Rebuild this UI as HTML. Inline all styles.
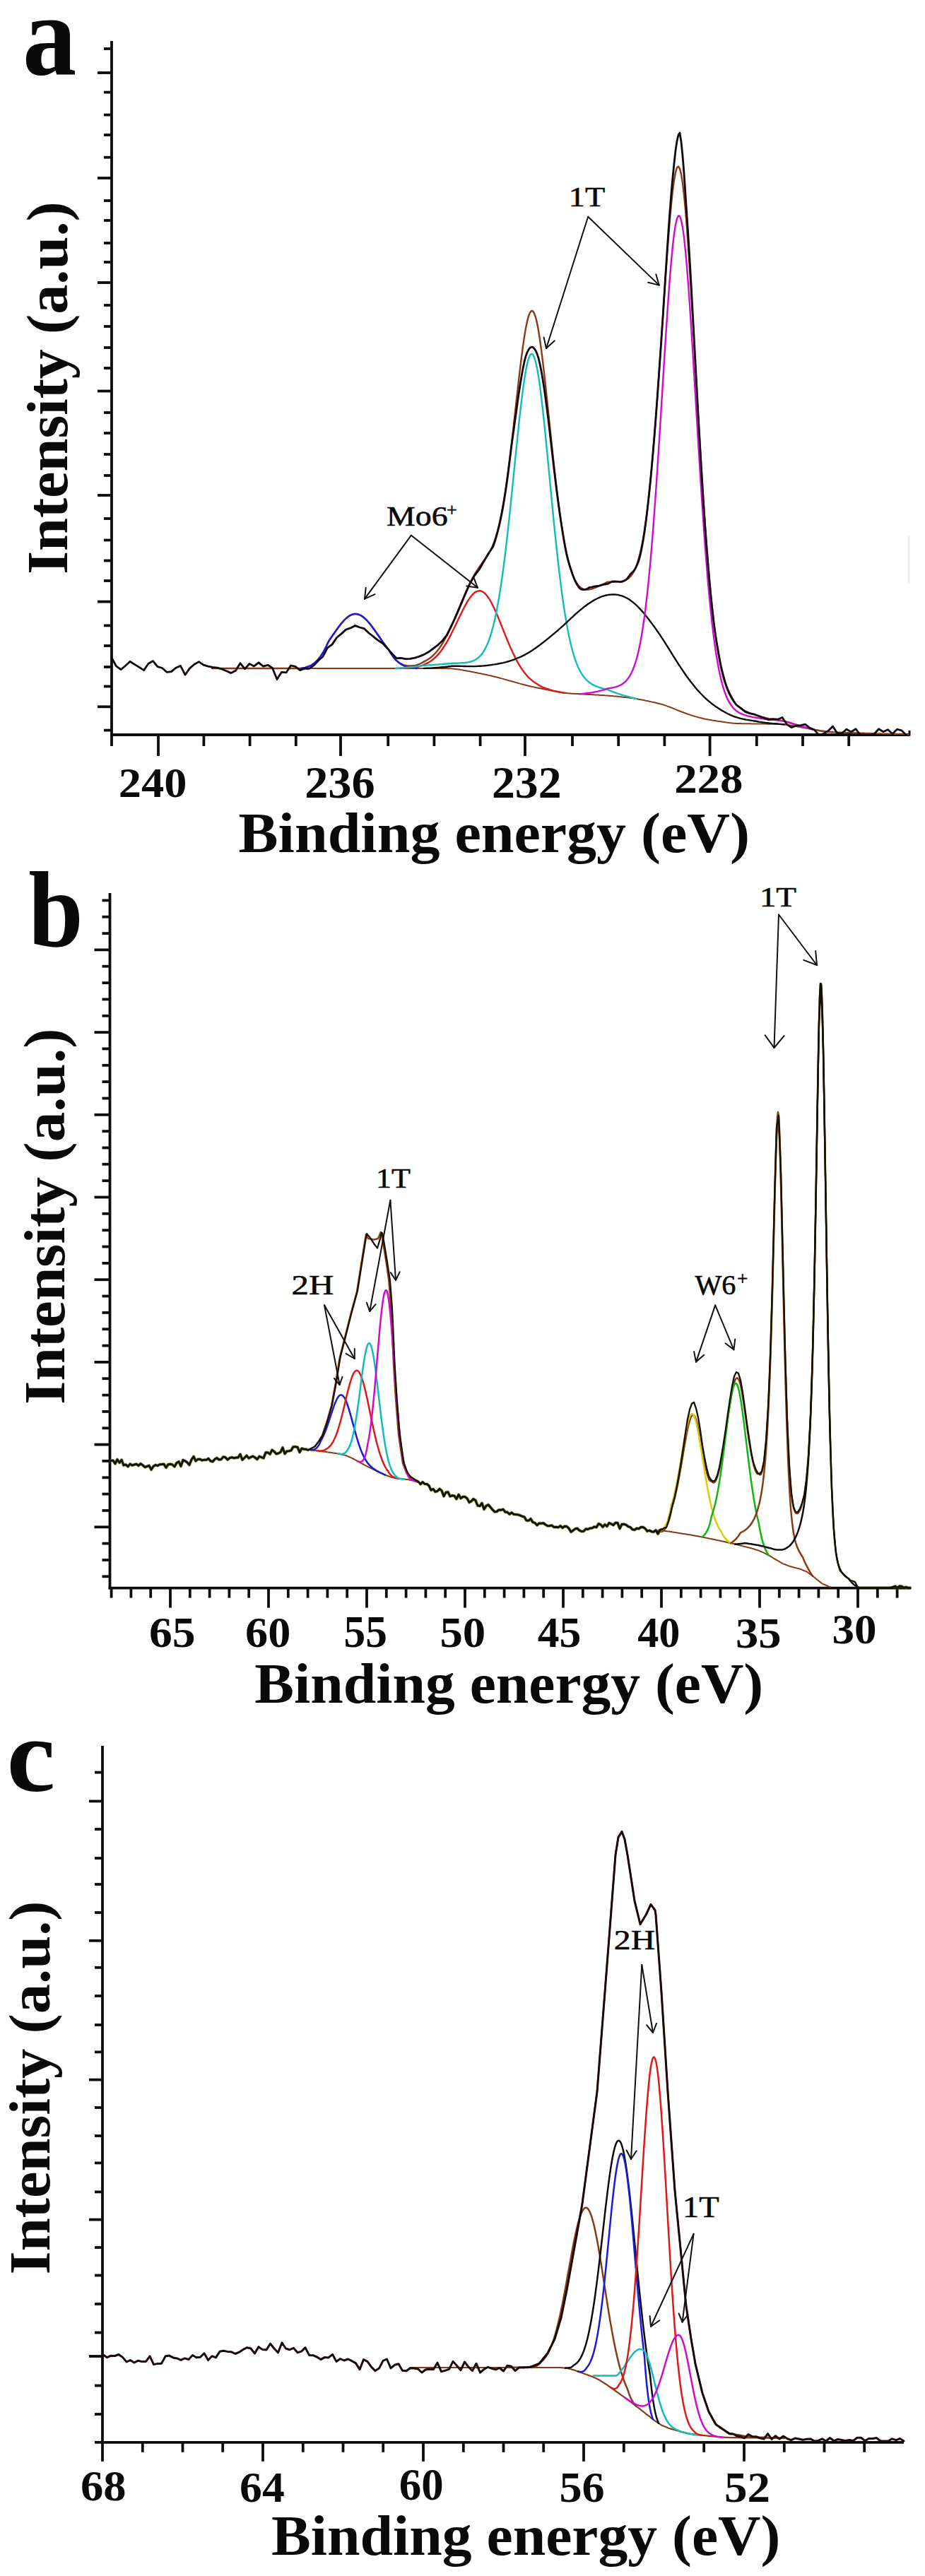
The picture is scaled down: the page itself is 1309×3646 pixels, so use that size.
<!DOCTYPE html>
<html><head><meta charset="utf-8"><title>XPS spectra</title>
<style>
html,body{margin:0;padding:0;background:#fff;}
body{width:1309px;height:3646px;overflow:hidden;font-family:"Liberation Serif",serif;}
svg{display:block;}
</style></head><body>
<svg width="1309" height="3646" viewBox="0 0 1309 3646" font-family="'Liberation Serif', serif" fill="#0a0a0a">
<rect width="1309" height="3646" fill="#ffffff"/>
<line x1="158.0" y1="58.0" x2="158.0" y2="1041.9" stroke="#0c0c0c" stroke-width="3.80" stroke-linecap="butt"/>
<line x1="156.1" y1="1040.0" x2="1287.0" y2="1040.0" stroke="#0c0c0c" stroke-width="3.80" stroke-linecap="butt"/>
<line x1="138.0" y1="103.0" x2="158.0" y2="103.0" stroke="#0c0c0c" stroke-width="3.80" stroke-linecap="butt"/>
<line x1="138.0" y1="252.0" x2="158.0" y2="252.0" stroke="#0c0c0c" stroke-width="3.80" stroke-linecap="butt"/>
<line x1="138.0" y1="400.0" x2="158.0" y2="400.0" stroke="#0c0c0c" stroke-width="3.80" stroke-linecap="butt"/>
<line x1="138.0" y1="553.5" x2="158.0" y2="553.5" stroke="#0c0c0c" stroke-width="3.80" stroke-linecap="butt"/>
<line x1="138.0" y1="701.0" x2="158.0" y2="701.0" stroke="#0c0c0c" stroke-width="3.80" stroke-linecap="butt"/>
<line x1="138.0" y1="851.6" x2="158.0" y2="851.6" stroke="#0c0c0c" stroke-width="3.80" stroke-linecap="butt"/>
<line x1="138.0" y1="1000.3" x2="158.0" y2="1000.3" stroke="#0c0c0c" stroke-width="3.80" stroke-linecap="butt"/>
<line x1="147.0" y1="69.0" x2="158.0" y2="69.0" stroke="#0c0c0c" stroke-width="3.80" stroke-linecap="butt"/>
<line x1="147.0" y1="130.6" x2="158.0" y2="130.6" stroke="#0c0c0c" stroke-width="3.80" stroke-linecap="butt"/>
<line x1="147.0" y1="162.6" x2="158.0" y2="162.6" stroke="#0c0c0c" stroke-width="3.80" stroke-linecap="butt"/>
<line x1="147.0" y1="191.0" x2="158.0" y2="191.0" stroke="#0c0c0c" stroke-width="3.80" stroke-linecap="butt"/>
<line x1="147.0" y1="222.7" x2="158.0" y2="222.7" stroke="#0c0c0c" stroke-width="3.80" stroke-linecap="butt"/>
<line x1="147.0" y1="284.0" x2="158.0" y2="284.0" stroke="#0c0c0c" stroke-width="3.80" stroke-linecap="butt"/>
<line x1="147.0" y1="312.0" x2="158.0" y2="312.0" stroke="#0c0c0c" stroke-width="3.80" stroke-linecap="butt"/>
<line x1="147.0" y1="344.0" x2="158.0" y2="344.0" stroke="#0c0c0c" stroke-width="3.80" stroke-linecap="butt"/>
<line x1="147.0" y1="371.0" x2="158.0" y2="371.0" stroke="#0c0c0c" stroke-width="3.80" stroke-linecap="butt"/>
<line x1="147.0" y1="432.0" x2="158.0" y2="432.0" stroke="#0c0c0c" stroke-width="3.80" stroke-linecap="butt"/>
<line x1="147.0" y1="462.0" x2="158.0" y2="462.0" stroke="#0c0c0c" stroke-width="3.80" stroke-linecap="butt"/>
<line x1="147.0" y1="492.0" x2="158.0" y2="492.0" stroke="#0c0c0c" stroke-width="3.80" stroke-linecap="butt"/>
<line x1="147.0" y1="521.0" x2="158.0" y2="521.0" stroke="#0c0c0c" stroke-width="3.80" stroke-linecap="butt"/>
<line x1="147.0" y1="584.0" x2="158.0" y2="584.0" stroke="#0c0c0c" stroke-width="3.80" stroke-linecap="butt"/>
<line x1="147.0" y1="613.0" x2="158.0" y2="613.0" stroke="#0c0c0c" stroke-width="3.80" stroke-linecap="butt"/>
<line x1="147.0" y1="643.0" x2="158.0" y2="643.0" stroke="#0c0c0c" stroke-width="3.80" stroke-linecap="butt"/>
<line x1="147.0" y1="673.0" x2="158.0" y2="673.0" stroke="#0c0c0c" stroke-width="3.80" stroke-linecap="butt"/>
<line x1="147.0" y1="734.0" x2="158.0" y2="734.0" stroke="#0c0c0c" stroke-width="3.80" stroke-linecap="butt"/>
<line x1="147.0" y1="764.5" x2="158.0" y2="764.5" stroke="#0c0c0c" stroke-width="3.80" stroke-linecap="butt"/>
<line x1="147.0" y1="793.5" x2="158.0" y2="793.5" stroke="#0c0c0c" stroke-width="3.80" stroke-linecap="butt"/>
<line x1="147.0" y1="822.0" x2="158.0" y2="822.0" stroke="#0c0c0c" stroke-width="3.80" stroke-linecap="butt"/>
<line x1="147.0" y1="885.4" x2="158.0" y2="885.4" stroke="#0c0c0c" stroke-width="3.80" stroke-linecap="butt"/>
<line x1="147.0" y1="914.0" x2="158.0" y2="914.0" stroke="#0c0c0c" stroke-width="3.80" stroke-linecap="butt"/>
<line x1="147.0" y1="944.0" x2="158.0" y2="944.0" stroke="#0c0c0c" stroke-width="3.80" stroke-linecap="butt"/>
<line x1="147.0" y1="971.5" x2="158.0" y2="971.5" stroke="#0c0c0c" stroke-width="3.80" stroke-linecap="butt"/>
<line x1="147.0" y1="1033.6" x2="158.0" y2="1033.6" stroke="#0c0c0c" stroke-width="3.80" stroke-linecap="butt"/>
<line x1="224.0" y1="1040.0" x2="224.0" y2="1070.0" stroke="#0c0c0c" stroke-width="3.80" stroke-linecap="butt"/>
<line x1="482.0" y1="1040.0" x2="482.0" y2="1070.0" stroke="#0c0c0c" stroke-width="3.80" stroke-linecap="butt"/>
<line x1="743.0" y1="1040.0" x2="743.0" y2="1070.0" stroke="#0c0c0c" stroke-width="3.80" stroke-linecap="butt"/>
<line x1="1004.6" y1="1040.0" x2="1004.6" y2="1070.0" stroke="#0c0c0c" stroke-width="3.80" stroke-linecap="butt"/>
<line x1="158.0" y1="1040.0" x2="158.0" y2="1056.0" stroke="#0c0c0c" stroke-width="3.80" stroke-linecap="butt"/>
<line x1="288.4" y1="1040.0" x2="288.4" y2="1056.0" stroke="#0c0c0c" stroke-width="3.80" stroke-linecap="butt"/>
<line x1="353.6" y1="1040.0" x2="353.6" y2="1056.0" stroke="#0c0c0c" stroke-width="3.80" stroke-linecap="butt"/>
<line x1="418.8" y1="1040.0" x2="418.8" y2="1056.0" stroke="#0c0c0c" stroke-width="3.80" stroke-linecap="butt"/>
<line x1="549.2" y1="1040.0" x2="549.2" y2="1056.0" stroke="#0c0c0c" stroke-width="3.80" stroke-linecap="butt"/>
<line x1="614.4" y1="1040.0" x2="614.4" y2="1056.0" stroke="#0c0c0c" stroke-width="3.80" stroke-linecap="butt"/>
<line x1="679.6" y1="1040.0" x2="679.6" y2="1056.0" stroke="#0c0c0c" stroke-width="3.80" stroke-linecap="butt"/>
<line x1="810.0" y1="1040.0" x2="810.0" y2="1056.0" stroke="#0c0c0c" stroke-width="3.80" stroke-linecap="butt"/>
<line x1="875.2" y1="1040.0" x2="875.2" y2="1056.0" stroke="#0c0c0c" stroke-width="3.80" stroke-linecap="butt"/>
<line x1="940.4" y1="1040.0" x2="940.4" y2="1056.0" stroke="#0c0c0c" stroke-width="3.80" stroke-linecap="butt"/>
<line x1="1070.8" y1="1040.0" x2="1070.8" y2="1056.0" stroke="#0c0c0c" stroke-width="3.80" stroke-linecap="butt"/>
<line x1="1136.0" y1="1040.0" x2="1136.0" y2="1056.0" stroke="#0c0c0c" stroke-width="3.80" stroke-linecap="butt"/>
<line x1="1201.2" y1="1040.0" x2="1201.2" y2="1056.0" stroke="#0c0c0c" stroke-width="3.80" stroke-linecap="butt"/>
<line x1="1287.0" y1="1034.0" x2="1287.0" y2="1041.6" stroke="#0c0c0c" stroke-width="3.00" stroke-linecap="butt"/>
<line x1="1286.0" y1="758.0" x2="1286.0" y2="826.0" stroke="#ececec" stroke-width="3.00" stroke-linecap="butt"/>
<path d="M300.0 946.0 L302.0 946.0 L304.0 946.0 L306.0 946.0 L308.0 946.0 L310.0 946.0 L312.0 946.0 L314.0 946.0 L316.0 946.0 L318.0 946.0 L320.0 946.0 L322.0 946.0 L324.0 946.0 L326.0 946.0 L328.0 946.0 L330.0 946.0 L332.0 946.0 L334.0 946.0 L336.0 946.0 L338.0 946.0 L340.0 946.0 L342.0 946.0 L344.0 946.0 L346.0 946.0 L348.0 946.0 L350.0 946.0 L352.0 946.0 L354.0 946.0 L356.0 946.0 L358.0 946.0 L360.0 946.0 L362.0 946.0 L364.0 946.0 L366.0 946.0 L368.0 946.0 L370.0 946.0 L372.0 946.0 L374.0 946.0 L376.0 946.0 L378.0 946.0 L380.0 946.0 L382.0 946.0 L384.0 946.0 L386.0 946.0 L388.0 946.0 L390.0 946.0 L392.0 946.0 L394.0 946.0 L396.0 946.0 L398.0 946.0 L400.0 946.0 L402.0 946.0 L404.0 946.0 L406.0 946.0 L408.0 946.0 L410.0 946.0 L412.0 946.0 L414.0 946.0 L416.0 946.0 L418.0 946.0 L420.0 946.0 L422.0 946.0 L424.0 946.0 L426.0 946.0 L428.0 946.0 L430.0 946.0 L432.0 946.0 L434.0 946.0 L436.0 946.0 L438.0 946.0 L440.0 946.0 L442.0 946.0 L444.0 946.0 L446.0 946.0 L448.0 946.0 L450.0 946.0 L452.0 946.0 L454.0 946.0 L456.0 946.0 L458.0 946.0 L460.0 946.0 L462.0 946.0 L464.0 946.0 L466.0 946.0 L468.0 946.0 L470.0 946.0 L472.0 946.0 L474.0 946.0 L476.0 946.0 L478.0 946.0 L480.0 946.0 L482.0 946.0 L484.0 946.0 L486.0 946.0 L488.0 946.0 L490.0 946.0 L492.0 946.0 L494.0 946.0 L496.0 946.0 L498.0 946.0 L500.0 946.0 L502.0 946.0 L504.0 946.0 L506.0 946.0 L508.0 946.0 L510.0 946.0 L512.0 946.0 L514.0 946.0 L516.0 946.0 L518.0 946.0 L520.0 946.0 L522.0 946.0 L524.0 946.0 L526.0 946.0 L528.0 946.0 L530.0 946.0 L532.0 946.0 L534.0 946.0 L536.0 946.0 L538.0 946.0 L540.0 946.0 L542.0 946.0 L544.0 946.0 L546.0 946.0 L548.0 946.0 L550.0 946.0 L552.0 946.0 L554.0 946.0 L556.0 946.0 L558.0 946.0 L560.0 946.0 L562.0 946.0 L564.0 946.0 L566.0 946.0 L568.0 946.0 L570.0 946.0 L572.0 946.0 L574.0 946.0 L576.0 946.0 L578.0 946.0 L580.0 946.0 L582.0 946.0 L584.0 946.0 L586.0 946.0 L588.0 946.0 L590.0 946.0 L592.0 946.0 L594.0 946.0 L596.0 946.0 L598.0 946.0 L600.0 946.0 L602.0 946.0 L604.0 946.0 L606.0 946.0 L608.0 946.0 L610.0 946.0 L612.0 946.0 L614.0 946.0 L616.0 946.0 L618.0 946.0 L620.0 946.0 L622.0 946.0 L624.0 946.0 L626.0 946.0 L628.0 946.0 L630.0 946.0 L632.0 946.1 L634.0 946.2 L636.0 946.2 L638.0 946.3 L640.0 946.4 L642.0 946.6 L644.0 946.9 L646.0 947.1 L648.0 947.4 L650.0 947.6 L652.0 948.0 L654.0 948.3 L656.0 948.7 L658.0 949.0 L660.0 949.4 L662.0 949.8 L664.0 950.1 L666.0 950.5 L668.0 950.9 L670.0 951.3 L672.0 951.7 L674.0 952.1 L676.0 952.5 L678.0 952.9 L680.0 953.3 L682.0 953.8 L684.0 954.2 L686.0 954.6 L688.0 955.0 L690.0 955.4 L692.0 955.9 L694.0 956.3 L696.0 956.7 L698.0 957.2 L700.0 957.7 L702.0 958.2 L704.0 958.8 L706.0 959.3 L708.0 959.8 L710.0 960.4 L712.0 960.9 L714.0 961.5 L716.0 962.0 L718.0 962.6 L720.0 963.2 L722.0 963.7 L724.0 964.3 L726.0 964.8 L728.0 965.4 L730.0 966.0 L732.0 966.5 L734.0 967.1 L736.0 967.6 L738.0 968.2 L740.0 968.7 L742.0 969.2 L744.0 969.8 L746.0 970.3 L748.0 970.8 L750.0 971.2 L752.0 971.7 L754.0 972.1 L756.0 972.6 L758.0 973.0 L760.0 973.4 L762.0 973.8 L764.0 974.2 L766.0 974.6 L768.0 975.0 L770.0 975.4 L772.0 975.8 L774.0 976.2 L776.0 976.6 L778.0 977.0 L780.0 977.4 L782.0 977.8 L784.0 978.2 L786.0 978.6 L788.0 979.0 L790.0 979.4 L792.0 979.7 L794.0 980.0 L796.0 980.3 L798.0 980.7 L800.0 980.8 L802.0 981.0 L804.0 981.2 L806.0 981.4 L808.0 981.6 L810.0 981.7 L812.0 981.8 L814.0 981.9 L816.0 982.0 L818.0 982.1 L820.0 982.2 L822.0 982.3 L824.0 982.4 L826.0 982.5 L828.0 982.7 L830.0 982.8 L832.0 982.9 L834.0 983.0 L836.0 983.1 L838.0 983.2 L840.0 983.3 L842.0 983.4 L844.0 983.5 L846.0 983.6 L848.0 983.7 L850.0 983.9 L852.0 984.0 L854.0 984.1 L856.0 984.3 L858.0 984.4 L860.0 984.5 L862.0 984.7 L864.0 984.9 L866.0 985.1 L868.0 985.3 L870.0 985.4 L872.0 985.6 L874.0 985.8 L876.0 986.1 L878.0 986.3 L880.0 986.5 L882.0 986.7 L884.0 986.9 L886.0 987.1 L888.0 987.3 L890.0 987.5 L892.0 987.8 L894.0 988.1 L896.0 988.3 L898.0 988.6 L900.0 988.9 L902.0 989.3 L904.0 989.7 L906.0 990.0 L908.0 990.4 L910.0 990.8 L912.0 991.2 L914.0 991.7 L916.0 992.1 L918.0 992.5 L920.0 992.9 L922.0 993.4 L924.0 993.8 L926.0 994.2 L928.0 994.7 L930.0 995.2 L932.0 995.7 L934.0 996.2 L936.0 996.7 L938.0 997.3 L940.0 997.9 L942.0 998.6 L944.0 999.4 L946.0 1000.1 L948.0 1000.8 L950.0 1001.6 L952.0 1002.4 L954.0 1003.2 L956.0 1004.1 L958.0 1004.9 L960.0 1005.7 L962.0 1006.5 L964.0 1007.3 L966.0 1008.0 L968.0 1008.8 L970.0 1009.5 L972.0 1010.3 L974.0 1011.0 L976.0 1011.6 L978.0 1012.2 L980.0 1012.9 L982.0 1013.5 L984.0 1014.1 L986.0 1014.6 L988.0 1015.2 L990.0 1015.7 L992.0 1016.2 L994.0 1016.7 L996.0 1017.2 L998.0 1017.7 L1000.0 1018.0 L1002.0 1018.4 L1004.0 1018.8 L1006.0 1019.1 L1008.0 1019.5 L1010.0 1019.8 L1012.0 1020.1 L1014.0 1020.4 L1016.0 1020.7 L1018.0 1021.0 L1020.0 1021.3 L1022.0 1021.6 L1024.0 1021.9 L1026.0 1022.2 L1028.0 1022.5 L1030.0 1022.7 L1032.0 1023.0 L1034.0 1023.2 L1036.0 1023.4 L1038.0 1023.7 L1040.0 1023.8 L1042.0 1023.9 L1044.0 1023.9 L1046.0 1024.0 L1048.0 1024.1 L1050.0 1024.2 L1052.0 1024.2 L1054.0 1024.2 L1056.0 1024.2 L1058.0 1024.3 L1060.0 1024.3 L1062.0 1024.3 L1064.0 1024.4 L1066.0 1024.4 L1068.0 1024.4 L1070.0 1024.4 L1072.0 1024.5 L1074.0 1024.5 L1076.0 1024.5 L1078.0 1024.6 L1080.0 1024.6 L1082.0 1024.6 L1084.0 1024.6 L1086.0 1024.7 L1088.0 1024.7 L1090.0 1024.7 L1092.0 1024.8 L1094.0 1024.8 L1096.0 1024.8 L1098.0 1024.8 L1100.0 1024.9 L1102.0 1025.0 L1104.0 1025.1 L1106.0 1025.2 L1108.0 1025.3 L1110.0 1025.4 L1112.0 1025.7 L1114.0 1026.0 L1116.0 1026.3 L1118.0 1026.6 L1120.0 1026.8 L1122.0 1027.2 L1124.0 1027.6 L1126.0 1027.9 L1128.0 1028.3 L1130.0 1028.7 L1132.0 1029.0 L1134.0 1029.4 L1136.0 1029.8 L1138.0 1030.1 L1140.0 1030.5 L1142.0 1030.9 L1144.0 1031.2 L1146.0 1031.6 L1148.0 1032.0 L1150.0 1032.3 L1152.0 1032.7 L1154.0 1033.1 L1156.0 1033.4 L1158.0 1033.8 L1160.0 1034.2 L1162.0 1034.5 L1164.0 1034.7 L1166.0 1035.0 L1168.0 1035.3 L1170.0 1035.6 L1172.0 1035.8 L1174.0 1035.9 L1176.0 1036.0 L1178.0 1036.2 L1180.0 1036.3 L1182.0 1036.4 L1184.0 1036.4 L1186.0 1036.5 L1188.0 1036.6 L1190.0 1036.6 L1192.0 1036.7 L1194.0 1036.7 L1196.0 1036.8 L1198.0 1036.9 L1200.0 1036.9 L1202.0 1037.0 L1204.0 1037.0 L1206.0 1037.1 L1208.0 1037.2 L1210.0 1037.2 L1212.0 1037.3 L1214.0 1037.4 L1216.0 1037.4 L1218.0 1037.5 L1220.0 1037.5 L1222.0 1037.6 L1224.0 1037.7 L1226.0 1037.7 L1228.0 1037.8 L1230.0 1037.8 L1232.0 1037.9 L1234.0 1038.0 L1236.0 1038.0 L1238.0 1038.1 L1240.0 1038.2 L1242.0 1038.2 L1244.0 1038.3 L1246.0 1038.3 L1248.0 1038.4 L1250.0 1038.5 L1252.0 1038.5 L1254.0 1038.6 L1256.0 1038.6 L1258.0 1038.7 L1260.0 1038.8 L1262.0 1038.8 L1264.0 1038.9 L1266.0 1039.0 L1268.0 1039.0 L1270.0 1039.1 L1272.0 1039.1 L1274.0 1039.2 L1276.0 1039.3 L1278.0 1039.3 L1280.0 1039.4 L1282.0 1039.4 L1284.0 1039.5 L1286.0 1039.6" fill="none" stroke="#8a3a12" stroke-width="2.00" stroke-linejoin="round" stroke-linecap="round" />
<path d="M300.0 946.0 L302.0 946.0 L304.0 946.0 L306.0 946.0 L308.0 946.0 L310.0 946.0 L312.0 946.0 L314.0 946.0 L316.0 946.0 L318.0 946.0 L320.0 946.0 L322.0 946.0 L324.0 946.0 L326.0 946.0 L328.0 946.0 L330.0 946.0 L332.0 946.0 L334.0 946.0 L336.0 946.0 L338.0 946.0 L340.0 946.0 L342.0 946.0 L344.0 946.0 L346.0 946.0 L348.0 946.0 L350.0 946.0 L352.0 946.0 L354.0 946.0 L356.0 946.0 L358.0 946.0 L360.0 946.0 L362.0 946.0 L364.0 946.0 L366.0 946.0 L368.0 946.0 L370.0 946.0 L372.0 946.0 L374.0 946.0 L376.0 946.0 L378.0 946.0 L380.0 946.0 L382.0 946.0 L384.0 946.0 L386.0 946.0 L388.0 946.0 L390.0 946.0 L392.0 946.0 L394.0 946.0 L396.0 946.0 L398.0 946.0 L400.0 946.0 L402.0 946.0 L404.0 946.0 L406.0 946.0 L408.0 946.0 L410.0 946.0 L412.0 946.0 L414.0 946.0 L416.0 946.0 L418.0 946.0 L420.0 946.0 L422.0 946.0 L424.0 946.0 L426.0 945.9 L428.0 945.6 L430.0 945.3 L432.0 944.8 L434.0 944.2 L436.0 943.5 L438.0 942.7 L440.0 941.7 L442.0 940.5 L444.0 939.1 L446.0 937.5 L448.0 935.6 L450.0 933.5 L452.0 931.1 L454.0 928.4 L456.0 925.3 L458.0 922.0 L460.0 918.3 L462.0 914.2 L464.0 909.8 L466.0 906.1 L468.0 903.2 L470.0 900.3 L472.0 897.5 L474.0 894.6 L476.0 891.7 L478.0 889.0 L480.0 886.3 L482.0 883.7 L484.0 881.3 L486.0 879.0 L488.0 876.9 L490.0 875.0 L492.0 873.3 L494.0 871.9 L496.0 870.8 L498.0 869.9 L500.0 869.3 L502.0 869.0 L504.0 869.0 L506.0 869.3 L508.0 869.9 L510.0 870.8 L512.0 871.9 L514.0 873.3 L516.0 875.0 L518.0 876.9 L520.0 879.0 L522.0 881.3 L524.0 883.7 L526.0 886.3 L528.0 889.0 L530.0 891.7 L532.0 894.6 L534.0 897.5 L536.0 900.3 L538.0 903.2 L540.0 906.1 L542.0 908.9 L544.0 911.6 L546.0 914.3 L548.0 916.9 L550.0 919.3 L552.0 922.9 L554.0 926.1 L556.0 929.0 L558.0 931.6 L560.0 933.9 L562.0 935.7 L564.0 937.3 L566.0 938.6 L568.0 939.7 L570.0 940.6 L572.0 941.3 L574.0 941.8 L576.0 942.2 L578.0 942.4 L580.0 942.5 L582.0 942.5 L584.0 942.3 L586.0 942.1 L588.0 941.7 L590.0 941.2 L592.0 940.5 L594.0 939.7 L596.0 938.7 L598.0 937.6 L600.0 936.4 L602.0 935.4 L604.0 934.3 L606.0 933.1 L608.0 931.7 L610.0 930.2 L612.0 928.5 L614.0 926.6 L616.0 924.5 L618.0 922.3 L620.0 919.8 L622.0 917.1 L624.0 914.2 L626.0 911.0 L628.0 907.6 L630.0 904.0 L632.0 900.3 L634.0 896.3 L636.0 892.0 L638.0 887.6 L640.0 883.0 L642.0 878.5 L644.0 874.0 L646.0 869.3 L648.0 864.5 L650.0 859.6 L652.0 854.9 L654.0 850.1 L656.0 845.4 L658.0 840.7 L660.0 836.1 L662.0 831.7 L664.0 827.5 L666.0 823.4 L668.0 819.5 L670.0 815.8 L672.0 812.3 L674.0 809.0 L676.0 805.9 L678.0 803.0 L680.0 800.2 L682.0 797.5 L684.0 794.8 L686.0 792.0 L688.0 789.2 L690.0 786.2 L692.0 782.9 L694.0 779.2 L696.0 775.1 L698.0 770.3 L700.0 765.0 L702.0 758.9 L704.0 751.9 L706.0 744.0 L708.0 735.1 L710.0 725.2 L712.0 714.2 L714.0 702.1 L716.0 689.0 L718.0 674.9 L720.0 659.8 L722.0 643.8 L724.0 627.1 L726.0 609.8 L728.0 592.1 L730.0 574.2 L732.0 556.3 L734.0 538.7 L736.0 521.7 L738.0 505.5 L740.0 490.4 L742.0 476.7 L744.0 464.9 L746.0 455.0 L748.0 447.5 L750.0 442.4 L752.0 440.0 L754.0 440.3 L756.0 443.3 L758.0 449.0 L760.0 457.1 L762.0 467.8 L764.0 480.5 L766.0 494.9 L768.0 510.9 L770.0 528.0 L772.0 546.0 L774.0 564.6 L776.0 583.6 L778.0 602.7 L780.0 621.8 L782.0 640.5 L784.0 658.8 L786.0 676.4 L788.0 693.3 L790.0 709.2 L792.0 724.2 L794.0 738.3 L796.0 751.2 L798.0 763.1 L800.0 773.8 L802.0 783.5 L804.0 792.1 L806.0 799.8 L808.0 806.5 L810.0 812.2 L812.0 817.2 L814.0 821.4 L816.0 825.0 L818.0 827.9 L820.0 830.3 L822.0 831.9 L824.0 833.1 L826.0 833.9 L828.0 834.4 L830.0 834.6 L832.0 834.5 L834.0 834.3 L836.0 833.9 L838.0 833.3 L840.0 832.6 L842.0 831.9 L844.0 831.1 L846.0 830.2 L848.0 829.3 L850.0 828.4 L852.0 827.5 L854.0 826.5 L856.0 825.6 L858.0 824.6 L860.0 823.6 L862.0 823.6 L864.0 823.6 L866.0 823.6 L868.0 823.5 L870.0 823.4 L872.0 823.4 L874.0 823.2 L876.0 823.1 L878.0 822.9 L880.0 822.6 L882.0 822.1 L884.0 821.5 L886.0 820.6 L888.0 819.5 L890.0 818.0 L892.0 816.1 L894.0 813.7 L896.0 810.7 L898.0 807.0 L900.0 802.5 L902.0 796.9 L904.0 790.2 L906.0 782.3 L908.0 773.1 L910.0 762.6 L912.0 750.5 L914.0 736.9 L916.0 721.5 L918.0 704.4 L920.0 685.4 L922.0 664.7 L924.0 642.3 L926.0 618.1 L928.0 592.4 L930.0 565.4 L932.0 537.2 L934.0 508.1 L936.0 478.4 L938.0 448.4 L940.0 418.6 L942.0 389.5 L944.0 361.3 L946.0 334.7 L948.0 310.2 L950.0 288.4 L952.0 269.7 L954.0 254.7 L956.0 243.7 L958.0 237.3 L960.0 235.5 L962.0 238.6 L964.0 246.6 L966.0 259.2 L968.0 276.2 L970.0 297.4 L972.0 322.1 L974.0 350.0 L976.0 380.3 L978.0 412.6 L980.0 446.5 L982.0 481.3 L984.0 516.6 L986.0 552.0 L988.0 587.0 L990.0 621.2 L992.0 654.4 L994.0 686.4 L996.0 716.9 L998.0 745.7 L1000.0 772.7 L1002.0 797.8 L1004.0 821.0 L1006.0 842.4 L1008.0 861.9 L1010.0 879.5 L1012.0 895.3 L1014.0 909.6 L1016.0 922.2 L1018.0 933.5 L1020.0 943.5 L1022.0 952.3 L1024.0 960.0 L1026.0 966.7 L1028.0 972.6 L1030.0 977.8 L1032.0 982.2 L1034.0 986.1 L1036.0 989.5 L1038.0 992.5 L1040.0 995.0 L1042.0 997.2 L1044.0 999.2 L1046.0 1000.9 L1048.0 1002.5 L1050.0 1003.8 L1052.0 1005.0 L1054.0 1006.1 L1056.0 1007.0 L1058.0 1007.9 L1060.0 1008.8 L1062.0 1009.5 L1064.0 1010.3 L1066.0 1010.9 L1068.0 1011.5 L1070.0 1012.1 L1072.0 1012.8 L1074.0 1013.5 L1076.0 1014.1 L1078.0 1014.7 L1080.0 1015.2 L1082.0 1015.7 L1084.0 1016.2 L1086.0 1016.6 L1088.0 1017.1 L1090.0 1017.4 L1092.0 1017.8 L1094.0 1018.1 L1096.0 1018.5 L1098.0 1018.8 L1100.0 1019.0 L1102.0 1019.4 L1104.0 1019.7 L1106.0 1020.0 L1108.0 1020.4 L1110.0 1020.7 L1112.0 1021.3 L1114.0 1021.9 L1116.0 1022.5 L1118.0 1023.1 L1120.0 1023.7 L1122.0 1024.3 L1124.0 1025.0 L1126.0 1025.6 L1128.0 1026.2 L1130.0 1026.8 L1132.0 1027.4 L1134.0 1028.0 L1136.0 1028.5 L1138.0 1029.1 L1140.0 1029.7 L1142.0 1030.2 L1144.0 1030.8 L1146.0 1031.3 L1148.0 1031.8 L1150.0 1032.3 L1152.0 1032.7 L1154.0 1033.1 L1156.0 1033.4 L1158.0 1033.8 L1160.0 1034.2 L1162.0 1034.5 L1164.0 1034.7 L1166.0 1035.0 L1168.0 1035.3 L1170.0 1035.6 L1172.0 1035.8 L1174.0 1035.9 L1176.0 1036.0 L1178.0 1036.2" fill="none" stroke="#8a3a12" stroke-width="2.40" stroke-linejoin="round" stroke-linecap="round" />
<path d="M426.0 945.9 L428.0 945.6 L430.0 945.3 L432.0 944.8 L434.0 944.2 L436.0 943.5 L438.0 942.7 L440.0 941.7 L442.0 940.5 L444.0 939.1 L446.0 937.5 L448.0 935.6 L450.0 933.5 L452.0 931.1 L454.0 928.4 L456.0 925.3 L458.0 922.0 L460.0 918.3 L462.0 914.2 L464.0 909.8 L466.0 906.1 L468.0 903.2 L470.0 900.3 L472.0 897.5 L474.0 894.6 L476.0 891.7 L478.0 889.0 L480.0 886.3 L482.0 883.7 L484.0 881.3 L486.0 879.0 L488.0 876.9 L490.0 875.0 L492.0 873.3 L494.0 871.9 L496.0 870.8 L498.0 869.9 L500.0 869.3 L502.0 869.0 L504.0 869.0 L506.0 869.3 L508.0 869.9 L510.0 870.8 L512.0 871.9 L514.0 873.3 L516.0 875.0 L518.0 876.9 L520.0 879.0 L522.0 881.3 L524.0 883.7 L526.0 886.3 L528.0 889.0 L530.0 891.7 L532.0 894.6 L534.0 897.5 L536.0 900.3 L538.0 903.2 L540.0 906.1 L542.0 908.9 L544.0 911.6 L546.0 914.3 L548.0 916.9 L550.0 919.3 L552.0 922.9 L554.0 926.1 L556.0 929.0 L558.0 931.6 L560.0 933.9 L562.0 935.9 L564.0 937.6 L566.0 939.1 L568.0 940.4 L570.0 941.5 L572.0 942.5 L574.0 943.3 L576.0 943.9 L578.0 944.4 L580.0 944.9 L582.0 945.2 L584.0 945.5 L586.0 945.7 L588.0 945.9 L590.0 946.0" fill="none" stroke="#1a1ad8" stroke-width="2.40" stroke-linejoin="round" stroke-linecap="round" />
<path d="M560.0 946.0 L562.0 946.0 L564.0 945.9 L566.0 945.9 L568.0 945.8 L570.0 945.8 L572.0 945.7 L574.0 945.6 L576.0 945.6 L578.0 945.4 L580.0 945.3 L582.0 945.1 L584.0 944.9 L586.0 944.7 L588.0 944.4 L590.0 944.0 L592.0 943.5 L594.0 943.0 L596.0 942.3 L598.0 941.6 L600.0 940.6 L602.0 939.8 L604.0 938.9 L606.0 937.9 L608.0 936.7 L610.0 935.4 L612.0 934.0 L614.0 932.4 L616.0 930.6 L618.0 928.6 L620.0 926.4 L622.0 924.1 L624.0 921.5 L626.0 918.7 L628.0 915.8 L630.0 912.6 L632.0 909.3 L634.0 905.8 L636.0 902.1 L638.0 898.3 L640.0 894.3 L642.0 890.3 L644.0 886.2 L646.0 882.1 L648.0 877.8 L650.0 873.6 L652.0 869.5 L654.0 865.5 L656.0 861.5 L658.0 857.7 L660.0 854.1 L662.0 850.7 L664.0 847.6 L666.0 844.8 L668.0 842.3 L670.0 840.2 L672.0 838.5 L674.0 837.3 L676.0 836.5 L678.0 836.2 L680.0 836.3 L682.0 837.0 L684.0 838.1 L686.0 839.7 L688.0 841.8 L690.0 844.3 L692.0 847.2 L694.0 850.5 L696.0 854.2 L698.0 858.1 L700.0 862.4 L702.0 866.9 L704.0 871.6 L706.0 876.4 L708.0 881.3 L710.0 886.4 L712.0 891.4 L714.0 896.4 L716.0 901.4 L718.0 906.2 L720.0 911.0 L722.0 915.7 L724.0 920.1 L726.0 924.5 L728.0 928.6 L730.0 932.5 L732.0 936.3 L734.0 939.8 L736.0 943.1 L738.0 946.3 L740.0 949.1 L742.0 951.8 L744.0 954.3 L746.0 956.6 L748.0 958.8 L750.0 960.7 L752.0 962.4 L754.0 964.0 L756.0 965.5 L758.0 966.8 L760.0 968.0 L762.0 969.4 L764.0 970.5 L766.0 971.6 L768.0 972.6 L770.0 973.4 L772.0 974.2 L774.0 974.9 L776.0 975.5 L778.0 976.2 L780.0 976.7 L782.0 977.3 L784.0 977.8 L786.0 978.3 L788.0 978.7 L790.0 979.1 L792.0 979.5 L794.0 979.9 L796.0 980.3 L798.0 980.6 L800.0 980.8" fill="none" stroke="#e01818" stroke-width="2.40" stroke-linejoin="round" stroke-linecap="round" />
<path d="M560.0 946.0 L562.0 945.9 L564.0 945.7 L566.0 945.6 L568.0 945.4 L570.0 945.3 L572.0 945.1 L574.0 944.9 L576.0 944.7 L578.0 944.5 L580.0 944.3 L582.0 944.1 L584.0 943.9 L586.0 943.7 L588.0 943.4 L590.0 943.2 L592.0 942.9 L594.0 942.7 L596.0 942.4 L598.0 942.1 L600.0 941.8 L602.0 941.7 L604.0 941.5 L606.0 941.4 L608.0 941.3 L610.0 941.2 L612.0 941.1 L614.0 940.9 L616.0 940.8 L618.0 940.6 L620.0 940.5 L622.0 940.3 L624.0 940.1 L626.0 940.0 L628.0 939.8 L630.0 939.6 L632.0 939.5 L634.0 939.3 L636.0 939.2 L638.0 939.0 L640.0 938.8 L642.0 938.8 L644.0 938.8 L646.0 938.7 L648.0 938.6 L650.0 938.5 L652.0 938.4 L654.0 938.3 L656.0 938.2 L658.0 938.0 L660.0 937.7 L662.0 937.4 L664.0 937.0 L666.0 936.5 L668.0 935.9 L670.0 935.1 L672.0 934.1 L674.0 933.0 L676.0 931.5 L678.0 929.8 L680.0 927.8 L682.0 925.4 L684.0 922.6 L686.0 919.2 L688.0 915.4 L690.0 911.0 L692.0 905.9 L694.0 900.0 L696.0 893.4 L698.0 886.0 L700.0 877.6 L702.0 868.4 L704.0 858.1 L706.0 846.8 L708.0 834.4 L710.0 821.0 L712.0 806.6 L714.0 791.1 L716.0 774.7 L718.0 757.4 L720.0 739.2 L722.0 720.4 L724.0 701.0 L726.0 681.3 L728.0 661.3 L730.0 641.4 L732.0 621.8 L734.0 602.7 L736.0 584.4 L738.0 567.2 L740.0 551.4 L742.0 537.2 L744.0 525.0 L746.0 515.1 L748.0 507.7 L750.0 502.9 L752.0 500.9 L754.0 501.7 L756.0 505.5 L758.0 512.0 L760.0 521.1 L762.0 532.7 L764.0 546.4 L766.0 562.0 L768.0 579.2 L770.0 597.7 L772.0 617.3 L774.0 637.5 L776.0 658.2 L778.0 679.1 L780.0 700.0 L782.0 720.6 L784.0 740.8 L786.0 760.4 L788.0 779.2 L790.0 797.2 L792.0 814.3 L794.0 830.3 L796.0 845.3 L798.0 859.3 L800.0 872.0 L802.0 883.7 L804.0 894.4 L806.0 904.1 L808.0 912.8 L810.0 920.5 L812.0 927.5 L814.0 933.6 L816.0 939.1 L818.0 943.9 L820.0 948.1 L822.0 951.8 L824.0 955.0 L826.0 957.8 L828.0 960.2 L830.0 962.3 L832.0 964.2 L834.0 965.8 L836.0 967.2 L838.0 968.5 L840.0 969.6 L842.0 970.6 L844.0 971.4 L846.0 972.2 L848.0 972.9 L850.0 973.5 L852.0 974.1 L854.0 974.7 L856.0 975.2 L858.0 975.7 L860.0 976.2 L862.0 977.1 L864.0 977.9 L866.0 978.7 L868.0 979.5 L870.0 980.2 L872.0 980.9 L874.0 981.6 L876.0 982.2 L878.0 982.9 L880.0 983.5 L882.0 984.1 L884.0 984.6 L886.0 985.2 L888.0 985.7 L890.0 986.2 L892.0 986.8 L894.0 987.3 L896.0 987.8 L898.0 988.4 L900.0 988.9" fill="none" stroke="#10bcbc" stroke-width="2.40" stroke-linejoin="round" stroke-linecap="round" />
<path d="M600.0 946.0 L602.0 945.9 L604.0 945.8 L606.0 945.8 L608.0 945.7 L610.0 945.6 L612.0 945.4 L614.0 945.3 L616.0 945.2 L618.0 945.0 L620.0 944.9 L622.0 944.7 L624.0 944.5 L626.0 944.3 L628.0 944.1 L630.0 943.9 L632.0 943.7 L634.0 943.5 L636.0 943.2 L638.0 943.0 L640.0 942.7 L642.0 942.7 L644.0 942.8 L646.0 942.8 L648.0 942.8 L650.0 942.8 L652.0 942.9 L654.0 942.9 L656.0 943.0 L658.0 943.0 L660.0 943.1 L662.0 943.1 L664.0 943.1 L666.0 943.1 L668.0 943.1 L670.0 943.1 L672.0 943.1 L674.0 943.0 L676.0 942.9 L678.0 942.8 L680.0 942.7 L682.0 942.6 L684.0 942.4 L686.0 942.2 L688.0 942.0 L690.0 941.8 L692.0 941.5 L694.0 941.3 L696.0 941.0 L698.0 940.6 L700.0 940.4 L702.0 940.0 L704.0 939.7 L706.0 939.3 L708.0 938.9 L710.0 938.5 L712.0 938.1 L714.0 937.6 L716.0 937.1 L718.0 936.5 L720.0 936.0 L722.0 935.3 L724.0 934.7 L726.0 934.0 L728.0 933.3 L730.0 932.5 L732.0 931.7 L734.0 930.9 L736.0 930.0 L738.0 929.1 L740.0 928.1 L742.0 927.1 L744.0 926.0 L746.0 924.9 L748.0 923.8 L750.0 922.5 L752.0 921.3 L754.0 920.0 L756.0 918.6 L758.0 917.3 L760.0 915.8 L762.0 914.3 L764.0 912.9 L766.0 911.3 L768.0 909.8 L770.0 908.2 L772.0 906.6 L774.0 905.0 L776.0 903.4 L778.0 901.8 L780.0 900.1 L782.0 898.4 L784.0 896.8 L786.0 895.1 L788.0 893.4 L790.0 891.6 L792.0 889.8 L794.0 888.1 L796.0 886.3 L798.0 884.6 L800.0 882.7 L802.0 880.8 L804.0 878.9 L806.0 877.1 L808.0 875.2 L810.0 873.4 L812.0 871.5 L814.0 869.7 L816.0 867.9 L818.0 866.1 L820.0 864.4 L822.0 862.8 L824.0 861.1 L826.0 859.5 L828.0 858.0 L830.0 856.5 L832.0 855.1 L834.0 853.7 L836.0 852.4 L838.0 851.1 L840.0 849.9 L842.0 848.8 L844.0 847.7 L846.0 846.7 L848.0 845.8 L850.0 845.0 L852.0 844.2 L854.0 843.6 L856.0 843.0 L858.0 842.5 L860.0 842.1 L862.0 841.8 L864.0 841.6 L866.0 841.5 L868.0 841.4 L870.0 841.5 L872.0 841.6 L874.0 841.9 L876.0 842.3 L878.0 842.8 L880.0 843.4 L882.0 844.2 L884.0 845.0 L886.0 846.0 L888.0 847.0 L890.0 848.3 L892.0 849.6 L894.0 851.1 L896.0 852.6 L898.0 854.3 L900.0 856.1 L902.0 858.0 L904.0 860.1 L906.0 862.2 L908.0 864.4 L910.0 866.6 L912.0 869.0 L914.0 871.5 L916.0 874.0 L918.0 876.6 L920.0 879.2 L922.0 881.9 L924.0 884.6 L926.0 887.3 L928.0 890.1 L930.0 893.0 L932.0 895.9 L934.0 898.8 L936.0 901.8 L938.0 904.8 L940.0 907.9 L942.0 911.1 L944.0 914.3 L946.0 917.4 L948.0 920.6 L950.0 923.8 L952.0 927.1 L954.0 930.3 L956.0 933.5 L958.0 936.6 L960.0 939.8 L962.0 942.9 L964.0 945.9 L966.0 948.9 L968.0 951.8 L970.0 954.7 L972.0 957.6 L974.0 960.3 L976.0 963.0 L978.0 965.6 L980.0 968.1 L982.0 970.6 L984.0 973.0 L986.0 975.4 L988.0 977.7 L990.0 979.8 L992.0 982.0 L994.0 984.0 L996.0 986.1 L998.0 988.0 L1000.0 989.8 L1002.0 991.6 L1004.0 993.2 L1006.0 994.9 L1008.0 996.5 L1010.0 997.9 L1012.0 999.4 L1014.0 1000.8 L1016.0 1002.1 L1018.0 1003.4 L1020.0 1004.6 L1022.0 1005.9 L1024.0 1007.0 L1026.0 1008.1 L1028.0 1009.2 L1030.0 1010.2 L1032.0 1011.2 L1034.0 1012.1 L1036.0 1012.9 L1038.0 1013.8 L1040.0 1014.5 L1042.0 1015.1 L1044.0 1015.7 L1046.0 1016.3 L1048.0 1016.9 L1050.0 1017.3 L1052.0 1017.8 L1054.0 1018.2 L1056.0 1018.6 L1058.0 1018.9 L1060.0 1019.3 L1062.0 1019.6 L1064.0 1019.9 L1066.0 1020.2 L1068.0 1020.5 L1070.0 1020.8 L1072.0 1021.2 L1074.0 1021.6 L1076.0 1021.9 L1078.0 1022.3 L1080.0 1022.6 L1082.0 1022.8 L1084.0 1023.1 L1086.0 1023.3 L1088.0 1023.5 L1090.0 1023.7 L1092.0 1023.9 L1094.0 1024.1 L1096.0 1024.2 L1098.0 1024.3 L1100.0 1024.5 L1102.0 1024.7 L1104.0 1024.9 L1106.0 1025.1 L1108.0 1025.2 L1110.0 1025.4" fill="none" stroke="#0c0c0c" stroke-width="2.40" stroke-linejoin="round" stroke-linecap="round" />
<path d="M820.0 982.2 L822.0 982.1 L824.0 981.9 L826.0 981.7 L828.0 981.5 L830.0 981.2 L832.0 981.0 L834.0 980.7 L836.0 980.4 L838.0 980.1 L840.0 979.8 L842.0 979.4 L844.0 979.0 L846.0 978.6 L848.0 978.1 L850.0 977.6 L852.0 977.1 L854.0 976.5 L856.0 975.9 L858.0 975.2 L860.0 974.4 L862.0 974.2 L864.0 973.9 L866.0 973.5 L868.0 973.1 L870.0 972.6 L872.0 972.1 L874.0 971.5 L876.0 970.7 L878.0 969.7 L880.0 968.6 L882.0 967.2 L884.0 965.6 L886.0 963.7 L888.0 961.3 L890.0 958.6 L892.0 955.3 L894.0 951.5 L896.0 946.9 L898.0 941.5 L900.0 935.3 L902.0 928.1 L904.0 919.8 L906.0 910.2 L908.0 899.2 L910.0 886.8 L912.0 872.8 L914.0 857.1 L916.0 839.6 L918.0 820.3 L920.0 799.2 L922.0 776.3 L924.0 751.6 L926.0 725.2 L928.0 697.2 L930.0 667.8 L932.0 637.3 L934.0 605.9 L936.0 573.9 L938.0 541.6 L940.0 509.6 L942.0 478.3 L944.0 448.0 L946.0 419.3 L948.0 392.7 L950.0 368.8 L952.0 348.1 L954.0 331.0 L956.0 317.9 L958.0 309.3 L960.0 305.3 L962.0 306.1 L964.0 311.7 L966.0 321.9 L968.0 336.5 L970.0 355.2 L972.0 377.5 L974.0 402.9 L976.0 430.8 L978.0 460.9 L980.0 492.5 L982.0 525.2 L984.0 558.4 L986.0 591.8 L988.0 624.9 L990.0 657.3 L992.0 688.9 L994.0 719.2 L996.0 748.1 L998.0 775.4 L1000.0 801.0 L1002.0 824.7 L1004.0 846.6 L1006.0 866.6 L1008.0 884.9 L1010.0 901.3 L1012.0 916.1 L1014.0 929.2 L1016.0 940.8 L1018.0 951.1 L1020.0 960.1 L1022.0 968.0 L1024.0 974.9 L1026.0 980.8 L1028.0 985.9 L1030.0 990.3 L1032.0 994.0 L1034.0 997.2 L1036.0 1000.0 L1038.0 1002.4 L1040.0 1004.3 L1042.0 1006.0 L1044.0 1007.4 L1046.0 1008.7 L1048.0 1009.7 L1050.0 1010.6 L1052.0 1011.4 L1054.0 1012.1 L1056.0 1012.7 L1058.0 1013.3 L1060.0 1013.8 L1062.0 1014.2 L1064.0 1014.7 L1066.0 1015.1 L1068.0 1015.4 L1070.0 1015.8 L1072.0 1016.1 L1074.0 1016.4 L1076.0 1016.7 L1078.0 1017.0 L1080.0 1017.3 L1082.0 1017.5 L1084.0 1017.8 L1086.0 1018.0 L1088.0 1018.2 L1090.0 1018.5 L1092.0 1018.7 L1094.0 1018.9 L1096.0 1019.1 L1098.0 1019.2 L1100.0 1019.4 L1102.0 1019.7 L1104.0 1019.9 L1106.0 1020.2 L1108.0 1020.4 L1110.0 1020.7 L1112.0 1021.3 L1114.0 1021.9 L1116.0 1022.5 L1118.0 1023.1 L1120.0 1023.7 L1122.0 1024.3 L1124.0 1025.0 L1126.0 1025.6 L1128.0 1026.2 L1130.0 1026.8 L1132.0 1027.4 L1134.0 1028.0 L1136.0 1028.5 L1138.0 1029.1 L1140.0 1029.7 L1142.0 1030.2 L1144.0 1030.8 L1146.0 1031.3 L1148.0 1031.8 L1150.0 1032.3" fill="none" stroke="#d00ad0" stroke-width="2.40" stroke-linejoin="round" stroke-linecap="round" />
<path d="M158.0 931.0 L164.5 942.8 L171.0 947.7 L177.5 942.2 L184.0 936.3 L190.5 940.4 L197.0 944.4 L203.5 948.7 L210.0 939.2 L216.5 935.5 L223.0 943.7 L229.5 945.5 L236.0 951.3 L242.5 950.6 L249.0 945.2 L255.5 942.4 L262.0 955.1 L268.5 945.9 L275.0 940.2 L281.5 936.6 L288.0 941.2 L294.5 943.1 L301.0 944.4 L307.5 945.1 L314.0 947.0 L320.5 949.7 L327.0 952.6 L333.5 949.3 L340.0 938.6 L346.5 946.8 L353.0 939.5 L359.5 942.9 L366.0 937.8 L372.5 943.2 L379.0 941.3 L385.5 945.4 L392.0 961.6 L398.5 951.3 L405.0 951.9 L411.5 941.9 L418.0 943.4 L424.5 948.7 L431.0 946.2 L437.5 946.3 L444.0 941.9 L450.5 935.0 L457.0 929.2 L463.5 916.8 L470.0 912.1 L476.5 902.5 L483.0 897.1 L489.5 891.1 L496.0 888.9 L502.5 885.4 L509.0 888.0 L515.5 889.7 L522.0 896.0 L528.5 901.2 L535.0 906.3 L541.5 910.5 L548.0 917.6 L554.5 924.6 L561.0 931.6 L567.5 931.4 L574.0 932.6 L580.5 932.4 L587.0 931.1 L593.5 929.1 L600.0 926.4 L606.5 922.8 L613.0 918.0 L619.5 913.0 L626.0 906.9 L632.5 898.5 L639.0 885.5 L645.5 871.5 L652.0 856.1 L658.5 840.8 L665.0 826.0 L671.5 814.6 L678.0 806.3 L684.5 794.7 L691.0 783.7 L697.5 774.3 L700.0 767.3 L702.0 760.7 L704.0 753.3 L706.0 745.6 L708.0 737.0 L710.0 727.3 L712.0 716.5 L714.0 704.6 L716.0 691.8 L718.0 677.5 L720.0 662.0 L722.0 645.8 L724.0 629.8 L726.0 615.4 L728.0 601.0 L730.0 586.9 L732.0 572.1 L734.0 558.1 L736.0 545.2 L738.0 532.8 L740.0 521.7 L742.0 512.1 L744.0 504.4 L746.0 498.8 L748.0 494.9 L750.0 492.3 L752.0 491.1 L754.0 491.4 L756.0 493.2 L758.0 496.2 L760.0 500.6 L762.0 506.8 L764.0 515.1 L766.0 525.0 L768.0 536.4 L770.0 549.2 L772.0 563.3 L774.0 578.5 L776.0 594.6 L778.0 611.6 L780.0 629.0 L782.0 646.5 L784.0 663.5 L786.0 680.2 L788.0 696.4 L790.0 711.6 L792.0 726.0 L794.0 739.5 L796.0 752.4 L798.0 764.8 L800.0 775.9 L802.0 785.7 L804.0 793.5 L806.0 800.3 L808.0 806.1 L810.0 812.3 L812.0 817.8 L814.0 822.5 L816.0 826.4 L818.0 829.6 L820.0 832.3 L822.0 833.8 L824.0 834.4 L826.0 834.6 L828.0 834.4 L830.0 833.7 L832.0 832.7 L834.0 831.5 L836.0 831.2 L838.0 830.8 L840.0 830.2 L842.0 829.9 L844.0 829.7 L846.0 829.5 L848.0 829.0 L850.0 828.4 L852.0 827.9 L854.0 827.4 L856.0 827.0 L858.0 826.7 L860.0 826.4 L862.0 825.3 L864.0 824.2 L866.0 823.2 L868.0 823.0 L870.0 823.0 L872.0 823.1 L874.0 823.2 L876.0 823.4 L878.0 823.6 L880.0 823.4 L882.0 822.7 L884.0 821.8 L886.0 820.7 L888.0 818.4 L890.0 815.7 L892.0 812.7 L894.0 810.8 L896.0 809.0 L898.0 806.4 L900.0 803.0 L902.0 798.5 L904.0 793.0 L906.0 785.9 L908.0 776.5 L910.0 765.7 L912.0 753.4 L914.0 738.7 L916.0 722.3 L918.0 704.2 L920.0 684.9 L922.0 664.0 L924.0 641.4 L926.0 617.3 L928.0 591.8 L930.0 564.8 L932.0 536.9 L934.0 508.5 L936.0 479.3 L938.0 449.5 L940.0 418.0 L942.0 386.6 L944.0 355.9 L946.0 326.3 L948.0 298.4 L950.0 273.0 L952.0 251.1 L954.0 231.0 L956.0 212.9 L958.0 199.6 L960.0 191.0 L962.0 188.1 L964.0 200.8 L966.0 220.5 L968.0 245.4 L970.0 275.0 L972.0 304.8 L974.0 334.9 L976.0 367.4 L978.0 402.1 L980.0 438.2 L982.0 475.0 L984.0 511.9 L986.0 549.0 L988.0 585.5 L990.0 620.9 L992.0 655.1 L994.0 687.9 L996.0 719.1 L998.0 748.0 L1000.0 774.9 L1002.0 799.8 L1004.0 822.8 L1006.0 844.0 L1008.0 863.2 L1010.0 880.3 L1012.0 895.1 L1014.0 908.2 L1016.0 919.7 L1018.0 931.2 L1020.0 941.3 L1022.0 950.2 L1024.0 958.0 L1026.0 964.9 L1028.0 970.9 L1030.0 976.1 L1032.0 980.6 L1034.0 984.6 L1036.0 988.2 L1038.0 991.8 L1042.0 997.7 L1048.5 1002.4 L1055.0 1007.7 L1061.5 1009.9 L1068.0 1011.2 L1074.5 1013.7 L1081.0 1016.2 L1087.5 1018.6 L1094.0 1017.7 L1100.5 1018.2 L1107.0 1015.5 L1113.5 1025.3 L1120.0 1029.6 L1126.5 1027.2 L1133.0 1026.7 L1139.5 1025.2 L1146.0 1030.3 L1152.5 1033.1 L1159.0 1040.5 L1165.5 1038.2 L1172.0 1034.4 L1178.5 1027.9 L1185.0 1038.1 L1191.5 1037.8 L1198.0 1032.1 L1204.5 1036.0 L1211.0 1031.7 L1217.5 1040.5 L1224.0 1040.5 L1230.5 1040.5 L1237.0 1039.0 L1243.5 1031.7 L1250.0 1035.8 L1256.5 1032.7 L1263.0 1038.7 L1269.5 1032.2 L1276.0 1033.9 L1282.5 1040.5" fill="none" stroke="#120812" stroke-width="2.80" stroke-linejoin="round" stroke-linecap="round" />
<text transform="translate(32.04 105.00) scale(0.9308 1)" font-size="163.83" font-weight="bold">a</text>
<text transform="translate(94.50 812.74) rotate(-90) scale(1.0140 1)" font-size="83.21" font-weight="bold">Intensity (a.u.)</text>
<text transform="translate(167.76 1128.00) scale(1.0713 1)" font-size="60.15" font-weight="bold">240</text>
<text transform="translate(431.18 1128.50) scale(1.0590 1)" font-size="62.64" font-weight="bold">236</text>
<text transform="translate(696.01 1128.50) scale(1.0492 1)" font-size="62.64" font-weight="bold">232</text>
<text transform="translate(954.14 1122.00) scale(1.0792 1)" font-size="60.15" font-weight="bold">228</text>
<text transform="translate(337.53 1206.20) scale(1.0523 1)" font-size="79.85" font-weight="bold">Binding energy (eV)</text>
<text transform="translate(804.74 292.10) scale(1.1415 1)" font-size="40.61" stroke="#0a0a0a" stroke-width="0.60">1T</text>
<line x1="832.2" y1="306.7" x2="773.0" y2="493.0" stroke="#111" stroke-width="2.00" stroke-linecap="round"/>
<line x1="773.0" y1="493.0" x2="769.6" y2="477.4" stroke="#111" stroke-width="2.00" stroke-linecap="round"/>
<line x1="773.0" y1="493.0" x2="784.8" y2="482.2" stroke="#111" stroke-width="2.00" stroke-linecap="round"/>
<line x1="832.2" y1="306.7" x2="932.7" y2="403.6" stroke="#111" stroke-width="2.00" stroke-linecap="round"/>
<line x1="932.7" y1="403.6" x2="917.2" y2="399.7" stroke="#111" stroke-width="2.00" stroke-linecap="round"/>
<line x1="932.7" y1="403.6" x2="928.3" y2="388.2" stroke="#111" stroke-width="2.00" stroke-linecap="round"/>
<text transform="translate(546.94 743.50) scale(1.1178 1)" font-size="41.06" stroke="#0a0a0a" stroke-width="0.60">Mo6</text>
<text transform="translate(631.99 729.60) scale(1.0153 1)" font-size="25.84" stroke="#0a0a0a" stroke-width="0.60">+</text>
<line x1="581.9" y1="757.7" x2="516.0" y2="847.7" stroke="#111" stroke-width="2.00" stroke-linecap="round"/>
<line x1="516.0" y1="847.7" x2="517.7" y2="831.8" stroke="#111" stroke-width="2.00" stroke-linecap="round"/>
<line x1="516.0" y1="847.7" x2="530.6" y2="841.2" stroke="#111" stroke-width="2.00" stroke-linecap="round"/>
<line x1="581.9" y1="757.7" x2="676.0" y2="831.8" stroke="#111" stroke-width="2.00" stroke-linecap="round"/>
<line x1="676.0" y1="831.8" x2="660.2" y2="829.5" stroke="#111" stroke-width="2.00" stroke-linecap="round"/>
<line x1="676.0" y1="831.8" x2="670.1" y2="816.9" stroke="#111" stroke-width="2.00" stroke-linecap="round"/>
<line x1="155.5" y1="1264.0" x2="155.5" y2="2249.5" stroke="#0c0c0c" stroke-width="3.80" stroke-linecap="butt"/>
<line x1="153.6" y1="2247.6" x2="1289.0" y2="2247.6" stroke="#0c0c0c" stroke-width="3.80" stroke-linecap="butt"/>
<line x1="133.5" y1="1344.4" x2="155.5" y2="1344.4" stroke="#0c0c0c" stroke-width="3.80" stroke-linecap="butt"/>
<line x1="133.5" y1="1461.1" x2="155.5" y2="1461.1" stroke="#0c0c0c" stroke-width="3.80" stroke-linecap="butt"/>
<line x1="133.5" y1="1577.8" x2="155.5" y2="1577.8" stroke="#0c0c0c" stroke-width="3.80" stroke-linecap="butt"/>
<line x1="133.5" y1="1694.5" x2="155.5" y2="1694.5" stroke="#0c0c0c" stroke-width="3.80" stroke-linecap="butt"/>
<line x1="133.5" y1="1811.2" x2="155.5" y2="1811.2" stroke="#0c0c0c" stroke-width="3.80" stroke-linecap="butt"/>
<line x1="133.5" y1="1927.9" x2="155.5" y2="1927.9" stroke="#0c0c0c" stroke-width="3.80" stroke-linecap="butt"/>
<line x1="133.5" y1="2044.6" x2="155.5" y2="2044.6" stroke="#0c0c0c" stroke-width="3.80" stroke-linecap="butt"/>
<line x1="133.5" y1="2161.3" x2="155.5" y2="2161.3" stroke="#0c0c0c" stroke-width="3.80" stroke-linecap="butt"/>
<line x1="144.5" y1="1274.4" x2="155.5" y2="1274.4" stroke="#0c0c0c" stroke-width="3.80" stroke-linecap="butt"/>
<line x1="144.5" y1="1297.7" x2="155.5" y2="1297.7" stroke="#0c0c0c" stroke-width="3.80" stroke-linecap="butt"/>
<line x1="144.5" y1="1321.1" x2="155.5" y2="1321.1" stroke="#0c0c0c" stroke-width="3.80" stroke-linecap="butt"/>
<line x1="144.5" y1="1367.7" x2="155.5" y2="1367.7" stroke="#0c0c0c" stroke-width="3.80" stroke-linecap="butt"/>
<line x1="144.5" y1="1391.1" x2="155.5" y2="1391.1" stroke="#0c0c0c" stroke-width="3.80" stroke-linecap="butt"/>
<line x1="144.5" y1="1414.4" x2="155.5" y2="1414.4" stroke="#0c0c0c" stroke-width="3.80" stroke-linecap="butt"/>
<line x1="144.5" y1="1437.8" x2="155.5" y2="1437.8" stroke="#0c0c0c" stroke-width="3.80" stroke-linecap="butt"/>
<line x1="144.5" y1="1484.4" x2="155.5" y2="1484.4" stroke="#0c0c0c" stroke-width="3.80" stroke-linecap="butt"/>
<line x1="144.5" y1="1507.8" x2="155.5" y2="1507.8" stroke="#0c0c0c" stroke-width="3.80" stroke-linecap="butt"/>
<line x1="144.5" y1="1531.1" x2="155.5" y2="1531.1" stroke="#0c0c0c" stroke-width="3.80" stroke-linecap="butt"/>
<line x1="144.5" y1="1554.5" x2="155.5" y2="1554.5" stroke="#0c0c0c" stroke-width="3.80" stroke-linecap="butt"/>
<line x1="144.5" y1="1601.1" x2="155.5" y2="1601.1" stroke="#0c0c0c" stroke-width="3.80" stroke-linecap="butt"/>
<line x1="144.5" y1="1624.5" x2="155.5" y2="1624.5" stroke="#0c0c0c" stroke-width="3.80" stroke-linecap="butt"/>
<line x1="144.5" y1="1647.8" x2="155.5" y2="1647.8" stroke="#0c0c0c" stroke-width="3.80" stroke-linecap="butt"/>
<line x1="144.5" y1="1671.2" x2="155.5" y2="1671.2" stroke="#0c0c0c" stroke-width="3.80" stroke-linecap="butt"/>
<line x1="144.5" y1="1717.8" x2="155.5" y2="1717.8" stroke="#0c0c0c" stroke-width="3.80" stroke-linecap="butt"/>
<line x1="144.5" y1="1741.2" x2="155.5" y2="1741.2" stroke="#0c0c0c" stroke-width="3.80" stroke-linecap="butt"/>
<line x1="144.5" y1="1764.5" x2="155.5" y2="1764.5" stroke="#0c0c0c" stroke-width="3.80" stroke-linecap="butt"/>
<line x1="144.5" y1="1787.9" x2="155.5" y2="1787.9" stroke="#0c0c0c" stroke-width="3.80" stroke-linecap="butt"/>
<line x1="144.5" y1="1834.5" x2="155.5" y2="1834.5" stroke="#0c0c0c" stroke-width="3.80" stroke-linecap="butt"/>
<line x1="144.5" y1="1857.9" x2="155.5" y2="1857.9" stroke="#0c0c0c" stroke-width="3.80" stroke-linecap="butt"/>
<line x1="144.5" y1="1881.2" x2="155.5" y2="1881.2" stroke="#0c0c0c" stroke-width="3.80" stroke-linecap="butt"/>
<line x1="144.5" y1="1904.6" x2="155.5" y2="1904.6" stroke="#0c0c0c" stroke-width="3.80" stroke-linecap="butt"/>
<line x1="144.5" y1="1951.2" x2="155.5" y2="1951.2" stroke="#0c0c0c" stroke-width="3.80" stroke-linecap="butt"/>
<line x1="144.5" y1="1974.6" x2="155.5" y2="1974.6" stroke="#0c0c0c" stroke-width="3.80" stroke-linecap="butt"/>
<line x1="144.5" y1="1997.9" x2="155.5" y2="1997.9" stroke="#0c0c0c" stroke-width="3.80" stroke-linecap="butt"/>
<line x1="144.5" y1="2021.3" x2="155.5" y2="2021.3" stroke="#0c0c0c" stroke-width="3.80" stroke-linecap="butt"/>
<line x1="144.5" y1="2067.9" x2="155.5" y2="2067.9" stroke="#0c0c0c" stroke-width="3.80" stroke-linecap="butt"/>
<line x1="144.5" y1="2091.3" x2="155.5" y2="2091.3" stroke="#0c0c0c" stroke-width="3.80" stroke-linecap="butt"/>
<line x1="144.5" y1="2114.6" x2="155.5" y2="2114.6" stroke="#0c0c0c" stroke-width="3.80" stroke-linecap="butt"/>
<line x1="144.5" y1="2138.0" x2="155.5" y2="2138.0" stroke="#0c0c0c" stroke-width="3.80" stroke-linecap="butt"/>
<line x1="144.5" y1="2184.6" x2="155.5" y2="2184.6" stroke="#0c0c0c" stroke-width="3.80" stroke-linecap="butt"/>
<line x1="144.5" y1="2208.0" x2="155.5" y2="2208.0" stroke="#0c0c0c" stroke-width="3.80" stroke-linecap="butt"/>
<line x1="144.5" y1="2231.3" x2="155.5" y2="2231.3" stroke="#0c0c0c" stroke-width="3.80" stroke-linecap="butt"/>
<line x1="241.0" y1="2247.6" x2="241.0" y2="2275.6" stroke="#0c0c0c" stroke-width="3.80" stroke-linecap="butt"/>
<line x1="380.0" y1="2247.6" x2="380.0" y2="2275.6" stroke="#0c0c0c" stroke-width="3.80" stroke-linecap="butt"/>
<line x1="519.0" y1="2247.6" x2="519.0" y2="2275.6" stroke="#0c0c0c" stroke-width="3.80" stroke-linecap="butt"/>
<line x1="658.0" y1="2247.6" x2="658.0" y2="2275.6" stroke="#0c0c0c" stroke-width="3.80" stroke-linecap="butt"/>
<line x1="797.0" y1="2247.6" x2="797.0" y2="2275.6" stroke="#0c0c0c" stroke-width="3.80" stroke-linecap="butt"/>
<line x1="936.0" y1="2247.6" x2="936.0" y2="2275.6" stroke="#0c0c0c" stroke-width="3.80" stroke-linecap="butt"/>
<line x1="1075.0" y1="2247.6" x2="1075.0" y2="2275.6" stroke="#0c0c0c" stroke-width="3.80" stroke-linecap="butt"/>
<line x1="1214.0" y1="2247.6" x2="1214.0" y2="2275.6" stroke="#0c0c0c" stroke-width="3.80" stroke-linecap="butt"/>
<line x1="1269.6" y1="2247.6" x2="1269.6" y2="2261.6" stroke="#0c0c0c" stroke-width="3.80" stroke-linecap="butt"/>
<line x1="1241.8" y1="2247.6" x2="1241.8" y2="2261.6" stroke="#0c0c0c" stroke-width="3.80" stroke-linecap="butt"/>
<line x1="1186.2" y1="2247.6" x2="1186.2" y2="2261.6" stroke="#0c0c0c" stroke-width="3.80" stroke-linecap="butt"/>
<line x1="1158.4" y1="2247.6" x2="1158.4" y2="2261.6" stroke="#0c0c0c" stroke-width="3.80" stroke-linecap="butt"/>
<line x1="1130.6" y1="2247.6" x2="1130.6" y2="2261.6" stroke="#0c0c0c" stroke-width="3.80" stroke-linecap="butt"/>
<line x1="1102.8" y1="2247.6" x2="1102.8" y2="2261.6" stroke="#0c0c0c" stroke-width="3.80" stroke-linecap="butt"/>
<line x1="1047.2" y1="2247.6" x2="1047.2" y2="2261.6" stroke="#0c0c0c" stroke-width="3.80" stroke-linecap="butt"/>
<line x1="1019.4" y1="2247.6" x2="1019.4" y2="2261.6" stroke="#0c0c0c" stroke-width="3.80" stroke-linecap="butt"/>
<line x1="991.6" y1="2247.6" x2="991.6" y2="2261.6" stroke="#0c0c0c" stroke-width="3.80" stroke-linecap="butt"/>
<line x1="963.8" y1="2247.6" x2="963.8" y2="2261.6" stroke="#0c0c0c" stroke-width="3.80" stroke-linecap="butt"/>
<line x1="908.2" y1="2247.6" x2="908.2" y2="2261.6" stroke="#0c0c0c" stroke-width="3.80" stroke-linecap="butt"/>
<line x1="880.4" y1="2247.6" x2="880.4" y2="2261.6" stroke="#0c0c0c" stroke-width="3.80" stroke-linecap="butt"/>
<line x1="852.6" y1="2247.6" x2="852.6" y2="2261.6" stroke="#0c0c0c" stroke-width="3.80" stroke-linecap="butt"/>
<line x1="824.8" y1="2247.6" x2="824.8" y2="2261.6" stroke="#0c0c0c" stroke-width="3.80" stroke-linecap="butt"/>
<line x1="769.2" y1="2247.6" x2="769.2" y2="2261.6" stroke="#0c0c0c" stroke-width="3.80" stroke-linecap="butt"/>
<line x1="741.4" y1="2247.6" x2="741.4" y2="2261.6" stroke="#0c0c0c" stroke-width="3.80" stroke-linecap="butt"/>
<line x1="713.6" y1="2247.6" x2="713.6" y2="2261.6" stroke="#0c0c0c" stroke-width="3.80" stroke-linecap="butt"/>
<line x1="685.8" y1="2247.6" x2="685.8" y2="2261.6" stroke="#0c0c0c" stroke-width="3.80" stroke-linecap="butt"/>
<line x1="630.2" y1="2247.6" x2="630.2" y2="2261.6" stroke="#0c0c0c" stroke-width="3.80" stroke-linecap="butt"/>
<line x1="602.4" y1="2247.6" x2="602.4" y2="2261.6" stroke="#0c0c0c" stroke-width="3.80" stroke-linecap="butt"/>
<line x1="574.6" y1="2247.6" x2="574.6" y2="2261.6" stroke="#0c0c0c" stroke-width="3.80" stroke-linecap="butt"/>
<line x1="546.8" y1="2247.6" x2="546.8" y2="2261.6" stroke="#0c0c0c" stroke-width="3.80" stroke-linecap="butt"/>
<line x1="491.2" y1="2247.6" x2="491.2" y2="2261.6" stroke="#0c0c0c" stroke-width="3.80" stroke-linecap="butt"/>
<line x1="463.4" y1="2247.6" x2="463.4" y2="2261.6" stroke="#0c0c0c" stroke-width="3.80" stroke-linecap="butt"/>
<line x1="435.6" y1="2247.6" x2="435.6" y2="2261.6" stroke="#0c0c0c" stroke-width="3.80" stroke-linecap="butt"/>
<line x1="407.8" y1="2247.6" x2="407.8" y2="2261.6" stroke="#0c0c0c" stroke-width="3.80" stroke-linecap="butt"/>
<line x1="352.2" y1="2247.6" x2="352.2" y2="2261.6" stroke="#0c0c0c" stroke-width="3.80" stroke-linecap="butt"/>
<line x1="324.4" y1="2247.6" x2="324.4" y2="2261.6" stroke="#0c0c0c" stroke-width="3.80" stroke-linecap="butt"/>
<line x1="296.6" y1="2247.6" x2="296.6" y2="2261.6" stroke="#0c0c0c" stroke-width="3.80" stroke-linecap="butt"/>
<line x1="268.8" y1="2247.6" x2="268.8" y2="2261.6" stroke="#0c0c0c" stroke-width="3.80" stroke-linecap="butt"/>
<line x1="213.2" y1="2247.6" x2="213.2" y2="2261.6" stroke="#0c0c0c" stroke-width="3.80" stroke-linecap="butt"/>
<line x1="185.4" y1="2247.6" x2="185.4" y2="2261.6" stroke="#0c0c0c" stroke-width="3.80" stroke-linecap="butt"/>
<line x1="157.6" y1="2247.6" x2="157.6" y2="2261.6" stroke="#0c0c0c" stroke-width="3.80" stroke-linecap="butt"/>
<path d="M437.0 2052.1 L438.0 2052.2 L439.0 2052.2 L440.0 2052.3 L441.0 2052.4 L442.0 2052.5 L443.0 2052.6 L444.0 2052.8 L445.0 2052.9 L446.0 2053.0 L447.0 2053.1 L448.0 2053.2 L449.0 2053.3 L450.0 2053.4 L451.0 2053.6 L452.0 2053.7 L453.0 2053.9 L454.0 2054.0 L455.0 2054.1 L456.0 2054.3 L457.0 2054.4 L458.0 2054.6 L459.0 2054.7 L460.0 2054.8 L461.0 2055.0 L462.0 2055.1 L463.0 2055.3 L464.0 2055.4 L465.0 2055.5 L466.0 2055.7 L467.0 2055.8 L468.0 2056.0 L469.0 2056.1 L470.0 2056.2 L471.0 2056.4 L472.0 2056.5 L473.0 2056.7 L474.0 2056.8 L475.0 2056.9 L476.0 2057.1 L477.0 2057.2 L478.0 2057.4 L479.0 2057.5 L480.0 2057.7 L481.0 2057.9 L482.0 2058.2 L483.0 2058.4 L484.0 2058.7 L485.0 2058.9 L486.0 2059.1 L487.0 2059.4 L488.0 2059.6 L489.0 2059.9 L490.0 2060.2 L491.0 2060.6 L492.0 2061.1 L493.0 2061.5 L494.0 2062.0 L495.0 2062.4 L496.0 2062.9 L497.0 2063.3 L498.0 2063.8 L499.0 2064.3 L500.0 2064.7 L501.0 2065.3 L502.0 2065.9 L503.0 2066.4 L504.0 2067.0 L505.0 2067.5 L506.0 2068.1 L507.0 2068.6 L508.0 2069.2 L509.0 2069.8 L510.0 2070.3 L511.0 2070.9 L512.0 2071.4 L513.0 2072.0 L514.0 2072.5 L515.0 2073.0 L516.0 2073.6 L517.0 2074.1 L518.0 2074.6 L519.0 2075.2 L520.0 2075.7 L521.0 2076.2 L522.0 2076.8 L523.0 2077.2 L524.0 2077.7 L525.0 2078.2 L526.0 2078.7 L527.0 2079.2 L528.0 2079.7 L529.0 2080.1 L530.0 2080.6 L531.0 2081.1 L532.0 2081.6 L533.0 2082.1 L534.0 2082.5 L535.0 2083.0 L536.0 2083.4 L537.0 2083.9 L538.0 2084.4 L539.0 2084.8 L540.0 2085.3 L541.0 2085.7 L542.0 2086.2 L543.0 2086.7 L544.0 2087.1 L545.0 2087.5 L546.0 2087.9 L547.0 2088.3 L548.0 2088.7 L549.0 2089.0 L550.0 2089.4 L551.0 2089.8 L552.0 2090.1 L553.0 2090.5 L554.0 2090.9 L555.0 2091.2 L556.0 2091.3 L557.0 2091.5 L558.0 2091.7 L559.0 2091.9 L560.0 2092.1 L561.0 2092.3 L562.0 2092.4 L563.0 2092.6 L564.0 2092.8 L565.0 2093.0 L566.0 2093.1 L567.0 2093.1 L568.0 2093.2 L569.0 2093.3 L570.0 2093.4 L571.0 2093.5 L572.0 2093.6 L573.0 2093.7 L574.0 2093.8 L575.0 2093.9 L576.0 2094.0 L577.0 2094.1 L578.0 2094.3 L579.0 2094.5 L580.0 2094.7 L581.0 2094.9 L582.0 2095.1 L583.0 2095.3 L584.0 2095.5 L585.0 2095.8 L586.0 2096.0 L587.0 2096.2 L588.0 2096.6 L589.0 2097.1 L590.0 2097.5 L591.0 2098.0" fill="none" stroke="#8a3a12" stroke-width="2.00" stroke-linejoin="round" stroke-linecap="round" />
<path d="M931.0 2166.1 L932.0 2166.1 L933.0 2166.2 L934.0 2166.2 L935.0 2166.3 L936.0 2166.3 L937.0 2166.4 L938.0 2166.5 L939.0 2166.6 L940.0 2166.8 L941.0 2166.9 L942.0 2167.0 L943.0 2167.1 L944.0 2167.3 L945.0 2167.4 L946.0 2167.5 L947.0 2167.6 L948.0 2167.8 L949.0 2168.0 L950.0 2168.1 L951.0 2168.3 L952.0 2168.4 L953.0 2168.6 L954.0 2168.8 L955.0 2168.9 L956.0 2169.1 L957.0 2169.3 L958.0 2169.4 L959.0 2169.6 L960.0 2169.7 L961.0 2169.9 L962.0 2170.1 L963.0 2170.2 L964.0 2170.4 L965.0 2170.5 L966.0 2170.7 L967.0 2170.9 L968.0 2171.0 L969.0 2171.2 L970.0 2171.3 L971.0 2171.5 L972.0 2171.7 L973.0 2171.8 L974.0 2172.0 L975.0 2172.1 L976.0 2172.3 L977.0 2172.5 L978.0 2172.6 L979.0 2172.8 L980.0 2173.0 L981.0 2173.2 L982.0 2173.3 L983.0 2173.5 L984.0 2173.7 L985.0 2173.9 L986.0 2174.0 L987.0 2174.2 L988.0 2174.4 L989.0 2174.6 L990.0 2174.8 L991.0 2175.0 L992.0 2175.2 L993.0 2175.4 L994.0 2175.6 L995.0 2175.8 L996.0 2176.0 L997.0 2176.2 L998.0 2176.4 L999.0 2176.6 L1000.0 2176.8 L1001.0 2177.0 L1002.0 2177.2 L1003.0 2177.4 L1004.0 2177.6 L1005.0 2177.9 L1006.0 2178.1 L1007.0 2178.3 L1008.0 2178.5 L1009.0 2178.7 L1010.0 2178.9 L1011.0 2179.1 L1012.0 2179.3 L1013.0 2179.5 L1014.0 2179.7 L1015.0 2179.9 L1016.0 2180.1 L1017.0 2180.4 L1018.0 2180.6 L1019.0 2180.8 L1020.0 2181.0 L1021.0 2181.2 L1022.0 2181.4 L1023.0 2181.6 L1024.0 2181.9 L1025.0 2182.1 L1026.0 2182.3 L1027.0 2182.5 L1028.0 2182.7 L1029.0 2182.9 L1030.0 2183.2 L1031.0 2183.4 L1032.0 2183.7 L1033.0 2183.9 L1034.0 2184.1 L1035.0 2184.4 L1036.0 2184.6 L1037.0 2184.8 L1038.0 2185.1 L1039.0 2185.3 L1040.0 2185.6 L1041.0 2185.8 L1042.0 2186.1 L1043.0 2186.3 L1044.0 2186.6 L1045.0 2186.8 L1046.0 2187.1 L1047.0 2187.3 L1048.0 2187.6 L1049.0 2187.8 L1050.0 2188.1 L1051.0 2188.3 L1052.0 2188.6 L1053.0 2188.8 L1054.0 2189.1 L1055.0 2189.3 L1056.0 2189.6 L1057.0 2189.8 L1058.0 2190.1 L1059.0 2190.3 L1060.0 2190.6 L1061.0 2190.8 L1062.0 2191.1 L1063.0 2191.3 L1064.0 2191.6 L1065.0 2191.9 L1066.0 2192.2 L1067.0 2192.5 L1068.0 2192.8 L1069.0 2193.2 L1070.0 2193.5 L1071.0 2193.8 L1072.0 2194.1 L1073.0 2194.4 L1074.0 2194.8 L1075.0 2195.2 L1076.0 2195.7 L1077.0 2196.1 L1078.0 2196.5 L1079.0 2196.9 L1080.0 2197.4 L1081.0 2197.8 L1082.0 2198.3 L1083.0 2198.8 L1084.0 2199.3 L1085.0 2199.8 L1086.0 2200.4 L1087.0 2200.9 L1088.0 2201.4 L1089.0 2202.0 L1090.0 2202.5 L1091.0 2203.1 L1092.0 2203.8 L1093.0 2204.4 L1094.0 2205.0 L1095.0 2205.7 L1096.0 2206.3 L1097.0 2206.9 L1098.0 2207.5 L1099.0 2208.0 L1100.0 2208.6 L1101.0 2209.2 L1102.0 2209.7 L1103.0 2210.3 L1104.0 2210.9 L1105.0 2211.5 L1106.0 2212.1 L1107.0 2212.7 L1108.0 2213.2 L1109.0 2213.6 L1110.0 2213.9 L1111.0 2214.3 L1112.0 2214.7 L1113.0 2215.1 L1114.0 2215.5 L1115.0 2215.9 L1116.0 2216.2 L1117.0 2216.6 L1118.0 2216.9 L1119.0 2217.2 L1120.0 2217.5 L1121.0 2217.8 L1122.0 2218.0 L1123.0 2218.3 L1124.0 2218.6 L1125.0 2218.9 L1126.0 2219.1 L1127.0 2219.4 L1128.0 2219.6 L1129.0 2219.9 L1130.0 2220.1 L1131.0 2220.4 L1132.0 2220.6 L1133.0 2221.0 L1134.0 2221.4 L1135.0 2221.9 L1136.0 2222.3 L1137.0 2222.7 L1138.0 2223.1 L1139.0 2223.5 L1140.0 2223.9 L1141.0 2224.3 L1142.0 2224.7 L1143.0 2225.5 L1144.0 2226.2 L1145.0 2226.9 L1146.0 2227.7 L1147.0 2228.4 L1148.0 2229.2 L1149.0 2229.9 L1150.0 2230.7 L1151.0 2231.4 L1152.0 2232.2 L1153.0 2233.1 L1154.0 2234.0 L1155.0 2234.8 L1156.0 2235.5 L1157.0 2236.3 L1158.0 2237.1 L1159.0 2237.9 L1160.0 2238.6 L1161.0 2239.4 L1162.0 2240.2 L1163.0 2241.0 L1164.0 2241.7 L1165.0 2242.2 L1166.0 2242.6 L1167.0 2243.0 L1168.0 2243.4 L1169.0 2243.8 L1170.0 2244.2 L1171.0 2244.6 L1172.0 2245.1 L1173.0 2245.5 L1174.0 2245.8 L1175.0 2246.1" fill="none" stroke="#8a3a12" stroke-width="2.00" stroke-linejoin="round" stroke-linecap="round" />
<path d="M435.0 2052.5 L436.0 2052.1 L437.0 2051.6 L438.0 2051.2 L439.0 2050.7 L440.0 2050.2 L441.0 2049.8 L442.0 2049.3 L443.0 2048.9 L444.0 2048.4 L445.0 2048.0 L446.0 2046.7 L447.0 2045.3 L448.0 2044.0 L449.0 2042.7 L450.0 2041.3 L451.0 2040.0 L452.0 2038.3 L453.0 2036.6 L454.0 2035.0 L455.0 2033.3 L456.0 2031.6 L457.0 2028.7 L458.0 2025.7 L459.0 2022.8 L460.0 2019.9 L461.0 2016.9 L462.0 2014.0 L463.0 2010.5 L464.0 2007.0 L465.0 2003.5 L466.0 2000.0 L467.0 1996.5 L468.0 1993.0 L469.0 1989.5 L470.0 1984.1 L471.0 1978.7 L472.0 1973.2 L473.0 1967.8 L474.0 1962.4 L475.0 1957.0 L476.0 1950.8 L477.0 1944.5 L478.0 1938.2 L479.0 1932.0 L480.0 1925.8 L481.0 1920.4 L482.0 1916.5 L483.0 1912.6 L484.0 1908.7 L485.0 1904.8 L486.0 1900.8 L487.0 1896.9 L488.0 1893.0 L489.0 1889.0 L490.0 1885.0 L491.0 1881.1 L492.0 1877.1 L493.0 1873.1 L494.0 1869.1 L495.0 1865.2 L496.0 1861.2 L497.0 1857.4 L498.0 1853.7 L499.0 1850.1 L500.0 1846.4 L501.0 1842.7 L502.0 1839.0 L503.0 1835.4 L504.0 1831.7 L505.0 1828.0 L506.0 1821.7 L507.0 1815.3 L508.0 1809.0 L509.0 1802.7 L510.0 1796.3 L511.0 1790.0 L512.0 1783.8 L513.0 1777.5 L514.0 1771.3 L515.0 1765.1 L516.0 1758.8 L517.0 1752.6 L518.0 1747.2 L519.0 1749.1 L520.0 1751.1 L521.0 1753.0 L522.0 1753.2 L523.0 1753.4 L524.0 1753.6 L525.0 1753.8 L526.0 1754.0 L527.0 1754.2 L528.0 1754.4 L529.0 1754.6 L530.0 1754.3 L531.0 1754.1 L532.0 1753.8 L533.0 1753.5 L534.0 1753.3 L535.0 1753.0 L536.0 1750.7 L537.0 1748.4 L538.0 1746.1 L539.0 1743.8 L540.0 1745.9 L541.0 1752.3 L542.0 1758.6 L543.0 1764.7 L544.0 1770.8 L545.0 1776.9 L546.0 1783.0 L547.0 1789.8 L548.0 1796.6 L549.0 1803.5 L550.0 1810.3 L551.0 1820.9 L552.0 1834.0 L553.0 1847.1 L554.0 1864.1 L555.0 1886.8 L556.0 1909.5 L557.0 1931.6 L558.0 1947.6 L559.0 1963.7 L560.0 1979.7 L561.0 1992.3 L562.0 2004.8 L563.0 2017.4 L564.0 2030.0 L565.0 2037.0 L566.0 2044.0 L567.0 2050.9 L568.0 2057.9 L569.0 2064.9 L570.0 2071.0 L571.0 2073.6 L572.0 2076.2 L573.0 2078.8 L574.0 2081.4 L575.0 2084.0 L576.0 2085.2 L577.0 2086.4 L578.0 2087.6 L579.0 2088.8 L580.0 2090.0 L581.0 2090.7 L582.0 2091.3 L583.0 2092.0 L584.0 2092.7 L585.0 2093.3 L586.0 2094.0 L587.0 2094.4 L588.0 2094.8 L589.0 2095.2 L590.0 2095.6 L591.0 2096.0" fill="none" stroke="#8a3a12" stroke-width="2.40" stroke-linejoin="round" stroke-linecap="round" />
<path d="M931.0 2167.6 L932.0 2167.6 L933.0 2167.7 L934.0 2167.7 L935.0 2167.8 L936.0 2167.8 L937.0 2167.9 L938.0 2167.2 L939.0 2166.3 L940.0 2165.3 L941.0 2164.1 L942.0 2162.7 L943.0 2161.0 L944.0 2159.0 L945.0 2156.7 L946.0 2154.1 L947.0 2151.0 L948.0 2147.5 L949.0 2143.5 L950.0 2138.9 L951.0 2133.6 L952.0 2130.5 L953.0 2127.1 L954.0 2123.5 L955.0 2119.6 L956.0 2115.4 L957.0 2111.0 L958.0 2106.4 L959.0 2101.5 L960.0 2096.4 L961.0 2091.1 L962.0 2085.6 L963.0 2079.9 L964.0 2074.1 L965.0 2068.2 L966.0 2062.2 L967.0 2056.3 L968.0 2050.3 L969.0 2044.5 L970.0 2038.8 L971.0 2033.2 L972.0 2028.0 L973.0 2023.0 L974.0 2018.5 L975.0 2014.4 L976.0 2010.8 L977.0 2007.8 L978.0 2005.5 L979.0 2003.8 L980.0 2002.9 L981.0 2002.7 L982.0 2003.2 L983.0 2004.5 L984.0 2006.5 L985.0 2009.2 L986.0 2012.5 L987.0 2016.4 L988.0 2020.9 L989.0 2025.8 L990.0 2031.1 L991.0 2036.7 L992.0 2042.6 L993.0 2048.7 L994.0 2054.1 L995.0 2059.4 L996.0 2064.7 L997.0 2069.8 L998.0 2074.7 L999.0 2079.2 L1000.0 2083.4 L1001.0 2087.1 L1002.0 2090.4 L1003.0 2093.0 L1004.0 2095.0 L1005.0 2096.3 L1006.0 2096.8 L1007.0 2096.5 L1008.0 2097.7 L1009.0 2098.4 L1010.0 2098.6 L1011.0 2098.2 L1012.0 2097.2 L1013.0 2095.6 L1014.0 2093.5 L1015.0 2090.9 L1016.0 2087.7 L1017.0 2083.9 L1018.0 2079.7 L1019.0 2074.9 L1020.0 2069.7 L1021.0 2064.1 L1022.0 2058.1 L1023.0 2052.6 L1024.0 2046.7 L1025.0 2040.5 L1026.0 2034.0 L1027.0 2027.2 L1028.0 2020.4 L1029.0 2013.5 L1030.0 2006.6 L1031.0 1999.9 L1032.0 1993.5 L1033.0 1987.4 L1034.0 1981.7 L1035.0 1975.6 L1036.0 1970.2 L1037.0 1964.9 L1038.0 1960.5 L1039.0 1956.8 L1040.0 1954.1 L1041.0 1951.9 L1042.0 1950.7 L1043.0 1950.3 L1044.0 1950.8 L1045.0 1952.2 L1046.0 1954.2 L1047.0 1957.0 L1048.0 1960.4 L1049.0 1965.6 L1050.0 1971.3 L1051.0 1977.4 L1052.0 1983.8 L1053.0 1990.5 L1054.0 1997.3 L1055.0 2004.5 L1056.0 2011.8 L1057.0 2018.9 L1058.0 2026.0 L1059.0 2032.8 L1060.0 2039.4 L1061.0 2045.7 L1062.0 2051.7 L1063.0 2057.3 L1064.0 2062.5 L1065.0 2067.3 L1066.0 2071.6 L1067.0 2075.4 L1068.0 2078.7 L1069.0 2081.4 L1070.0 2083.5 L1071.0 2085.1 L1072.0 2086.0 L1073.0 2086.2 L1074.0 2085.9 L1075.0 2087.3 L1076.0 2087.5 L1077.0 2086.5 L1078.0 2084.2 L1079.0 2080.6 L1080.0 2075.7 L1081.0 2069.4 L1082.0 2061.5 L1083.0 2052.0 L1084.0 2040.7 L1085.0 2027.3 L1086.0 2011.7 L1087.0 1993.7 L1088.0 1972.9 L1089.0 1948.5 L1090.0 1921.1 L1091.0 1890.7 L1092.0 1857.2 L1093.0 1820.7 L1094.0 1781.7 L1095.0 1741.0 L1096.0 1700.1 L1097.0 1661.0 L1098.0 1626.1 L1099.0 1598.2 L1100.0 1580.2 L1101.0 1574.0 L1102.0 1580.1 L1103.0 1597.5 L1104.0 1624.7 L1105.0 1659.7 L1106.0 1699.9 L1107.0 1743.1 L1108.0 1787.4 L1109.0 1831.2 L1110.0 1873.3 L1111.0 1912.8 L1112.0 1949.2 L1113.0 1982.0 L1114.0 2011.1 L1115.0 2036.6 L1116.0 2058.4 L1117.0 2076.8 L1118.0 2092.1 L1119.0 2104.6 L1120.0 2114.7 L1121.0 2122.7 L1122.0 2128.9 L1123.0 2133.6 L1124.0 2137.1 L1125.0 2139.6 L1126.0 2141.2 L1127.0 2142.0 L1128.0 2142.2 L1129.0 2141.8 L1130.0 2140.9 L1131.0 2139.5 L1132.0 2137.5 L1133.0 2135.3 L1134.0 2132.4 L1135.0 2129.0 L1136.0 2125.0 L1137.0 2121.4 L1138.0 2116.9 L1139.0 2111.4 L1140.0 2104.6 L1141.0 2096.4 L1142.0 2086.7 L1143.0 2075.4 L1144.0 2062.0 L1145.0 2046.1 L1146.0 2027.5 L1147.0 2005.6 L1148.0 1980.1 L1149.0 1950.6 L1150.0 1916.6 L1151.0 1877.3 L1152.0 1833.0 L1153.0 1784.0 L1154.0 1730.3 L1155.0 1672.6 L1156.0 1612.6 L1157.0 1552.6 L1158.0 1496.2 L1159.0 1447.8 L1160.0 1412.1 L1161.0 1393.4 L1162.0 1393.8 L1163.0 1410.7 L1164.0 1442.5 L1165.0 1486.4 L1166.0 1539.8 L1167.0 1599.5 L1168.0 1662.9 L1169.0 1727.2 L1170.0 1790.3 L1171.0 1850.7 L1172.0 1906.9 L1173.0 1958.2 L1174.0 2004.0 L1175.0 2044.1" fill="none" stroke="#8a3a12" stroke-width="2.40" stroke-linejoin="round" stroke-linecap="round" />
<path d="M440.0 2052.3 L441.0 2052.3 L442.0 2052.1 L443.0 2052.0 L444.0 2051.7 L445.0 2051.3 L446.0 2050.8 L447.0 2050.2 L448.0 2049.4 L449.0 2048.3 L450.0 2047.1 L451.0 2045.6 L452.0 2043.8 L453.0 2041.7 L454.0 2039.2 L455.0 2037.6 L456.0 2035.7 L457.0 2033.7 L458.0 2031.6 L459.0 2029.3 L460.0 2026.9 L461.0 2024.3 L462.0 2021.6 L463.0 2018.8 L464.0 2015.9 L465.0 2012.9 L466.0 2009.9 L467.0 2006.8 L468.0 2003.7 L469.0 2000.6 L470.0 1997.5 L471.0 1994.6 L472.0 1991.7 L473.0 1988.9 L474.0 1986.3 L475.0 1983.9 L476.0 1981.7 L477.0 1979.7 L478.0 1978.0 L479.0 1976.6 L480.0 1975.5 L481.0 1974.8 L482.0 1974.4 L483.0 1974.4 L484.0 1974.7 L485.0 1975.4 L486.0 1976.4 L487.0 1977.7 L488.0 1979.3 L489.0 1981.2 L490.0 1983.5 L491.0 1986.1 L492.0 1989.0 L493.0 1992.1 L494.0 1995.4 L495.0 1998.8 L496.0 2002.3 L497.0 2005.9 L498.0 2009.6 L499.0 2013.3 L500.0 2017.0 L501.0 2020.8 L502.0 2024.5 L503.0 2028.1 L504.0 2031.7 L505.0 2035.2 L506.0 2038.5 L507.0 2041.7 L508.0 2044.8 L509.0 2047.7 L510.0 2050.5 L511.0 2053.1 L512.0 2055.6 L513.0 2057.9 L514.0 2060.0 L515.0 2062.1 L516.0 2063.9 L517.0 2065.7 L518.0 2067.3 L519.0 2068.8 L520.0 2070.2 L521.0 2071.5 L522.0 2072.7 L523.0 2073.8 L524.0 2074.8 L525.0 2075.7 L526.0 2076.6 L527.0 2077.4 L528.0 2078.2 L529.0 2078.9 L530.0 2079.6 L531.0 2080.3 L532.0 2081.0 L533.0 2081.6 L534.0 2082.2 L535.0 2082.7 L536.0 2083.2 L537.0 2083.8 L538.0 2084.3 L539.0 2084.8 L540.0 2085.2 L541.0 2085.7 L542.0 2086.2 L543.0 2086.7 L544.0 2087.1 L545.0 2087.5" fill="none" stroke="#1a1ad8" stroke-width="2.50" stroke-linejoin="round" stroke-linecap="round" />
<path d="M448.0 2053.2 L449.0 2053.3 L450.0 2053.4 L451.0 2053.4 L452.0 2053.5 L453.0 2053.5 L454.0 2053.5 L455.0 2053.4 L456.0 2053.3 L457.0 2053.1 L458.0 2052.9 L459.0 2052.5 L460.0 2052.0 L461.0 2051.4 L462.0 2050.7 L463.0 2050.1 L464.0 2049.4 L465.0 2048.6 L466.0 2047.7 L467.0 2046.6 L468.0 2045.5 L469.0 2044.2 L470.0 2042.7 L471.0 2041.1 L472.0 2039.3 L473.0 2037.3 L474.0 2035.1 L475.0 2032.7 L476.0 2030.2 L477.0 2027.4 L478.0 2024.5 L479.0 2021.3 L480.0 2018.0 L481.0 2014.6 L482.0 2011.0 L483.0 2007.2 L484.0 2003.3 L485.0 1999.3 L486.0 1995.1 L487.0 1990.9 L488.0 1986.6 L489.0 1982.3 L490.0 1978.0 L491.0 1974.0 L492.0 1969.9 L493.0 1966.0 L494.0 1962.3 L495.0 1958.7 L496.0 1955.3 L497.0 1952.1 L498.0 1949.2 L499.0 1946.7 L500.0 1944.5 L501.0 1942.7 L502.0 1941.4 L503.0 1940.4 L504.0 1939.9 L505.0 1939.7 L506.0 1940.1 L507.0 1940.8 L508.0 1942.0 L509.0 1943.6 L510.0 1945.5 L511.0 1947.8 L512.0 1950.5 L513.0 1953.4 L514.0 1956.7 L515.0 1960.3 L516.0 1964.2 L517.0 1968.3 L518.0 1972.6 L519.0 1977.0 L520.0 1981.6 L521.0 1986.4 L522.0 1991.2 L523.0 1996.0 L524.0 2000.8 L525.0 2005.6 L526.0 2010.4 L527.0 2015.2 L528.0 2019.8 L529.0 2024.4 L530.0 2028.9 L531.0 2033.2 L532.0 2037.4 L533.0 2041.4 L534.0 2045.2 L535.0 2048.9 L536.0 2052.3 L537.0 2055.6 L538.0 2058.8 L539.0 2061.7 L540.0 2064.5 L541.0 2067.1 L542.0 2069.5 L543.0 2071.8 L544.0 2073.9 L545.0 2075.8 L546.0 2077.6 L547.0 2079.2 L548.0 2080.7 L549.0 2082.0 L550.0 2083.7 L551.0 2085.2 L552.0 2086.5 L553.0 2087.7 L554.0 2088.7 L555.0 2089.5 L556.0 2090.1 L557.0 2090.6 L558.0 2091.1 L559.0 2091.5 L560.0 2091.8 L561.0 2092.1 L562.0 2092.4 L563.0 2092.6" fill="none" stroke="#e01818" stroke-width="2.50" stroke-linejoin="round" stroke-linecap="round" />
<path d="M478.0 2057.4 L479.0 2057.5 L480.0 2057.6 L481.0 2057.7 L482.0 2057.9 L483.0 2057.9 L484.0 2057.9 L485.0 2057.8 L486.0 2057.6 L487.0 2057.2 L488.0 2056.6 L489.0 2055.8 L490.0 2054.7 L491.0 2053.4 L492.0 2051.6 L493.0 2050.1 L494.0 2048.3 L495.0 2046.2 L496.0 2043.6 L497.0 2040.7 L498.0 2037.3 L499.0 2033.5 L500.0 2029.3 L501.0 2024.6 L502.0 2019.4 L503.0 2013.8 L504.0 2007.7 L505.0 2001.2 L506.0 1994.3 L507.0 1987.1 L508.0 1979.6 L509.0 1971.9 L510.0 1964.1 L511.0 1956.3 L512.0 1948.6 L513.0 1941.0 L514.0 1933.8 L515.0 1927.1 L516.0 1920.9 L517.0 1915.4 L518.0 1910.7 L519.0 1906.8 L520.0 1903.9 L521.0 1902.0 L522.0 1901.1 L523.0 1901.3 L524.0 1902.5 L525.0 1904.7 L526.0 1907.8 L527.0 1911.9 L528.0 1916.9 L529.0 1922.6 L530.0 1929.1 L531.0 1936.2 L532.0 1943.7 L533.0 1951.7 L534.0 1960.0 L535.0 1968.4 L536.0 1977.0 L537.0 1985.5 L538.0 1994.0 L539.0 2002.3 L540.0 2010.3 L541.0 2018.1 L542.0 2025.4 L543.0 2032.4 L544.0 2039.0 L545.0 2045.1 L546.0 2050.7 L547.0 2055.8 L548.0 2060.5 L549.0 2064.7 L550.0 2068.6 L551.0 2072.0 L552.0 2075.1 L553.0 2077.8 L554.0 2080.2 L555.0 2082.3 L556.0 2084.0 L557.0 2085.5 L558.0 2086.8 L559.0 2088.2 L560.0 2089.3 L561.0 2090.2 L562.0 2091.0 L563.0 2091.6 L564.0 2092.1 L565.0 2092.4 L566.0 2092.7 L567.0 2092.9 L568.0 2093.1 L569.0 2093.3 L570.0 2093.4 L571.0 2093.5 L572.0 2093.6" fill="none" stroke="#10bcbc" stroke-width="2.50" stroke-linejoin="round" stroke-linecap="round" />
<path d="M506.0 2068.1 L507.0 2068.5 L508.0 2068.8 L509.0 2069.0 L510.0 2069.1 L511.0 2068.9 L512.0 2068.6 L513.0 2067.8 L514.0 2066.7 L515.0 2065.1 L516.0 2062.9 L517.0 2060.0 L518.0 2056.2 L519.0 2051.5 L520.0 2045.6 L521.0 2040.9 L522.0 2035.5 L523.0 2029.4 L524.0 2022.6 L525.0 2015.1 L526.0 2006.9 L527.0 1998.0 L528.0 1988.4 L529.0 1978.2 L530.0 1967.4 L531.0 1956.1 L532.0 1944.5 L533.0 1932.6 L534.0 1920.6 L535.0 1908.7 L536.0 1896.9 L537.0 1885.5 L538.0 1874.6 L539.0 1864.5 L540.0 1855.3 L541.0 1847.1 L542.0 1840.0 L543.0 1834.4 L544.0 1830.1 L545.0 1827.4 L546.0 1826.1 L547.0 1826.5 L548.0 1828.9 L549.0 1833.2 L550.0 1839.3 L551.0 1847.2 L552.0 1856.6 L553.0 1867.4 L554.0 1879.3 L555.0 1892.1 L556.0 1905.5 L557.0 1919.3 L558.0 1933.3 L559.0 1947.3 L560.0 1961.1 L561.0 1974.5 L562.0 1987.4 L563.0 1999.6 L564.0 2011.1 L565.0 2021.7 L566.0 2031.4 L567.0 2040.2 L568.0 2048.1 L569.0 2055.1 L570.0 2061.4 L571.0 2066.8 L572.0 2071.5 L573.0 2075.6 L574.0 2079.0 L575.0 2082.8 L576.0 2085.8 L577.0 2088.1 L578.0 2090.0 L579.0 2091.5 L580.0 2092.6 L581.0 2093.5 L582.0 2094.2 L583.0 2094.7 L584.0 2095.2 L585.0 2095.6 L586.0 2095.9 L587.0 2096.1 L588.0 2096.6" fill="none" stroke="#d00ad0" stroke-width="2.50" stroke-linejoin="round" stroke-linecap="round" />
<path d="M935.5 2166.4 L936.5 2165.7 L937.5 2164.8 L938.5 2163.8 L939.5 2162.6 L940.5 2161.2 L941.5 2159.5 L942.5 2157.5 L943.5 2155.2 L944.5 2152.6 L945.5 2149.5 L946.5 2146.0 L947.5 2142.0 L948.5 2137.4 L949.5 2132.1 L950.5 2129.0 L951.5 2125.6 L952.5 2122.0 L953.5 2118.1 L954.5 2113.9 L955.5 2109.5 L956.5 2104.9 L957.5 2100.0 L958.5 2094.9 L959.5 2089.6 L960.5 2084.1 L961.5 2078.4 L962.5 2072.6 L963.5 2066.7 L964.5 2060.7 L965.5 2054.8 L966.5 2048.8 L967.5 2043.0 L968.5 2037.3 L969.5 2031.7 L970.5 2026.5 L971.5 2021.5 L972.5 2017.0 L973.5 2012.9 L974.5 2009.3 L975.5 2006.3 L976.5 2004.0 L977.5 2002.3 L978.5 2001.4 L979.5 2001.2 L980.5 2001.7 L981.5 2003.0 L982.5 2005.0 L983.5 2007.7 L984.5 2011.0 L985.5 2014.9 L986.5 2019.4 L987.5 2024.3 L988.5 2029.6 L989.5 2035.2 L990.5 2041.1 L991.5 2047.2 L992.5 2053.4 L993.5 2059.7 L994.5 2066.0 L995.5 2072.3 L996.5 2078.6 L997.5 2084.8 L998.5 2090.8 L999.5 2096.7 L1000.5 2102.4 L1001.5 2107.9 L1002.5 2113.1 L1003.5 2118.1 L1004.5 2122.9 L1005.5 2127.4 L1006.5 2131.7 L1007.5 2135.7 L1008.5 2139.4 L1009.5 2142.9 L1010.5 2146.2 L1011.5 2149.2 L1012.5 2152.0 L1013.5 2154.6 L1014.5 2156.9 L1015.5 2159.1 L1016.5 2161.1 L1017.5 2162.9 L1018.5 2164.6 L1019.5 2166.1 L1020.5 2167.5 L1021.5 2169.7 L1022.5 2171.7 L1023.5 2173.4 L1024.5 2175.0 L1025.5 2176.3 L1026.5 2177.6 L1027.5 2178.7 L1028.5 2179.8 L1029.5 2180.7 L1030.5 2181.6 L1031.5 2182.4 L1032.5 2183.2 L1033.5 2183.9 L1034.5 2184.6" fill="none" stroke="#d8cc10" stroke-width="2.50" stroke-linejoin="round" stroke-linecap="round" />
<path d="M993.0 2175.4 L994.0 2174.8 L995.0 2174.0 L996.0 2173.1 L997.0 2172.1 L998.0 2170.9 L999.0 2169.5 L1000.0 2167.9 L1001.0 2166.0 L1002.0 2163.7 L1003.0 2161.1 L1004.0 2158.1 L1005.0 2154.6 L1006.0 2150.5 L1007.0 2145.8 L1008.0 2143.0 L1009.0 2139.9 L1010.0 2136.5 L1011.0 2132.8 L1012.0 2128.8 L1013.0 2124.5 L1014.0 2119.8 L1015.0 2114.7 L1016.0 2109.4 L1017.0 2103.7 L1018.0 2097.6 L1019.0 2091.2 L1020.0 2084.6 L1021.0 2077.6 L1022.0 2070.5 L1023.0 2063.0 L1024.0 2055.4 L1025.0 2047.7 L1026.0 2039.8 L1027.0 2031.9 L1028.0 2024.0 L1029.0 2016.2 L1030.0 2008.5 L1031.0 2001.1 L1032.0 1994.0 L1033.0 1987.3 L1034.0 1981.1 L1035.0 1975.4 L1036.0 1970.4 L1037.0 1966.2 L1038.0 1962.7 L1039.0 1960.2 L1040.0 1958.5 L1041.0 1957.9 L1042.0 1958.2 L1043.0 1959.6 L1044.0 1961.9 L1045.0 1965.1 L1046.0 1969.2 L1047.0 1974.1 L1048.0 1979.7 L1049.0 1986.0 L1050.0 1992.8 L1051.0 2000.1 L1052.0 2007.8 L1053.0 2015.7 L1054.0 2023.9 L1055.0 2032.2 L1056.0 2040.6 L1057.0 2048.9 L1058.0 2057.2 L1059.0 2065.4 L1060.0 2073.5 L1061.0 2081.3 L1062.0 2089.0 L1063.0 2096.3 L1064.0 2103.4 L1065.0 2110.2 L1066.0 2116.7 L1067.0 2122.9 L1068.0 2128.7 L1069.0 2134.2 L1070.0 2139.3 L1071.0 2144.1 L1072.0 2148.6 L1073.0 2152.8 L1074.0 2156.7 L1075.0 2162.9 L1076.0 2168.3 L1077.0 2173.2 L1078.0 2177.4 L1079.0 2181.2 L1080.0 2184.5 L1081.0 2187.5 L1082.0 2190.1 L1083.0 2192.5 L1084.0 2194.7 L1085.0 2196.6 L1086.0 2198.4 L1087.0 2200.0 L1088.0 2201.4" fill="none" stroke="#12b412" stroke-width="2.50" stroke-linejoin="round" stroke-linecap="round" />
<path d="M1034.0 2184.1 L1035.0 2183.5 L1036.0 2182.9 L1037.0 2182.1 L1038.0 2181.4 L1039.0 2180.5 L1040.0 2179.6 L1041.0 2178.6 L1042.0 2177.6 L1043.0 2176.4 L1044.0 2175.2 L1045.0 2173.9 L1046.0 2172.5 L1047.0 2170.9 L1048.0 2169.3 L1049.0 2168.8 L1050.0 2168.4 L1051.0 2167.8 L1052.0 2167.3 L1053.0 2166.7 L1054.0 2166.0 L1055.0 2165.3 L1056.0 2164.5 L1057.0 2163.7 L1058.0 2162.7 L1059.0 2161.7 L1060.0 2160.6 L1061.0 2159.5 L1062.0 2158.2 L1063.0 2156.8 L1064.0 2155.3 L1065.0 2153.7 L1066.0 2152.0 L1067.0 2150.1 L1068.0 2148.0 L1069.0 2145.6 L1070.0 2143.1 L1071.0 2140.3 L1072.0 2137.2 L1073.0 2133.7 L1074.0 2130.0 L1075.0 2125.9 L1076.0 2121.2 L1077.0 2116.0 L1078.0 2110.1 L1079.0 2103.4 L1080.0 2095.7 L1081.0 2087.1 L1082.0 2077.3 L1083.0 2066.1 L1084.0 2053.4 L1085.0 2038.9 L1086.0 2022.3 L1087.0 2003.5 L1088.0 1982.1 L1089.0 1958.0 L1090.0 1930.9 L1091.0 1900.8 L1092.0 1867.6 L1093.0 1831.4 L1094.0 1792.8 L1095.0 1752.5 L1096.0 1712.0 L1097.0 1673.3 L1098.0 1638.8 L1099.0 1611.4 L1100.0 1593.9 L1101.0 1588.2 L1102.0 1594.7 L1103.0 1612.7 L1104.0 1640.5 L1105.0 1676.0 L1106.0 1716.9 L1107.0 1760.8 L1108.0 1805.8 L1109.0 1850.3 L1110.0 1893.2 L1111.0 1933.5 L1112.0 1970.8 L1113.0 2004.6 L1114.0 2034.7 L1115.0 2061.1 L1116.0 2084.1 L1117.0 2103.7 L1118.0 2120.3 L1119.0 2134.1 L1120.0 2145.6 L1121.0 2155.2 L1122.0 2163.0 L1123.0 2169.6 L1124.0 2175.0 L1125.0 2179.5 L1126.0 2183.3 L1127.0 2186.5 L1128.0 2189.3 L1129.0 2191.8 L1130.0 2193.9 L1131.0 2195.9 L1132.0 2197.6 L1133.0 2199.4 L1134.0 2201.0 L1135.0 2202.6 L1136.0 2204.0 L1137.0 2206.6 L1138.0 2209.0 L1139.0 2211.2 L1140.0 2213.3 L1141.0 2215.2 L1142.0 2217.0 L1143.0 2219.0 L1144.0 2220.9 L1145.0 2222.7 L1146.0 2224.5 L1147.0 2226.1 L1148.0 2227.7 L1149.0 2229.2 L1150.0 2230.7" fill="none" stroke="#8a3a12" stroke-width="2.50" stroke-linejoin="round" stroke-linecap="round" />
<path d="M1040.0 2185.6 L1041.0 2185.5 L1042.0 2185.5 L1043.0 2185.4 L1044.0 2185.4 L1045.0 2185.3 L1046.0 2185.2 L1047.0 2185.1 L1048.0 2185.0 L1049.0 2184.9 L1050.0 2184.7 L1051.0 2184.6 L1052.0 2184.4 L1053.0 2184.2 L1054.0 2184.0 L1055.0 2184.2 L1056.0 2184.3 L1057.0 2184.5 L1058.0 2184.6 L1059.0 2184.8 L1060.0 2184.9 L1061.0 2185.1 L1062.0 2185.2 L1063.0 2185.3 L1064.0 2185.5 L1065.0 2185.7 L1066.0 2185.9 L1067.0 2186.0 L1068.0 2186.2 L1069.0 2186.4 L1070.0 2186.5 L1071.0 2186.7 L1072.0 2186.8 L1073.0 2187.0 L1074.0 2187.2 L1075.0 2187.5 L1076.0 2187.7 L1077.0 2188.0 L1078.0 2188.2 L1079.0 2188.4 L1080.0 2188.6 L1081.0 2188.9 L1082.0 2189.2 L1083.0 2189.4 L1084.0 2189.7 L1085.0 2190.0 L1086.0 2190.2 L1087.0 2190.5 L1088.0 2190.8 L1089.0 2191.0 L1090.0 2191.2 L1091.0 2191.5 L1092.0 2191.8 L1093.0 2192.1 L1094.0 2192.4 L1095.0 2192.7 L1096.0 2192.9 L1097.0 2193.1 L1098.0 2193.3 L1099.0 2193.4 L1100.0 2193.4 L1101.0 2193.5 L1102.0 2193.6 L1103.0 2193.6 L1104.0 2193.6 L1105.0 2193.6 L1106.0 2193.6 L1107.0 2193.5 L1108.0 2193.3 L1109.0 2192.9 L1110.0 2192.5 L1111.0 2192.1 L1112.0 2191.6 L1113.0 2191.0 L1114.0 2190.4 L1115.0 2189.8 L1116.0 2189.0 L1117.0 2188.2 L1118.0 2187.3 L1119.0 2186.2 L1120.0 2185.0 L1121.0 2183.8 L1122.0 2182.4 L1123.0 2180.9 L1124.0 2179.2 L1125.0 2177.5 L1126.0 2175.5 L1127.0 2173.3 L1128.0 2171.0 L1129.0 2168.4 L1130.0 2165.6 L1131.0 2162.4 L1132.0 2159.0 L1133.0 2155.4 L1134.0 2151.3 L1135.0 2146.8 L1136.0 2141.8 L1137.0 2136.0 L1138.0 2129.5 L1139.0 2122.2 L1140.0 2113.7 L1141.0 2104.0 L1142.0 2092.9 L1143.0 2080.4 L1144.0 2065.8 L1145.0 2048.9 L1146.0 2029.2 L1147.0 2006.4 L1148.0 1980.1 L1149.0 1949.8 L1150.0 1915.1 L1151.0 1875.8 L1152.0 1831.5 L1153.0 1782.5 L1154.0 1728.8 L1155.0 1671.1 L1156.0 1611.1 L1157.0 1551.1 L1158.0 1494.7 L1159.0 1446.3 L1160.0 1410.6 L1161.0 1391.9 L1162.0 1392.3 L1163.0 1409.2 L1164.0 1441.0 L1165.0 1484.9 L1166.0 1538.3 L1167.0 1598.0 L1168.0 1661.4 L1169.0 1725.7 L1170.0 1788.8 L1171.0 1849.2 L1172.0 1905.4 L1173.0 1956.7 L1174.0 2002.5 L1175.0 2042.6 L1176.0 2076.8 L1177.0 2105.8 L1178.0 2130.0 L1179.0 2149.8 L1180.0 2165.9 L1181.0 2178.9 L1182.0 2189.2 L1183.0 2197.4 L1184.0 2203.9 L1185.0 2209.1 L1186.0 2213.2 L1187.0 2216.5 L1188.0 2219.2 L1189.0 2221.4 L1190.0 2223.3 L1191.0 2224.9 L1192.0 2226.4 L1193.0 2227.6 L1194.0 2228.8 L1195.0 2229.8 L1196.0 2230.7 L1197.0 2231.6 L1198.0 2232.4 L1199.0 2233.1 L1200.0 2233.8 L1201.0 2234.4 L1202.0 2235.9 L1203.0 2237.2 L1204.0 2238.4 L1205.0 2239.5 L1206.0 2240.6 L1207.0 2241.5 L1208.0 2242.4 L1209.0 2243.2 L1210.0 2244.0 L1211.0 2244.7 L1212.0 2245.3 L1213.0 2245.9 L1214.0 2246.5 L1215.0 2247.0" fill="none" stroke="#0c0c0c" stroke-width="2.50" stroke-linejoin="round" stroke-linecap="round" />
<path d="M157.0 2067.2 L160.0 2067.2 L163.0 2071.7 L166.0 2065.7 L169.0 2070.3 L172.0 2066.3 L175.0 2073.9 L178.0 2072.9 L181.0 2075.7 L184.0 2072.1 L187.0 2074.1 L190.0 2073.0 L193.0 2072.2 L196.0 2074.4 L199.0 2071.7 L202.0 2073.8 L205.0 2076.5 L208.0 2075.5 L211.0 2074.4 L214.0 2080.1 L217.0 2075.5 L220.0 2073.4 L223.0 2074.6 L226.0 2072.7 L229.0 2072.5 L232.0 2072.2 L235.0 2077.2 L238.0 2072.7 L241.0 2072.3 L244.0 2073.0 L247.0 2075.8 L250.0 2070.5 L253.0 2068.7 L256.0 2075.3 L259.0 2066.5 L262.0 2067.8 L265.0 2069.9 L268.0 2073.4 L271.0 2066.0 L274.0 2061.5 L277.0 2067.8 L280.0 2065.4 L283.0 2065.2 L286.0 2066.9 L289.0 2066.3 L292.0 2066.2 L295.0 2064.4 L298.0 2068.0 L301.0 2068.7 L304.0 2065.3 L307.0 2063.6 L310.0 2066.1 L313.0 2065.6 L316.0 2061.9 L319.0 2062.7 L322.0 2066.1 L325.0 2063.6 L328.0 2062.7 L331.0 2063.7 L334.0 2063.1 L337.0 2062.9 L340.0 2058.3 L343.0 2066.2 L346.0 2063.2 L349.0 2060.2 L352.0 2063.9 L355.0 2062.4 L358.0 2061.2 L361.0 2063.0 L364.0 2065.5 L367.0 2061.3 L370.0 2062.7 L373.0 2063.7 L376.0 2055.9 L379.0 2055.8 L382.0 2058.2 L385.0 2052.3 L388.0 2054.4 L391.0 2057.7 L394.0 2057.0 L397.0 2055.3 L400.0 2048.9 L403.0 2057.6 L406.0 2054.0 L409.0 2053.8 L412.0 2052.9 L415.0 2047.7 L418.0 2047.7 L421.0 2048.2 L424.0 2055.5 L427.0 2050.1 L430.0 2051.0 L433.0 2051.2" fill="none" stroke="#6a7800" stroke-width="4.60" stroke-linejoin="round" stroke-linecap="round" stroke-opacity="0.55"/>
<path d="M595.0 2100.6 L598.0 2097.7 L601.0 2100.3 L604.0 2100.5 L607.0 2102.8 L610.0 2109.1 L613.0 2107.5 L616.0 2111.4 L619.0 2110.5 L622.0 2107.3 L625.0 2109.8 L628.0 2117.7 L631.0 2112.2 L634.0 2111.8 L637.0 2117.9 L640.0 2116.7 L643.0 2117.2 L646.0 2121.6 L649.0 2115.3 L652.0 2120.7 L655.0 2118.6 L658.0 2118.5 L661.0 2120.7 L664.0 2126.4 L667.0 2124.8 L670.0 2121.6 L673.0 2123.8 L676.0 2131.1 L679.0 2131.6 L682.0 2127.5 L685.0 2136.2 L688.0 2131.4 L691.0 2129.9 L694.0 2133.1 L697.0 2136.8 L700.0 2139.7 L703.0 2139.5 L706.0 2137.0 L709.0 2137.3 L712.0 2136.2 L715.0 2140.2 L718.0 2140.3 L721.0 2143.2 L724.0 2140.9 L727.0 2143.3 L730.0 2143.6 L733.0 2143.8 L736.0 2144.8 L739.0 2146.2 L742.0 2146.9 L745.0 2152.0 L748.0 2152.3 L751.0 2149.7 L754.0 2154.6 L757.0 2155.4 L760.0 2158.8 L763.0 2155.9 L766.0 2156.2 L769.0 2155.7 L772.0 2158.0 L775.0 2159.7 L778.0 2159.6 L781.0 2159.1 L784.0 2161.5 L787.0 2161.2 L790.0 2161.9 L793.0 2159.6 L796.0 2162.5 L799.0 2160.2 L802.0 2160.6 L805.0 2163.2 L808.0 2168.2 L811.0 2166.2 L814.0 2163.8 L817.0 2163.3 L820.0 2166.1 L823.0 2167.5 L826.0 2167.3 L829.0 2163.9 L832.0 2164.4 L835.0 2163.1 L838.0 2162.7 L841.0 2160.9 L844.0 2161.7 L847.0 2156.7 L850.0 2157.9 L853.0 2161.2 L856.0 2157.8 L859.0 2160.3 L862.0 2155.6 L865.0 2156.9 L868.0 2158.6 L871.0 2155.2 L874.0 2155.5 L877.0 2163.5 L880.0 2157.4 L883.0 2157.2 L886.0 2158.3 L889.0 2160.6 L892.0 2161.6 L895.0 2164.8 L898.0 2165.3 L901.0 2163.2 L904.0 2163.7 L907.0 2161.6 L910.0 2161.4 L913.0 2163.4 L916.0 2167.2 L919.0 2166.2 L922.0 2167.7 L925.0 2168.2 L928.0 2165.8 L931.0 2171.0 L934.0 2165.5 L937.0 2164.8" fill="none" stroke="#6a7800" stroke-width="4.60" stroke-linejoin="round" stroke-linecap="round" stroke-opacity="0.55"/>
<path d="M1264.0 2246.2 L1267.0 2245.1 L1270.0 2247.5 L1273.0 2244.9 L1276.0 2245.2 L1279.0 2247.5 L1282.0 2246.3 L1285.0 2247.5 L1288.0 2247.5" fill="none" stroke="#6a7800" stroke-width="4.60" stroke-linejoin="round" stroke-linecap="round" stroke-opacity="0.55"/>
<path d="M157.0 2067.2 L160.0 2067.2 L163.0 2071.7 L166.0 2065.7 L169.0 2070.3 L172.0 2066.3 L175.0 2073.9 L178.0 2072.9 L181.0 2075.7 L184.0 2072.1 L187.0 2074.1 L190.0 2073.0 L193.0 2072.2 L196.0 2074.4 L199.0 2071.7 L202.0 2073.8 L205.0 2076.5 L208.0 2075.5 L211.0 2074.4 L214.0 2080.1 L217.0 2075.5 L220.0 2073.4 L223.0 2074.6 L226.0 2072.7 L229.0 2072.5 L232.0 2072.2 L235.0 2077.2 L238.0 2072.7 L241.0 2072.3 L244.0 2073.0 L247.0 2075.8 L250.0 2070.5 L253.0 2068.7 L256.0 2075.3 L259.0 2066.5 L262.0 2067.8 L265.0 2069.9 L268.0 2073.4 L271.0 2066.0 L274.0 2061.5 L277.0 2067.8 L280.0 2065.4 L283.0 2065.2 L286.0 2066.9 L289.0 2066.3 L292.0 2066.2 L295.0 2064.4 L298.0 2068.0 L301.0 2068.7 L304.0 2065.3 L307.0 2063.6 L310.0 2066.1 L313.0 2065.6 L316.0 2061.9 L319.0 2062.7 L322.0 2066.1 L325.0 2063.6 L328.0 2062.7 L331.0 2063.7 L334.0 2063.1 L337.0 2062.9 L340.0 2058.3 L343.0 2066.2 L346.0 2063.2 L349.0 2060.2 L352.0 2063.9 L355.0 2062.4 L358.0 2061.2 L361.0 2063.0 L364.0 2065.5 L367.0 2061.3 L370.0 2062.7 L373.0 2063.7 L376.0 2055.9 L379.0 2055.8 L382.0 2058.2 L385.0 2052.3 L388.0 2054.4 L391.0 2057.7 L394.0 2057.0 L397.0 2055.3 L400.0 2048.9 L403.0 2057.6 L406.0 2054.0 L409.0 2053.8 L412.0 2052.9 L415.0 2047.7 L418.0 2047.7 L421.0 2048.2 L424.0 2055.5 L427.0 2050.1 L430.0 2051.0 L433.0 2051.2 L436.0 2052.5 L437.0 2051.9" fill="none" stroke="#141200" stroke-width="3.00" stroke-linejoin="round" stroke-linecap="round" />
<path d="M436.0 2052.5 L437.0 2051.9 L438.0 2051.4 L439.0 2050.8 L440.0 2050.3 L441.0 2049.8 L442.0 2049.2 L443.0 2048.7 L444.0 2048.1 L445.0 2047.5 L446.0 2047.0 L447.0 2045.7 L448.0 2044.3 L449.0 2043.0 L450.0 2041.7 L451.0 2040.3 L452.0 2039.0 L453.0 2037.3 L454.0 2035.6 L455.0 2034.0 L456.0 2032.3 L457.0 2030.6 L458.0 2027.7 L459.0 2024.7 L460.0 2021.8 L461.0 2018.9 L462.0 2015.9 L463.0 2013.0 L464.0 2009.5 L465.0 2006.0 L466.0 2002.5 L467.0 1999.0 L468.0 1995.5 L469.0 1992.0 L470.0 1988.5 L471.0 1983.1 L472.0 1977.7 L473.0 1972.2 L474.0 1966.8 L475.0 1961.4 L476.0 1956.0 L477.0 1949.8 L478.0 1943.5 L479.0 1937.2 L480.0 1931.0 L481.0 1924.8 L482.0 1919.4 L483.0 1915.5 L484.0 1911.6 L485.0 1907.7 L486.0 1903.8 L487.0 1899.8 L488.0 1895.9 L489.0 1892.0 L490.0 1888.0 L491.0 1884.0 L492.0 1880.1 L493.0 1876.1 L494.0 1872.1 L495.0 1868.1 L496.0 1864.2 L497.0 1860.2 L498.0 1856.4 L499.0 1852.7 L500.0 1849.1 L501.0 1845.4 L502.0 1841.7 L503.0 1838.0 L504.0 1834.4 L505.0 1830.7 L506.0 1827.0 L507.0 1820.7 L508.0 1814.3 L509.0 1808.0 L510.0 1801.7 L511.0 1795.3 L512.0 1789.0 L513.0 1782.8 L514.0 1776.5 L515.0 1770.3 L516.0 1764.1 L517.0 1757.8 L518.0 1751.6 L519.0 1746.1 L520.0 1747.3 L521.0 1748.5 L522.0 1749.6 L523.0 1750.8 L524.0 1752.0 L525.0 1753.6 L526.0 1755.2 L527.0 1756.8 L528.0 1758.4 L529.0 1760.0 L530.0 1761.3 L531.0 1762.6 L532.0 1763.9 L533.0 1765.2 L534.0 1766.5 L535.0 1763.2 L536.0 1759.9 L537.0 1756.6 L538.0 1753.0 L539.0 1748.8 L540.0 1744.8 L541.0 1745.3 L542.0 1750.5 L543.0 1755.8 L544.0 1761.7 L545.0 1767.8 L546.0 1773.9 L547.0 1780.0 L548.0 1786.3 L549.0 1793.0 L550.0 1799.7 L551.0 1806.3 L552.0 1813.0 L553.0 1826.1 L554.0 1839.2 L555.0 1852.4 L556.0 1873.2 L557.0 1895.9 L558.0 1918.6 L559.0 1938.0 L560.0 1954.0 L561.0 1970.1 L562.0 1984.7 L563.0 1997.3 L564.0 2009.9 L565.0 2022.5 L566.0 2032.8 L567.0 2039.8 L568.0 2046.8 L569.0 2053.7 L570.0 2060.7 L571.0 2067.7 L572.0 2072.1 L573.0 2074.7 L574.0 2077.2 L575.0 2079.8 L576.0 2082.4 L577.0 2084.5 L578.0 2085.9 L579.0 2087.3 L580.0 2088.6 L581.0 2090.0 L582.0 2090.7 L583.0 2091.3 L584.0 2092.0 L585.0 2092.7 L586.0 2093.3 L587.0 2094.0 L588.0 2094.6 L589.0 2095.2 L590.0 2095.8 L591.0 2096.4 L592.0 2097.0" fill="none" stroke="#141200" stroke-width="2.20" stroke-linejoin="round" stroke-linecap="round" />
<path d="M591.0 2096.4 L592.0 2097.0 L595.0 2100.6 L598.0 2097.7 L601.0 2100.3 L604.0 2100.5 L607.0 2102.8 L610.0 2109.1 L613.0 2107.5 L616.0 2111.4 L619.0 2110.5 L622.0 2107.3 L625.0 2109.8 L628.0 2117.7 L631.0 2112.2 L634.0 2111.8 L637.0 2117.9 L640.0 2116.7 L643.0 2117.2 L646.0 2121.6 L649.0 2115.3 L652.0 2120.7 L655.0 2118.6 L658.0 2118.5 L661.0 2120.7 L664.0 2126.4 L667.0 2124.8 L670.0 2121.6 L673.0 2123.8 L676.0 2131.1 L679.0 2131.6 L682.0 2127.5 L685.0 2136.2 L688.0 2131.4 L691.0 2129.9 L694.0 2133.1 L697.0 2136.8 L700.0 2139.7 L703.0 2139.5 L706.0 2137.0 L709.0 2137.3 L712.0 2136.2 L715.0 2140.2 L718.0 2140.3 L721.0 2143.2 L724.0 2140.9 L727.0 2143.3 L730.0 2143.6 L733.0 2143.8 L736.0 2144.8 L739.0 2146.2 L742.0 2146.9 L745.0 2152.0 L748.0 2152.3 L751.0 2149.7 L754.0 2154.6 L757.0 2155.4 L760.0 2158.8 L763.0 2155.9 L766.0 2156.2 L769.0 2155.7 L772.0 2158.0 L775.0 2159.7 L778.0 2159.6 L781.0 2159.1 L784.0 2161.5 L787.0 2161.2 L790.0 2161.9 L793.0 2159.6 L796.0 2162.5 L799.0 2160.2 L802.0 2160.6 L805.0 2163.2 L808.0 2168.2 L811.0 2166.2 L814.0 2163.8 L817.0 2163.3 L820.0 2166.1 L823.0 2167.5 L826.0 2167.3 L829.0 2163.9 L832.0 2164.4 L835.0 2163.1 L838.0 2162.7 L841.0 2160.9 L844.0 2161.7 L847.0 2156.7 L850.0 2157.9 L853.0 2161.2 L856.0 2157.8 L859.0 2160.3 L862.0 2155.6 L865.0 2156.9 L868.0 2158.6 L871.0 2155.2 L874.0 2155.5 L877.0 2163.5 L880.0 2157.4 L883.0 2157.2 L886.0 2158.3 L889.0 2160.6 L892.0 2161.6 L895.0 2164.8 L898.0 2165.3 L901.0 2163.2 L904.0 2163.7 L907.0 2161.6 L910.0 2161.4 L913.0 2163.4 L916.0 2167.2 L919.0 2166.2 L922.0 2167.7 L925.0 2168.2 L928.0 2165.8 L931.0 2171.0 L934.0 2165.5 L937.0 2164.8" fill="none" stroke="#141200" stroke-width="3.00" stroke-linejoin="round" stroke-linecap="round" />
<path d="M937.0 2164.8 L940.0 2162.6 L943.0 2162.0 L946.0 2152.5 L949.0 2141.3 L952.0 2128.7 L955.0 2117.8 L958.0 2103.1 L961.0 2086.3 L964.0 2068.3 L967.0 2048.3 L970.0 2028.1 L973.0 2008.8 L976.0 1995.0 L979.0 1986.8 L982.0 1984.7 L985.0 1993.3 L988.0 2006.4 L991.0 2024.4 L994.0 2045.9 L997.0 2062.9 L1000.0 2077.8 L1003.0 2089.2 L1006.0 2094.4 L1009.0 2096.7 L1012.0 2095.2 L1015.0 2088.3 L1018.0 2076.9 L1021.0 2060.8 L1024.0 2042.5 L1027.0 2022.6 L1030.0 2000.7 L1033.0 1980.6 L1036.0 1962.0 L1039.0 1947.9 L1042.0 1942.0 L1045.0 1943.8 L1048.0 1953.7 L1051.0 1970.6 L1054.0 1992.2 L1057.0 2014.9 L1060.0 2035.5 L1063.0 2055.1 L1066.0 2069.7 L1069.0 2078.4 L1072.0 2084.6 L1075.0 2086.3 L1078.0 2082.2 L1081.0 2068.8 L1084.0 2039.3 L1087.0 1991.5 L1090.0 1919.9 L1093.0 1819.0 L1096.0 1697.8 L1099.0 1595.4 L1102.0 1578.6 L1105.0 1657.7 L1108.0 1786.3 L1111.0 1911.6 L1114.0 2009.4 L1117.0 2074.9 L1120.0 2114.2 L1123.0 2133.2 L1126.0 2140.2 L1129.0 2140.1 L1132.0 2135.4 L1135.0 2127.3 L1138.0 2116.4 L1141.0 2095.3 L1144.0 2060.4 L1147.0 2003.4 L1150.0 1915.2 L1153.0 1782.0 L1156.0 1611.0 L1159.0 1446.7 L1162.0 1392.9 L1165.0 1485.1 L1168.0 1661.2 L1171.0 1849.3 L1174.0 2003.6 L1177.0 2106.2 L1180.0 2165.2 L1183.0 2198.2 L1186.0 2213.4 L1189.0 2223.5 L1192.0 2226.3 L1195.0 2229.7 L1198.0 2232.2 L1201.0 2234.6 L1204.0 2237.1 L1207.0 2237.9 L1210.0 2239.1 L1213.0 2245.1 L1216.0 2247.0 L1219.0 2247.0 L1222.0 2247.0 L1225.0 2247.0 L1228.0 2247.0 L1231.0 2247.0 L1234.0 2247.0 L1237.0 2247.0 L1240.0 2247.0 L1243.0 2247.0 L1246.0 2247.0 L1249.0 2247.0 L1252.0 2247.0 L1255.0 2247.0 L1258.0 2247.0 L1261.0 2247.0" fill="none" stroke="#141200" stroke-width="2.30" stroke-linejoin="round" stroke-linecap="round" />
<path d="M1261.0 2247.0 L1264.0 2246.2 L1267.0 2245.1 L1270.0 2247.5 L1273.0 2244.9 L1276.0 2245.2 L1279.0 2247.5 L1282.0 2246.3 L1285.0 2247.5 L1288.0 2247.5" fill="none" stroke="#141200" stroke-width="3.00" stroke-linejoin="round" stroke-linecap="round" />
<text transform="translate(40.26 1339.00) scale(0.9091 1)" font-size="153.24" font-weight="bold">b</text>
<text transform="translate(91.00 1987.77) rotate(-90) scale(1.0429 1)" font-size="81.68" font-weight="bold">Intensity (a.u.)</text>
<text transform="translate(210.91 2331.00) scale(1.0592 1)" font-size="61.89" font-weight="bold">65</text>
<text transform="translate(347.05 2331.00) scale(1.0422 1)" font-size="61.65" font-weight="bold">60</text>
<text transform="translate(486.55 2331.00) scale(0.9802 1)" font-size="62.60" font-weight="bold">55</text>
<text transform="translate(622.41 2331.00) scale(1.0514 1)" font-size="61.65" font-weight="bold">50</text>
<text transform="translate(760.73 2331.00) scale(0.9972 1)" font-size="61.75" font-weight="bold">45</text>
<text transform="translate(902.25 2331.00) scale(0.9862 1)" font-size="61.05" font-weight="bold">40</text>
<text transform="translate(1040.88 2332.00) scale(1.0690 1)" font-size="60.38" font-weight="bold">35</text>
<text transform="translate(1177.43 2326.00) scale(1.0496 1)" font-size="60.15" font-weight="bold">30</text>
<text transform="translate(360.34 2410.00) scale(1.0332 1)" font-size="80.92" font-weight="bold">Binding energy (eV)</text>
<text transform="translate(1074.89 1283.10) scale(1.1562 1)" font-size="40.61" stroke="#0a0a0a" stroke-width="0.60">1T</text>
<line x1="1102.0" y1="1294.5" x2="1095.5" y2="1483.0" stroke="#111" stroke-width="2.00" stroke-linecap="round"/>
<line x1="1095.5" y1="1483.0" x2="1082.6" y2="1465.2" stroke="#111" stroke-width="2.00" stroke-linecap="round"/>
<line x1="1095.5" y1="1483.0" x2="1109.6" y2="1466.1" stroke="#111" stroke-width="2.00" stroke-linecap="round"/>
<line x1="1102.0" y1="1294.5" x2="1156.0" y2="1366.0" stroke="#111" stroke-width="2.00" stroke-linecap="round"/>
<line x1="1156.0" y1="1366.0" x2="1137.3" y2="1358.9" stroke="#111" stroke-width="2.00" stroke-linecap="round"/>
<line x1="1156.0" y1="1366.0" x2="1154.2" y2="1346.1" stroke="#111" stroke-width="2.00" stroke-linecap="round"/>
<text transform="translate(531.95 1680.60) scale(1.0910 1)" font-size="40.30" stroke="#0a0a0a" stroke-width="0.60">1T</text>
<line x1="552.4" y1="1698.8" x2="560.0" y2="1811.9" stroke="#111" stroke-width="2.00" stroke-linecap="round"/>
<line x1="560.0" y1="1811.9" x2="552.8" y2="1801.1" stroke="#111" stroke-width="2.00" stroke-linecap="round"/>
<line x1="560.0" y1="1811.9" x2="565.7" y2="1800.2" stroke="#111" stroke-width="2.00" stroke-linecap="round"/>
<line x1="552.4" y1="1698.8" x2="523.2" y2="1856.0" stroke="#111" stroke-width="2.00" stroke-linecap="round"/>
<line x1="523.2" y1="1856.0" x2="518.9" y2="1843.7" stroke="#111" stroke-width="2.00" stroke-linecap="round"/>
<line x1="523.2" y1="1856.0" x2="531.6" y2="1846.1" stroke="#111" stroke-width="2.00" stroke-linecap="round"/>
<text transform="translate(412.62 1832.40) scale(1.2264 1)" font-size="39.85" stroke="#0a0a0a" stroke-width="0.60">2H</text>
<line x1="459.0" y1="1847.3" x2="480.6" y2="1960.0" stroke="#111" stroke-width="2.00" stroke-linecap="round"/>
<line x1="480.6" y1="1960.0" x2="472.8" y2="1950.9" stroke="#111" stroke-width="2.00" stroke-linecap="round"/>
<line x1="480.6" y1="1960.0" x2="484.5" y2="1948.7" stroke="#111" stroke-width="2.00" stroke-linecap="round"/>
<line x1="459.0" y1="1847.3" x2="501.7" y2="1923.0" stroke="#111" stroke-width="2.00" stroke-linecap="round"/>
<line x1="501.7" y1="1923.0" x2="489.6" y2="1915.9" stroke="#111" stroke-width="2.00" stroke-linecap="round"/>
<line x1="501.7" y1="1923.0" x2="501.8" y2="1909.0" stroke="#111" stroke-width="2.00" stroke-linecap="round"/>
<text transform="translate(983.50 1831.50) scale(1.0171 1)" font-size="39.40" stroke="#0a0a0a" stroke-width="0.60">W6</text>
<text transform="translate(1043.17 1819.05) scale(0.9689 1)" font-size="27.52" stroke="#0a0a0a" stroke-width="0.60">+</text>
<line x1="1012.2" y1="1847.4" x2="985.0" y2="1927.6" stroke="#111" stroke-width="2.00" stroke-linecap="round"/>
<line x1="985.0" y1="1927.6" x2="982.1" y2="1912.9" stroke="#111" stroke-width="2.00" stroke-linecap="round"/>
<line x1="985.0" y1="1927.6" x2="996.3" y2="1917.7" stroke="#111" stroke-width="2.00" stroke-linecap="round"/>
<line x1="1012.2" y1="1847.4" x2="1038.4" y2="1910.3" stroke="#111" stroke-width="2.00" stroke-linecap="round"/>
<line x1="1038.4" y1="1910.3" x2="1026.5" y2="1901.2" stroke="#111" stroke-width="2.00" stroke-linecap="round"/>
<line x1="1038.4" y1="1910.3" x2="1040.3" y2="1895.4" stroke="#111" stroke-width="2.00" stroke-linecap="round"/>
<line x1="145.0" y1="2471.0" x2="145.0" y2="3458.7" stroke="#0c0c0c" stroke-width="3.80" stroke-linecap="butt"/>
<line x1="143.1" y1="3456.8" x2="1279.0" y2="3456.8" stroke="#0c0c0c" stroke-width="3.80" stroke-linecap="butt"/>
<line x1="126.0" y1="2549.4" x2="145.0" y2="2549.4" stroke="#0c0c0c" stroke-width="3.80" stroke-linecap="butt"/>
<line x1="126.0" y1="2746.8" x2="145.0" y2="2746.8" stroke="#0c0c0c" stroke-width="3.80" stroke-linecap="butt"/>
<line x1="126.0" y1="2943.6" x2="145.0" y2="2943.6" stroke="#0c0c0c" stroke-width="3.80" stroke-linecap="butt"/>
<line x1="126.0" y1="3141.6" x2="145.0" y2="3141.6" stroke="#0c0c0c" stroke-width="3.80" stroke-linecap="butt"/>
<line x1="126.0" y1="3335.0" x2="145.0" y2="3335.0" stroke="#0c0c0c" stroke-width="3.80" stroke-linecap="butt"/>
<line x1="134.0" y1="2508.6" x2="145.0" y2="2508.6" stroke="#0c0c0c" stroke-width="3.80" stroke-linecap="butt"/>
<line x1="134.0" y1="2589.0" x2="145.0" y2="2589.0" stroke="#0c0c0c" stroke-width="3.80" stroke-linecap="butt"/>
<line x1="134.0" y1="2630.0" x2="145.0" y2="2630.0" stroke="#0c0c0c" stroke-width="3.80" stroke-linecap="butt"/>
<line x1="134.0" y1="2667.0" x2="145.0" y2="2667.0" stroke="#0c0c0c" stroke-width="3.80" stroke-linecap="butt"/>
<line x1="134.0" y1="2707.0" x2="145.0" y2="2707.0" stroke="#0c0c0c" stroke-width="3.80" stroke-linecap="butt"/>
<line x1="134.0" y1="2784.8" x2="145.0" y2="2784.8" stroke="#0c0c0c" stroke-width="3.80" stroke-linecap="butt"/>
<line x1="134.0" y1="2825.0" x2="145.0" y2="2825.0" stroke="#0c0c0c" stroke-width="3.80" stroke-linecap="butt"/>
<line x1="134.0" y1="2866.0" x2="145.0" y2="2866.0" stroke="#0c0c0c" stroke-width="3.80" stroke-linecap="butt"/>
<line x1="134.0" y1="2904.4" x2="145.0" y2="2904.4" stroke="#0c0c0c" stroke-width="3.80" stroke-linecap="butt"/>
<line x1="134.0" y1="2983.0" x2="145.0" y2="2983.0" stroke="#0c0c0c" stroke-width="3.80" stroke-linecap="butt"/>
<line x1="134.0" y1="3023.0" x2="145.0" y2="3023.0" stroke="#0c0c0c" stroke-width="3.80" stroke-linecap="butt"/>
<line x1="134.0" y1="3061.4" x2="145.0" y2="3061.4" stroke="#0c0c0c" stroke-width="3.80" stroke-linecap="butt"/>
<line x1="134.0" y1="3102.4" x2="145.0" y2="3102.4" stroke="#0c0c0c" stroke-width="3.80" stroke-linecap="butt"/>
<line x1="134.0" y1="3181.0" x2="145.0" y2="3181.0" stroke="#0c0c0c" stroke-width="3.80" stroke-linecap="butt"/>
<line x1="134.0" y1="3220.5" x2="145.0" y2="3220.5" stroke="#0c0c0c" stroke-width="3.80" stroke-linecap="butt"/>
<line x1="134.0" y1="3261.0" x2="145.0" y2="3261.0" stroke="#0c0c0c" stroke-width="3.80" stroke-linecap="butt"/>
<line x1="134.0" y1="3301.5" x2="145.0" y2="3301.5" stroke="#0c0c0c" stroke-width="3.80" stroke-linecap="butt"/>
<line x1="134.0" y1="3376.5" x2="145.0" y2="3376.5" stroke="#0c0c0c" stroke-width="3.80" stroke-linecap="butt"/>
<line x1="134.0" y1="3417.0" x2="145.0" y2="3417.0" stroke="#0c0c0c" stroke-width="3.80" stroke-linecap="butt"/>
<line x1="134.0" y1="3456.8" x2="145.0" y2="3456.8" stroke="#0c0c0c" stroke-width="3.80" stroke-linecap="butt"/>
<line x1="145.0" y1="3456.8" x2="145.0" y2="3483.8" stroke="#0c0c0c" stroke-width="3.80" stroke-linecap="butt"/>
<line x1="372.0" y1="3456.8" x2="372.0" y2="3483.8" stroke="#0c0c0c" stroke-width="3.80" stroke-linecap="butt"/>
<line x1="599.0" y1="3456.8" x2="599.0" y2="3483.8" stroke="#0c0c0c" stroke-width="3.80" stroke-linecap="butt"/>
<line x1="826.0" y1="3456.8" x2="826.0" y2="3483.8" stroke="#0c0c0c" stroke-width="3.80" stroke-linecap="butt"/>
<line x1="1053.0" y1="3456.8" x2="1053.0" y2="3483.8" stroke="#0c0c0c" stroke-width="3.80" stroke-linecap="butt"/>
<line x1="1223.2" y1="3456.8" x2="1223.2" y2="3470.8" stroke="#0c0c0c" stroke-width="3.80" stroke-linecap="butt"/>
<line x1="1166.5" y1="3456.8" x2="1166.5" y2="3470.8" stroke="#0c0c0c" stroke-width="3.80" stroke-linecap="butt"/>
<line x1="1109.8" y1="3456.8" x2="1109.8" y2="3470.8" stroke="#0c0c0c" stroke-width="3.80" stroke-linecap="butt"/>
<line x1="996.2" y1="3456.8" x2="996.2" y2="3470.8" stroke="#0c0c0c" stroke-width="3.80" stroke-linecap="butt"/>
<line x1="939.5" y1="3456.8" x2="939.5" y2="3470.8" stroke="#0c0c0c" stroke-width="3.80" stroke-linecap="butt"/>
<line x1="882.8" y1="3456.8" x2="882.8" y2="3470.8" stroke="#0c0c0c" stroke-width="3.80" stroke-linecap="butt"/>
<line x1="769.2" y1="3456.8" x2="769.2" y2="3470.8" stroke="#0c0c0c" stroke-width="3.80" stroke-linecap="butt"/>
<line x1="712.5" y1="3456.8" x2="712.5" y2="3470.8" stroke="#0c0c0c" stroke-width="3.80" stroke-linecap="butt"/>
<line x1="655.8" y1="3456.8" x2="655.8" y2="3470.8" stroke="#0c0c0c" stroke-width="3.80" stroke-linecap="butt"/>
<line x1="542.2" y1="3456.8" x2="542.2" y2="3470.8" stroke="#0c0c0c" stroke-width="3.80" stroke-linecap="butt"/>
<line x1="485.5" y1="3456.8" x2="485.5" y2="3470.8" stroke="#0c0c0c" stroke-width="3.80" stroke-linecap="butt"/>
<line x1="428.8" y1="3456.8" x2="428.8" y2="3470.8" stroke="#0c0c0c" stroke-width="3.80" stroke-linecap="butt"/>
<line x1="315.2" y1="3456.8" x2="315.2" y2="3470.8" stroke="#0c0c0c" stroke-width="3.80" stroke-linecap="butt"/>
<line x1="258.5" y1="3456.8" x2="258.5" y2="3470.8" stroke="#0c0c0c" stroke-width="3.80" stroke-linecap="butt"/>
<line x1="201.8" y1="3456.8" x2="201.8" y2="3470.8" stroke="#0c0c0c" stroke-width="3.80" stroke-linecap="butt"/>
<path d="M580.0 3351.0 L581.0 3351.0 L582.0 3351.0 L583.0 3351.0 L584.0 3351.0 L585.0 3351.0 L586.0 3351.0 L587.0 3351.0 L588.0 3351.0 L589.0 3351.0 L590.0 3351.0 L591.0 3351.0 L592.0 3351.0 L593.0 3351.0 L594.0 3351.0 L595.0 3351.0 L596.0 3351.0 L597.0 3351.0 L598.0 3351.0 L599.0 3351.0 L600.0 3351.0 L601.0 3351.0 L602.0 3351.0 L603.0 3351.0 L604.0 3351.0 L605.0 3351.0 L606.0 3351.0 L607.0 3351.0 L608.0 3351.0 L609.0 3351.0 L610.0 3351.0 L611.0 3351.0 L612.0 3351.0 L613.0 3351.0 L614.0 3351.0 L615.0 3351.0 L616.0 3351.0 L617.0 3351.0 L618.0 3351.0 L619.0 3351.0 L620.0 3351.0 L621.0 3351.0 L622.0 3351.0 L623.0 3351.0 L624.0 3351.0 L625.0 3351.0 L626.0 3351.0 L627.0 3351.0 L628.0 3351.0 L629.0 3351.0 L630.0 3351.0 L631.0 3351.0 L632.0 3351.0 L633.0 3351.0 L634.0 3351.0 L635.0 3351.0 L636.0 3351.0 L637.0 3351.0 L638.0 3351.0 L639.0 3351.0 L640.0 3351.0 L641.0 3351.0 L642.0 3351.0 L643.0 3351.0 L644.0 3351.0 L645.0 3351.0 L646.0 3351.0 L647.0 3351.0 L648.0 3351.0 L649.0 3351.0 L650.0 3351.0 L651.0 3351.0 L652.0 3351.0 L653.0 3351.0 L654.0 3351.0 L655.0 3351.0 L656.0 3351.0 L657.0 3351.0 L658.0 3351.0 L659.0 3351.0 L660.0 3351.0 L661.0 3351.0 L662.0 3351.0 L663.0 3351.0 L664.0 3351.0 L665.0 3351.0 L666.0 3351.0 L667.0 3351.0 L668.0 3351.0 L669.0 3351.0 L670.0 3351.0 L671.0 3351.0 L672.0 3351.0 L673.0 3351.0 L674.0 3351.0 L675.0 3351.0 L676.0 3351.0 L677.0 3351.0 L678.0 3351.0 L679.0 3351.0 L680.0 3351.0 L681.0 3351.0 L682.0 3351.0 L683.0 3351.0 L684.0 3351.0 L685.0 3351.0 L686.0 3351.0 L687.0 3351.0 L688.0 3351.0 L689.0 3351.0 L690.0 3351.0 L691.0 3351.0 L692.0 3351.0 L693.0 3351.0 L694.0 3351.0 L695.0 3351.0 L696.0 3351.0 L697.0 3351.0 L698.0 3351.0 L699.0 3351.0 L700.0 3351.0 L701.0 3351.0 L702.0 3351.0 L703.0 3351.0 L704.0 3351.0 L705.0 3351.0 L706.0 3351.0 L707.0 3351.0 L708.0 3351.0 L709.0 3351.0 L710.0 3351.0 L711.0 3351.0 L712.0 3351.0 L713.0 3351.0 L714.0 3351.0 L715.0 3351.0 L716.0 3351.0 L717.0 3351.0 L718.0 3351.0 L719.0 3351.0 L720.0 3351.0 L721.0 3351.0 L722.0 3351.0 L723.0 3351.0 L724.0 3351.0 L725.0 3351.0 L726.0 3351.0 L727.0 3351.0 L728.0 3351.0 L729.0 3351.0 L730.0 3351.0 L731.0 3351.0 L732.0 3351.0 L733.0 3351.0 L734.0 3351.0 L735.0 3351.0 L736.0 3351.0 L737.0 3351.0 L738.0 3351.0 L739.0 3351.0 L740.0 3351.0 L741.0 3351.0 L742.0 3351.0 L743.0 3351.0 L744.0 3351.0 L745.0 3351.0 L746.0 3351.0 L747.0 3351.0 L748.0 3351.0 L749.0 3351.0 L750.0 3351.0 L751.0 3351.0 L752.0 3351.0 L753.0 3351.0 L754.0 3351.0 L755.0 3351.0 L756.0 3351.0 L757.0 3351.0 L758.0 3351.0 L759.0 3351.0 L760.0 3351.0 L761.0 3351.0 L762.0 3351.0 L763.0 3351.0 L764.0 3351.0 L765.0 3351.0 L766.0 3351.0 L767.0 3351.0 L768.0 3351.0 L769.0 3351.0 L770.0 3351.0 L771.0 3351.0 L772.0 3351.0 L773.0 3351.0 L774.0 3351.0 L775.0 3351.0 L776.0 3351.0 L777.0 3351.0 L778.0 3351.0 L779.0 3351.0 L780.0 3351.0 L781.0 3351.0 L782.0 3351.0 L783.0 3351.0 L784.0 3351.0 L785.0 3351.0 L786.0 3351.0 L787.0 3351.0 L788.0 3351.0 L789.0 3351.0 L790.0 3351.0 L791.0 3351.0 L792.0 3351.0 L793.0 3351.0 L794.0 3351.1 L795.0 3351.2 L796.0 3351.3 L797.0 3351.4 L798.0 3351.5 L799.0 3351.6 L800.0 3351.7 L801.0 3351.7 L802.0 3351.8 L803.0 3352.0 L804.0 3352.2 L805.0 3352.5 L806.0 3352.8 L807.0 3353.0 L808.0 3353.3 L809.0 3353.6 L810.0 3353.9 L811.0 3354.1 L812.0 3354.4 L813.0 3354.7 L814.0 3355.1 L815.0 3355.4 L816.0 3355.8 L817.0 3356.1 L818.0 3356.5 L819.0 3356.9 L820.0 3357.2 L821.0 3357.6 L822.0 3358.0 L823.0 3358.3 L824.0 3358.7 L825.0 3359.0 L826.0 3359.4 L827.0 3359.8 L828.0 3360.1 L829.0 3360.5 L830.0 3360.8 L831.0 3361.2 L832.0 3361.6 L833.0 3361.9 L834.0 3362.3 L835.0 3362.7 L836.0 3363.0 L837.0 3363.4 L838.0 3363.8 L839.0 3364.3 L840.0 3364.7 L841.0 3365.2 L842.0 3365.6 L843.0 3366.1 L844.0 3366.5 L845.0 3367.0 L846.0 3367.4 L847.0 3367.9 L848.0 3368.5 L849.0 3369.1 L850.0 3369.7 L851.0 3370.4 L852.0 3371.0 L853.0 3371.6 L854.0 3372.2 L855.0 3372.9 L856.0 3373.5 L857.0 3374.1 L858.0 3374.8 L859.0 3375.5 L860.0 3376.2 L861.0 3377.0 L862.0 3377.7 L863.0 3378.4 L864.0 3379.1 L865.0 3379.8 L866.0 3380.5 L867.0 3381.2 L868.0 3381.9 L869.0 3382.6 L870.0 3383.4 L871.0 3384.1 L872.0 3384.8 L873.0 3385.5 L874.0 3386.2 L875.0 3386.9 L876.0 3387.6 L877.0 3388.3 L878.0 3389.0 L879.0 3389.8 L880.0 3390.5 L881.0 3391.2 L882.0 3391.9 L883.0 3392.6 L884.0 3393.3 L885.0 3394.1 L886.0 3394.8 L887.0 3395.5 L888.0 3396.3 L889.0 3397.0 L890.0 3397.7 L891.0 3398.5 L892.0 3399.2 L893.0 3400.0 L894.0 3400.7 L895.0 3401.5 L896.0 3402.3 L897.0 3403.0 L898.0 3403.8 L899.0 3404.6 L900.0 3405.3 L901.0 3406.1 L902.0 3406.9 L903.0 3407.7 L904.0 3408.4 L905.0 3409.2 L906.0 3410.0 L907.0 3410.8 L908.0 3411.6 L909.0 3412.4 L910.0 3413.2 L911.0 3413.9 L912.0 3414.7 L913.0 3415.5 L914.0 3416.3 L915.0 3417.1 L916.0 3417.9 L917.0 3418.7 L918.0 3419.4 L919.0 3420.2 L920.0 3421.0 L921.0 3421.8 L922.0 3422.6 L923.0 3423.4 L924.0 3424.2 L925.0 3425.0 L926.0 3425.7 L927.0 3426.5 L928.0 3427.1 L929.0 3427.8 L930.0 3428.5 L931.0 3429.1 L932.0 3429.8 L933.0 3430.4 L934.0 3431.1 L935.0 3431.8 L936.0 3432.4 L937.0 3433.0 L938.0 3433.4 L939.0 3433.8 L940.0 3434.2 L941.0 3434.6 L942.0 3435.0 L943.0 3435.4 L944.0 3435.8 L945.0 3436.3 L946.0 3436.7 L947.0 3437.0 L948.0 3437.3 L949.0 3437.6 L950.0 3437.9 L951.0 3438.2 L952.0 3438.5 L953.0 3438.8 L954.0 3439.0 L955.0 3439.3 L956.0 3439.6 L957.0 3439.9 L958.0 3440.2 L959.0 3440.5 L960.0 3440.8 L961.0 3441.1 L962.0 3441.3 L963.0 3441.6 L964.0 3441.9 L965.0 3442.2 L966.0 3442.4 L967.0 3442.7 L968.0 3442.9 L969.0 3443.2 L970.0 3443.4 L971.0 3443.6 L972.0 3443.9 L973.0 3444.1 L974.0 3444.4 L975.0 3444.6 L976.0 3444.7 L977.0 3444.9 L978.0 3445.0 L979.0 3445.2 L980.0 3445.3 L981.0 3445.4 L982.0 3445.6 L983.0 3445.7 L984.0 3445.9 L985.0 3446.0 L986.0 3446.1 L987.0 3446.2 L988.0 3446.3 L989.0 3446.4 L990.0 3446.5 L991.0 3446.6 L992.0 3446.7 L993.0 3446.8 L994.0 3446.9 L995.0 3447.0 L996.0 3447.1 L997.0 3447.2 L998.0 3447.3 L999.0 3447.4 L1000.0 3447.5 L1001.0 3447.6 L1002.0 3447.7 L1003.0 3447.8 L1004.0 3447.9 L1005.0 3448.0 L1006.0 3448.1 L1007.0 3448.2 L1008.0 3448.3 L1009.0 3448.4 L1010.0 3448.5 L1011.0 3448.6 L1012.0 3448.7 L1013.0 3448.8 L1014.0 3448.9 L1015.0 3449.0 L1016.0 3449.0 L1017.0 3449.1 L1018.0 3449.2 L1019.0 3449.3 L1020.0 3449.4 L1021.0 3449.4 L1022.0 3449.5 L1023.0 3449.6 L1024.0 3449.7 L1025.0 3449.7 L1026.0 3449.8 L1027.0 3449.8 L1028.0 3449.9 L1029.0 3449.9 L1030.0 3449.9 L1031.0 3450.0 L1032.0 3450.0 L1033.0 3450.0 L1034.0 3450.1 L1035.0 3450.1 L1036.0 3450.1 L1037.0 3450.1 L1038.0 3450.1 L1039.0 3450.2 L1040.0 3450.2 L1041.0 3450.2 L1042.0 3450.2 L1043.0 3450.2 L1044.0 3450.2 L1045.0 3450.2 L1046.0 3450.2 L1047.0 3450.3 L1048.0 3450.3 L1049.0 3450.3 L1050.0 3450.3 L1051.0 3450.3 L1052.0 3450.3 L1053.0 3450.3 L1054.0 3450.3 L1055.0 3450.3 L1056.0 3450.4 L1057.0 3450.4 L1058.0 3450.4 L1059.0 3450.4 L1060.0 3450.4 L1061.0 3450.4 L1062.0 3450.4 L1063.0 3450.4 L1064.0 3450.5 L1065.0 3450.5 L1066.0 3450.5 L1067.0 3450.5 L1068.0 3450.5 L1069.0 3450.5 L1070.0 3450.5 L1071.0 3450.5 L1072.0 3450.5 L1073.0 3450.6 L1074.0 3450.6 L1075.0 3450.6 L1076.0 3450.6 L1077.0 3450.6 L1078.0 3450.6 L1079.0 3450.6 L1080.0 3450.6 L1081.0 3450.7 L1082.0 3450.7 L1083.0 3450.7 L1084.0 3450.7 L1085.0 3450.7 L1086.0 3450.7 L1087.0 3450.7 L1088.0 3450.7 L1089.0 3450.8 L1090.0 3450.8 L1091.0 3450.8 L1092.0 3450.8 L1093.0 3450.8 L1094.0 3450.8 L1095.0 3450.8 L1096.0 3450.8 L1097.0 3450.8 L1098.0 3450.9 L1099.0 3450.9 L1100.0 3450.9 L1101.0 3450.9 L1102.0 3450.9 L1103.0 3450.9 L1104.0 3450.9 L1105.0 3451.0 L1106.0 3451.0 L1107.0 3451.0 L1108.0 3451.0 L1109.0 3451.0" fill="none" stroke="#8a3a12" stroke-width="2.20" stroke-linejoin="round" stroke-linecap="round" />
<path d="M752.0 3351.0 L753.0 3350.9 L754.0 3350.7 L755.0 3350.4 L756.0 3350.1 L757.0 3349.8 L758.0 3349.4 L759.0 3348.8 L760.0 3348.2 L761.0 3347.5 L762.0 3346.6 L763.0 3345.7 L764.0 3344.5 L765.0 3343.7 L766.0 3342.9 L767.0 3342.0 L768.0 3341.1 L769.0 3340.0 L770.0 3338.9 L771.0 3337.6 L772.0 3336.2 L773.0 3334.8 L774.0 3333.2 L775.0 3331.5 L776.0 3329.7 L777.0 3327.7 L778.0 3325.6 L779.0 3323.3 L780.0 3320.9 L781.0 3318.4 L782.0 3315.7 L783.0 3312.8 L784.0 3309.7 L785.0 3306.5 L786.0 3303.1 L787.0 3299.6 L788.0 3295.9 L789.0 3291.9 L790.0 3287.9 L791.0 3283.6 L792.0 3279.2 L793.0 3274.7 L794.0 3270.0 L795.0 3265.2 L796.0 3260.3 L797.0 3255.2 L798.0 3250.0 L799.0 3244.7 L800.0 3239.3 L801.0 3233.7 L802.0 3228.2 L803.0 3222.5 L804.0 3217.0 L805.0 3211.5 L806.0 3206.0 L807.0 3200.4 L808.0 3194.9 L809.0 3189.5 L810.0 3184.1 L811.0 3178.9 L812.0 3173.7 L813.0 3168.7 L814.0 3163.9 L815.0 3159.4 L816.0 3155.0 L817.0 3150.8 L818.0 3146.9 L819.0 3143.3 L820.0 3139.9 L821.0 3136.8 L822.0 3134.1 L823.0 3131.7 L824.0 3129.6 L825.0 3127.8 L826.0 3126.5 L827.0 3125.5 L828.0 3124.9 L829.0 3124.7 L830.0 3124.8 L831.0 3125.4 L832.0 3126.3 L833.0 3127.7 L834.0 3129.4 L835.0 3131.5 L836.0 3133.9 L837.0 3136.7 L838.0 3140.0 L839.0 3143.5 L840.0 3147.4 L841.0 3151.6 L842.0 3156.0 L843.0 3160.8 L844.0 3165.7 L845.0 3170.9 L846.0 3176.3 L847.0 3181.9 L848.0 3187.8 L849.0 3193.9 L850.0 3200.0 L851.0 3206.3 L852.0 3212.6 L853.0 3219.0 L854.0 3225.4 L855.0 3231.9 L856.0 3238.3 L857.0 3244.7 L858.0 3251.1 L859.0 3257.5 L860.0 3263.8 L861.0 3270.1 L862.0 3276.2 L863.0 3282.2 L864.0 3288.1 L865.0 3293.8 L866.0 3299.4 L867.0 3304.9 L868.0 3310.1 L869.0 3315.3 L870.0 3320.2 L871.0 3325.0 L872.0 3329.6 L873.0 3334.1 L874.0 3338.3 L875.0 3342.4 L876.0 3346.4 L877.0 3350.1 L878.0 3353.7 L879.0 3357.1 L880.0 3360.4 L881.0 3363.5 L882.0 3366.5 L883.0 3369.3 L884.0 3372.0 L885.0 3374.6 L886.0 3377.0 L887.0 3379.3 L888.0 3381.5 L889.0 3384.7 L890.0 3387.6 L891.0 3390.2 L892.0 3392.6 L893.0 3394.7 L894.0 3396.7 L895.0 3398.5 L896.0 3400.1 L897.0 3401.6 L898.0 3402.9 L899.0 3404.2 L900.0 3405.3" fill="none" stroke="#8a3a12" stroke-width="2.50" stroke-linejoin="round" stroke-linecap="round" />
<path d="M800.0 3351.7 L801.0 3351.6 L802.0 3351.5 L803.0 3351.4 L804.0 3351.4 L805.0 3351.3 L806.0 3351.2 L807.0 3350.9 L808.0 3350.6 L809.0 3350.1 L810.0 3349.4 L811.0 3348.6 L812.0 3347.5 L813.0 3347.0 L814.0 3346.3 L815.0 3345.6 L816.0 3344.8 L817.0 3343.8 L818.0 3342.7 L819.0 3341.4 L820.0 3340.0 L821.0 3338.4 L822.0 3336.7 L823.0 3334.8 L824.0 3332.6 L825.0 3330.3 L826.0 3327.7 L827.0 3324.9 L828.0 3321.9 L829.0 3318.6 L830.0 3315.0 L831.0 3311.2 L832.0 3307.1 L833.0 3302.7 L834.0 3298.0 L835.0 3293.0 L836.0 3287.8 L837.0 3282.2 L838.0 3276.4 L839.0 3270.3 L840.0 3263.9 L841.0 3257.2 L842.0 3250.2 L843.0 3242.9 L844.0 3235.4 L845.0 3227.6 L846.0 3219.6 L847.0 3211.4 L848.0 3203.1 L849.0 3194.7 L850.0 3186.1 L851.0 3177.4 L852.0 3168.7 L853.0 3159.9 L854.0 3151.0 L855.0 3142.2 L856.0 3133.4 L857.0 3124.7 L858.0 3116.3 L859.0 3108.0 L860.0 3099.9 L861.0 3092.1 L862.0 3084.5 L863.0 3077.3 L864.0 3070.5 L865.0 3064.1 L866.0 3058.1 L867.0 3052.7 L868.0 3047.7 L869.0 3043.3 L870.0 3039.5 L871.0 3036.2 L872.0 3033.6 L873.0 3031.6 L874.0 3030.3 L875.0 3029.7 L876.0 3029.7 L877.0 3030.4 L878.0 3031.8 L879.0 3033.9 L880.0 3036.6 L881.0 3040.0 L882.0 3044.0 L883.0 3048.7 L884.0 3054.0 L885.0 3059.8 L886.0 3066.2 L887.0 3073.2 L888.0 3080.6 L889.0 3088.4 L890.0 3096.7 L891.0 3105.3 L892.0 3114.3 L893.0 3123.6 L894.0 3133.2 L895.0 3142.9 L896.0 3152.9 L897.0 3163.0 L898.0 3173.1 L899.0 3183.3 L900.0 3193.6 L901.0 3203.8 L902.0 3213.9 L903.0 3224.0 L904.0 3234.0 L905.0 3243.8 L906.0 3253.5 L907.0 3263.0 L908.0 3272.2 L909.0 3281.2 L910.0 3290.0 L911.0 3298.5 L912.0 3306.7 L913.0 3314.6 L914.0 3322.3 L915.0 3329.6 L916.0 3336.7 L917.0 3343.4 L918.0 3349.8 L919.0 3356.0 L920.0 3361.8 L921.0 3371.9 L922.0 3380.9 L923.0 3389.0 L924.0 3396.2 L925.0 3402.6 L926.0 3408.3 L927.0 3413.3 L928.0 3417.5 L929.0 3421.3 L930.0 3424.5 L931.0 3427.3 L932.0 3429.8" fill="none" stroke="#0c0c0c" stroke-width="2.50" stroke-linejoin="round" stroke-linecap="round" />
<path d="M818.0 3356.5 L819.0 3356.7 L820.0 3356.9 L821.0 3357.0 L822.0 3357.0 L823.0 3357.0 L824.0 3356.8 L825.0 3356.4 L826.0 3355.9 L827.0 3355.2 L828.0 3354.2 L829.0 3352.9 L830.0 3351.3 L831.0 3350.2 L832.0 3349.0 L833.0 3347.5 L834.0 3345.8 L835.0 3343.8 L836.0 3341.6 L837.0 3339.2 L838.0 3336.5 L839.0 3333.5 L840.0 3330.1 L841.0 3326.4 L842.0 3322.4 L843.0 3317.9 L844.0 3313.1 L845.0 3307.8 L846.0 3302.1 L847.0 3296.0 L848.0 3289.6 L849.0 3282.8 L850.0 3275.5 L851.0 3267.8 L852.0 3259.7 L853.0 3251.2 L854.0 3242.3 L855.0 3233.1 L856.0 3223.6 L857.0 3213.8 L858.0 3203.8 L859.0 3193.7 L860.0 3183.4 L861.0 3173.0 L862.0 3162.6 L863.0 3152.3 L864.0 3142.1 L865.0 3132.0 L866.0 3122.2 L867.0 3112.7 L868.0 3103.7 L869.0 3095.1 L870.0 3087.0 L871.0 3079.5 L872.0 3072.7 L873.0 3066.7 L874.0 3061.4 L875.0 3056.9 L876.0 3053.4 L877.0 3050.7 L878.0 3049.0 L879.0 3048.2 L880.0 3048.5 L881.0 3049.7 L882.0 3051.8 L883.0 3055.0 L884.0 3059.1 L885.0 3064.1 L886.0 3070.0 L887.0 3076.7 L888.0 3084.2 L889.0 3092.5 L890.0 3101.4 L891.0 3110.9 L892.0 3120.9 L893.0 3131.5 L894.0 3142.4 L895.0 3153.7 L896.0 3165.2 L897.0 3176.9 L898.0 3188.8 L899.0 3200.6 L900.0 3212.5 L901.0 3224.2 L902.0 3235.9 L903.0 3247.3 L904.0 3258.5 L905.0 3269.5 L906.0 3280.1 L907.0 3290.4 L908.0 3300.3 L909.0 3309.8 L910.0 3318.9 L911.0 3327.6 L912.0 3335.8 L913.0 3349.6 L914.0 3361.9 L915.0 3372.7 L916.0 3382.2 L917.0 3390.6 L918.0 3397.8 L919.0 3404.1 L920.0 3409.5 L921.0 3414.1 L922.0 3418.0 L923.0 3421.4 L924.0 3424.2" fill="none" stroke="#1a1ad8" stroke-width="2.50" stroke-linejoin="round" stroke-linecap="round" />
<path d="M840.0 3362.5 L841.0 3362.5 L842.0 3362.5 L843.0 3362.5 L844.0 3362.5 L845.0 3362.5 L846.0 3362.5 L847.0 3362.5 L848.0 3362.5 L849.0 3362.5 L850.0 3362.5 L851.0 3362.5 L852.0 3362.5 L853.0 3362.5 L854.0 3362.5 L855.0 3362.5 L856.0 3362.5 L857.0 3362.5 L858.0 3362.5 L859.0 3362.5 L860.0 3362.5 L861.0 3362.5 L862.0 3362.5 L863.0 3362.5 L864.0 3362.5 L865.0 3362.5 L866.0 3362.5 L867.0 3362.5 L868.0 3362.5 L869.0 3362.5 L870.0 3362.5 L871.0 3362.5 L872.0 3362.5 L873.0 3362.1 L874.0 3361.2 L875.0 3360.2 L876.0 3359.1 L877.0 3357.9 L878.0 3356.7 L879.0 3355.5 L880.0 3354.2 L881.0 3352.8 L882.0 3351.4 L883.0 3350.0 L884.0 3348.5 L885.0 3347.0 L886.0 3345.5 L887.0 3344.0 L888.0 3342.5 L889.0 3341.0 L890.0 3339.5 L891.0 3338.0 L892.0 3336.5 L893.0 3335.2 L894.0 3333.8 L895.0 3332.6 L896.0 3331.4 L897.0 3330.2 L898.0 3329.2 L899.0 3328.2 L900.0 3327.4 L901.0 3326.7 L902.0 3326.0 L903.0 3325.6 L904.0 3325.2 L905.0 3325.0 L906.0 3325.0 L907.0 3325.1 L908.0 3325.3 L909.0 3325.7 L910.0 3326.2 L911.0 3326.9 L912.0 3327.9 L913.0 3329.2 L914.0 3330.9 L915.0 3332.9 L916.0 3335.2 L917.0 3337.8 L918.0 3340.8 L919.0 3343.9 L920.0 3347.3 L921.0 3350.9 L922.0 3354.7 L923.0 3358.6 L924.0 3362.6 L925.0 3366.7 L926.0 3370.9 L927.0 3375.0 L928.0 3379.0 L929.0 3383.0 L930.0 3386.9 L931.0 3390.8 L932.0 3394.5 L933.0 3398.1 L934.0 3401.6 L935.0 3405.0 L936.0 3408.2 L937.0 3411.2 L938.0 3413.8 L939.0 3416.3 L940.0 3418.6 L941.0 3420.8 L942.0 3422.9 L943.0 3424.7 L944.0 3426.5 L945.0 3428.1 L946.0 3429.6 L947.0 3430.9 L948.0 3432.0 L949.0 3433.1 L950.0 3434.0 L951.0 3434.9 L952.0 3435.7 L953.0 3436.4 L954.0 3437.1 L955.0 3437.7 L956.0 3438.2 L957.0 3438.8 L958.0 3439.2 L959.0 3439.7 L960.0 3440.1 L961.0 3440.5 L962.0 3440.9 L963.0 3441.3 L964.0 3441.6 L965.0 3442.0 L966.0 3442.3 L967.0 3442.5 L968.0 3442.8 L969.0 3443.1 L970.0 3443.3 L971.0 3443.6 L972.0 3443.8 L973.0 3444.1 L974.0 3444.3 L975.0 3444.5 L976.0 3444.7 L977.0 3444.9 L978.0 3445.0 L979.0 3445.1 L980.0 3445.3 L981.0 3445.4 L982.0 3445.6 L983.0 3445.7 L984.0 3445.9 L985.0 3446.0 L986.0 3446.1 L987.0 3446.2 L988.0 3446.3" fill="none" stroke="#10bcbc" stroke-width="2.50" stroke-linejoin="round" stroke-linecap="round" />
<path d="M864.0 3379.1 L865.0 3379.6 L866.0 3380.1 L867.0 3380.5 L868.0 3380.8 L869.0 3380.9 L870.0 3380.9 L871.0 3380.7 L872.0 3380.3 L873.0 3379.6 L874.0 3378.5 L875.0 3377.1 L876.0 3375.2 L877.0 3373.9 L878.0 3372.3 L879.0 3370.5 L880.0 3368.3 L881.0 3365.8 L882.0 3362.9 L883.0 3359.7 L884.0 3355.9 L885.0 3351.7 L886.0 3347.0 L887.0 3341.8 L888.0 3335.9 L889.0 3329.5 L890.0 3322.5 L891.0 3314.8 L892.0 3306.5 L893.0 3297.5 L894.0 3287.9 L895.0 3277.6 L896.0 3266.5 L897.0 3254.8 L898.0 3242.5 L899.0 3229.5 L900.0 3215.9 L901.0 3201.7 L902.0 3187.0 L903.0 3171.9 L904.0 3156.4 L905.0 3140.6 L906.0 3124.5 L907.0 3108.2 L908.0 3092.0 L909.0 3075.7 L910.0 3059.7 L911.0 3043.8 L912.0 3028.4 L913.0 3013.5 L914.0 2999.2 L915.0 2985.6 L916.0 2972.8 L917.0 2961.0 L918.0 2950.3 L919.0 2940.7 L920.0 2932.3 L921.0 2925.3 L922.0 2919.6 L923.0 2915.4 L924.0 2912.7 L925.0 2911.4 L926.0 2911.8 L927.0 2913.6 L928.0 2916.8 L929.0 2921.6 L930.0 2927.9 L931.0 2935.5 L932.0 2944.6 L933.0 2954.9 L934.0 2966.4 L935.0 2979.0 L936.0 2992.7 L937.0 3007.1 L938.0 3022.2 L939.0 3038.0 L940.0 3054.3 L941.0 3071.1 L942.0 3088.2 L943.0 3105.6 L944.0 3123.1 L945.0 3140.5 L946.0 3157.9 L947.0 3175.0 L948.0 3191.8 L949.0 3208.3 L950.0 3224.3 L951.0 3239.8 L952.0 3254.8 L953.0 3269.3 L954.0 3283.1 L955.0 3296.2 L956.0 3308.7 L957.0 3320.5 L958.0 3331.6 L959.0 3342.0 L960.0 3351.8 L961.0 3360.9 L962.0 3369.3 L963.0 3377.1 L964.0 3384.3 L965.0 3390.9 L966.0 3396.9 L967.0 3402.3 L968.0 3407.3 L969.0 3411.8 L970.0 3415.9 L971.0 3419.6 L972.0 3422.9 L973.0 3425.9 L974.0 3428.6 L975.0 3430.9 L976.0 3433.0 L977.0 3434.8 L978.0 3436.4 L979.0 3437.8 L980.0 3439.0 L981.0 3440.1 L982.0 3441.1 L983.0 3442.2 L984.0 3443.2 L985.0 3444.0 L986.0 3444.6 L987.0 3445.1 L988.0 3445.5 L989.0 3445.9 L990.0 3446.1 L991.0 3446.4 L992.0 3446.6 L993.0 3446.7 L994.0 3446.9" fill="none" stroke="#e01818" stroke-width="2.50" stroke-linejoin="round" stroke-linecap="round" />
<path d="M884.0 3393.3 L885.0 3394.1 L886.0 3394.8 L887.0 3395.5 L888.0 3396.1 L889.0 3396.8 L890.0 3397.5 L891.0 3398.1 L892.0 3398.7 L893.0 3399.3 L894.0 3399.9 L895.0 3400.5 L896.0 3401.0 L897.0 3401.5 L898.0 3402.1 L899.0 3402.6 L900.0 3403.1 L901.0 3403.5 L902.0 3403.9 L903.0 3404.3 L904.0 3404.6 L905.0 3404.9 L906.0 3405.2 L907.0 3405.3 L908.0 3405.4 L909.0 3405.5 L910.0 3405.4 L911.0 3405.3 L912.0 3405.1 L913.0 3404.8 L914.0 3404.4 L915.0 3403.9 L916.0 3403.3 L917.0 3402.6 L918.0 3401.7 L919.0 3400.8 L920.0 3399.7 L921.0 3398.5 L922.0 3397.1 L923.0 3395.7 L924.0 3394.1 L925.0 3392.3 L926.0 3390.5 L927.0 3388.4 L928.0 3386.2 L929.0 3383.8 L930.0 3381.3 L931.0 3378.7 L932.0 3375.9 L933.0 3373.1 L934.0 3370.2 L935.0 3367.2 L936.0 3364.1 L937.0 3360.9 L938.0 3357.4 L939.0 3354.0 L940.0 3350.5 L941.0 3347.1 L942.0 3343.7 L943.0 3340.3 L944.0 3336.9 L945.0 3333.7 L946.0 3330.5 L947.0 3327.4 L948.0 3324.4 L949.0 3321.6 L950.0 3318.9 L951.0 3316.4 L952.0 3314.1 L953.0 3312.0 L954.0 3310.2 L955.0 3308.6 L956.0 3307.3 L957.0 3306.3 L958.0 3305.5 L959.0 3305.1 L960.0 3304.9 L961.0 3305.1 L962.0 3305.6 L963.0 3306.7 L964.0 3308.3 L965.0 3310.3 L966.0 3312.9 L967.0 3315.8 L968.0 3319.2 L969.0 3323.0 L970.0 3327.1 L971.0 3331.6 L972.0 3336.3 L973.0 3341.2 L974.0 3346.3 L975.0 3351.5 L976.0 3356.7 L977.0 3362.0 L978.0 3367.3 L979.0 3372.5 L980.0 3377.7 L981.0 3382.8 L982.0 3387.7 L983.0 3392.5 L984.0 3397.1 L985.0 3401.4 L986.0 3405.6 L987.0 3409.5 L988.0 3413.2 L989.0 3416.6 L990.0 3419.8 L991.0 3422.8 L992.0 3425.5 L993.0 3428.1 L994.0 3430.4 L995.0 3432.5 L996.0 3434.4 L997.0 3436.1 L998.0 3437.7 L999.0 3439.1 L1000.0 3440.3 L1001.0 3441.4 L1002.0 3442.4 L1003.0 3443.3 L1004.0 3444.1 L1005.0 3444.8 L1006.0 3445.4 L1007.0 3445.9 L1008.0 3446.4 L1009.0 3446.8 L1010.0 3447.2 L1011.0 3447.6 L1012.0 3447.9 L1013.0 3448.2 L1014.0 3448.5 L1015.0 3448.7 L1016.0 3448.9 L1017.0 3449.0 L1018.0 3449.1 L1019.0 3449.2 L1020.0 3449.3 L1021.0 3449.4 L1022.0 3449.5" fill="none" stroke="#d00ad0" stroke-width="2.50" stroke-linejoin="round" stroke-linecap="round" />
<path d="M720.0 3351.0 L721.0 3351.0 L722.0 3350.9 L723.0 3350.9 L724.0 3350.9 L725.0 3350.8 L726.0 3350.8 L727.0 3350.8 L728.0 3350.7 L729.0 3350.7 L730.0 3350.7 L731.0 3350.6 L732.0 3350.6 L733.0 3350.6 L734.0 3350.5 L735.0 3350.5 L736.0 3350.5 L737.0 3350.4 L738.0 3350.4 L739.0 3350.4 L740.0 3350.3 L741.0 3350.3 L742.0 3350.3 L743.0 3350.2 L744.0 3350.2 L745.0 3350.2 L746.0 3350.1 L747.0 3350.1 L748.0 3350.1 L749.0 3350.0 L750.0 3350.0 L751.0 3349.6 L752.0 3349.2 L753.0 3348.8 L754.0 3348.5 L755.0 3348.1 L756.0 3347.7 L757.0 3347.3 L758.0 3346.9 L759.0 3346.5 L760.0 3346.2 L761.0 3345.8 L762.0 3345.4 L763.0 3345.0 L764.0 3343.8 L765.0 3342.5 L766.0 3341.2 L767.0 3340.0 L768.0 3338.8 L769.0 3337.5 L770.0 3336.2 L771.0 3335.0 L772.0 3333.8 L773.0 3332.5 L774.0 3331.2 L775.0 3330.0 L776.0 3328.0 L777.0 3326.0 L778.0 3324.0 L779.0 3322.0 L780.0 3320.0 L781.0 3318.0 L782.0 3316.0 L783.0 3314.0 L784.0 3312.0 L785.0 3310.0 L786.0 3306.7 L787.0 3303.3 L788.0 3300.0 L789.0 3296.7 L790.0 3293.3 L791.0 3290.0 L792.0 3286.7 L793.0 3283.3 L794.0 3280.0 L795.0 3275.1 L796.0 3270.2 L797.0 3265.4 L798.0 3260.5 L799.0 3255.6 L800.0 3250.8 L801.0 3245.9 L802.0 3241.0 L803.0 3235.4 L804.0 3229.9 L805.0 3224.3 L806.0 3218.8 L807.0 3213.2 L808.0 3207.7 L809.0 3202.1 L810.0 3196.6 L811.0 3191.0 L812.0 3185.5 L813.0 3179.9 L814.0 3174.4 L815.0 3168.8 L816.0 3163.3 L817.0 3157.7 L818.0 3152.2 L819.0 3146.6 L820.0 3141.1 L821.0 3135.5 L822.0 3130.0 L823.0 3124.4 L824.0 3118.5 L825.0 3110.9 L826.0 3103.4 L827.0 3095.8 L828.0 3088.3 L829.0 3080.8 L830.0 3073.2 L831.0 3065.7 L832.0 3058.1 L833.0 3050.6 L834.0 3043.0 L835.0 3035.5 L836.0 3027.9 L837.0 3020.4 L838.0 3012.8 L839.0 3005.3 L840.0 2997.7 L841.0 2990.2 L842.0 2982.6 L843.0 2975.1 L844.0 2967.5 L845.0 2960.0 L846.0 2947.2 L847.0 2934.4 L848.0 2921.5 L849.0 2908.7 L850.0 2895.9 L851.0 2883.1 L852.0 2870.2 L853.0 2857.4 L854.0 2844.6 L855.0 2831.8 L856.0 2818.9 L857.0 2806.1 L858.0 2793.3 L859.0 2780.5 L860.0 2767.6 L861.0 2754.8 L862.0 2742.0 L863.0 2729.1 L864.0 2716.1 L865.0 2703.1 L866.0 2690.1 L867.0 2677.0 L868.0 2664.0 L869.0 2651.0 L870.0 2638.0 L871.0 2625.0 L872.0 2618.8 L873.0 2612.5 L874.0 2606.2 L875.0 2600.0 L876.0 2598.4 L877.0 2596.8 L878.0 2595.2 L879.0 2593.6 L880.0 2592.0 L881.0 2594.8 L882.0 2597.5 L883.0 2600.2 L884.0 2603.0 L885.0 2608.5 L886.0 2614.0 L887.0 2619.5 L888.0 2625.0 L889.0 2631.5 L890.0 2638.0 L891.0 2644.5 L892.0 2651.0 L893.0 2657.5 L894.0 2664.0 L895.0 2670.5 L896.0 2677.0 L897.0 2683.5 L898.0 2690.0 L899.0 2694.1 L900.0 2698.2 L901.0 2702.4 L902.0 2706.5 L903.0 2710.6 L904.0 2714.8 L905.0 2718.9 L906.0 2723.0 L907.0 2721.4 L908.0 2719.8 L909.0 2718.1 L910.0 2716.5 L911.0 2714.9 L912.0 2713.2 L913.0 2711.6 L914.0 2710.0 L915.0 2707.9 L916.0 2705.7 L917.0 2703.6 L918.0 2701.4 L919.0 2699.3 L920.0 2697.1 L921.0 2695.0 L922.0 2696.4 L923.0 2697.7 L924.0 2699.1 L925.0 2700.5 L926.0 2701.8 L927.0 2703.2 L928.0 2709.5 L929.0 2723.2 L930.0 2736.9 L931.0 2750.5 L932.0 2764.2 L933.0 2777.9 L934.0 2791.6 L935.0 2805.3 L936.0 2819.0 L937.0 2834.7 L938.0 2850.3 L939.0 2866.0 L940.0 2881.7 L941.0 2897.3 L942.0 2913.0 L943.0 2928.7 L944.0 2944.3 L945.0 2960.0 L946.0 2974.0 L947.0 2988.0 L948.0 3002.0 L949.0 3016.0 L950.0 3030.0 L951.0 3044.0 L952.0 3058.0 L953.0 3072.0 L954.0 3086.0 L955.0 3100.0 L956.0 3110.3 L957.0 3120.5 L958.0 3130.8 L959.0 3141.0 L960.0 3151.3 L961.0 3161.5 L962.0 3171.8 L963.0 3182.0 L964.0 3192.3 L965.0 3202.5 L966.0 3212.8 L967.0 3223.0 L968.0 3233.3 L969.0 3243.5 L970.0 3253.8 L971.0 3263.3 L972.0 3270.0 L973.0 3276.7 L974.0 3283.3 L975.0 3290.0 L976.0 3296.7 L977.0 3303.3 L978.0 3310.0 L979.0 3315.8 L980.0 3321.7 L981.0 3327.5 L982.0 3333.3 L983.0 3339.2 L984.0 3345.0 L985.0 3349.2 L986.0 3353.4 L987.0 3357.6 L988.0 3361.7 L989.0 3365.9 L990.0 3370.1 L991.0 3374.3 L992.0 3378.5 L993.0 3382.7 L994.0 3386.6 L995.0 3389.5 L996.0 3392.5 L997.0 3395.4 L998.0 3398.3 L999.0 3401.3 L1000.0 3404.2 L1001.0 3407.1 L1002.0 3410.1 L1003.0 3413.0 L1004.0 3414.8 L1005.0 3416.6 L1006.0 3418.4 L1007.0 3420.2 L1008.0 3422.0 L1009.0 3423.8 L1010.0 3425.6 L1011.0 3427.4 L1012.0 3429.2 L1013.0 3431.0 L1014.0 3431.7 L1015.0 3432.4 L1016.0 3433.1 L1017.0 3433.7 L1018.0 3434.4 L1019.0 3435.1 L1020.0 3435.8 L1021.0 3436.5 L1022.0 3437.2 L1023.0 3437.8 L1024.0 3438.5 L1025.0 3439.2 L1026.0 3439.9 L1027.0 3440.6 L1028.0 3441.3 L1029.0 3441.9 L1030.0 3442.6 L1031.0 3443.3 L1032.0 3444.0 L1033.0 3444.2 L1034.0 3444.4 L1035.0 3444.5 L1036.0 3444.7 L1037.0 3444.9 L1038.0 3445.1 L1039.0 3445.2 L1040.0 3445.4 L1041.0 3445.6 L1042.0 3445.8 L1043.0 3446.0 L1044.0 3446.1 L1045.0 3446.3 L1046.0 3446.5 L1047.0 3446.7 L1048.0 3446.9 L1049.0 3447.0 L1050.0 3447.2 L1051.0 3447.4 L1052.0 3447.6 L1053.0 3447.8 L1054.0 3447.9 L1055.0 3448.1 L1056.0 3448.3 L1057.0 3448.5 L1058.0 3448.6 L1059.0 3448.8 L1060.0 3449.0 L1061.0 3449.0 L1062.0 3449.1 L1063.0 3449.1 L1064.0 3449.2 L1065.0 3449.2 L1066.0 3449.2 L1067.0 3449.3 L1068.0 3449.3 L1069.0 3449.4 L1070.0 3449.4 L1071.0 3449.4 L1072.0 3449.5 L1073.0 3449.5 L1074.0 3449.6 L1075.0 3449.6 L1076.0 3449.6 L1077.0 3449.7 L1078.0 3449.7 L1079.0 3449.8 L1080.0 3449.8 L1081.0 3449.8 L1082.0 3449.9 L1083.0 3449.9 L1084.0 3450.0 L1085.0 3450.0 L1086.0 3450.0 L1087.0 3450.1 L1088.0 3450.1 L1089.0 3450.2 L1090.0 3450.2 L1091.0 3450.2 L1092.0 3450.3 L1093.0 3450.3 L1094.0 3450.4 L1095.0 3450.4 L1096.0 3450.4 L1097.0 3450.5 L1098.0 3450.5 L1099.0 3450.6 L1100.0 3450.6 L1101.0 3450.6 L1102.0 3450.7 L1103.0 3450.7 L1104.0 3450.8 L1105.0 3450.8 L1106.0 3450.8 L1107.0 3450.9 L1108.0 3450.9 L1109.0 3451.0 L1110.0 3451.0" fill="none" stroke="#8a3a12" stroke-width="2.40" stroke-linejoin="round" stroke-linecap="round" />
<path d="M146.0 3332.8 L151.5 3336.7 L157.0 3334.2 L162.5 3334.5 L168.0 3332.5 L173.5 3336.4 L179.0 3342.9 L184.5 3340.6 L190.0 3344.0 L195.5 3341.2 L201.0 3342.6 L206.5 3342.4 L212.0 3334.9 L217.5 3346.6 L223.0 3345.4 L228.5 3345.2 L234.0 3335.1 L239.5 3334.1 L245.0 3336.9 L250.5 3337.9 L256.0 3340.4 L261.5 3337.9 L267.0 3339.5 L272.5 3333.5 L278.0 3336.8 L283.5 3336.3 L289.0 3330.8 L294.5 3340.5 L300.0 3334.7 L305.5 3336.9 L311.0 3328.3 L316.5 3327.2 L322.0 3328.4 L327.5 3328.8 L333.0 3331.5 L338.5 3329.2 L344.0 3325.5 L349.5 3322.7 L355.0 3324.0 L360.5 3331.1 L366.0 3321.6 L371.5 3325.6 L377.0 3325.9 L382.5 3317.2 L388.0 3324.0 L393.5 3329.9 L399.0 3315.8 L404.5 3324.0 L410.0 3325.7 L415.5 3323.3 L421.0 3329.8 L426.5 3328.1 L432.0 3322.6 L437.5 3333.4 L443.0 3333.7 L448.5 3336.0 L454.0 3339.6 L459.5 3336.4 L465.0 3336.9 L470.5 3332.3 L476.0 3342.4 L481.5 3338.6 L487.0 3341.0 L492.5 3339.0 L498.0 3341.7 L503.5 3344.9 L509.0 3353.6 L514.5 3339.6 L520.0 3342.3 L525.5 3350.1 L531.0 3355.6 L536.5 3352.1 L542.0 3341.4 L547.5 3339.0 L553.0 3351.9 L558.5 3347.3 L564.0 3345.8 L569.5 3355.2 L575.0 3355.8 L580.5 3351.7 L586.0 3352.1 L591.5 3352.9 L597.0 3358.0 L602.5 3353.7 L608.0 3353.3 L613.5 3353.4 L619.0 3344.1 L624.5 3356.6 L630.0 3355.2 L635.5 3353.3 L641.0 3342.3 L646.5 3348.2 L652.0 3354.7 L657.5 3343.0 L663.0 3350.2 L668.5 3355.5 L674.0 3345.2 L679.5 3358.1 L685.0 3353.4 L690.5 3350.3 L696.0 3352.4 L701.5 3353.9 L707.0 3351.5 L712.5 3356.0 L718.0 3348.1 L723.5 3349.2 L729.0 3355.6 L734.5 3351.1 L740.0 3350.9 L741.0 3350.9 L742.0 3350.9 L743.0 3350.8 L744.0 3350.8 L745.0 3350.8 L746.0 3350.7 L747.0 3350.7 L748.0 3350.7 L749.0 3350.6 L750.0 3350.6 L751.0 3350.2 L752.0 3349.8 L753.0 3349.4 L754.0 3349.1 L755.0 3348.7 L756.0 3348.3 L757.0 3347.9 L758.0 3347.5 L759.0 3347.1 L760.0 3346.8 L761.0 3346.4 L762.0 3346.0 L763.0 3345.6 L764.0 3344.3 L765.0 3343.1 L766.0 3341.8 L767.0 3340.6 L768.0 3339.3 L769.0 3338.1 L770.0 3336.8 L771.0 3335.6 L772.0 3334.3 L773.0 3333.1 L774.0 3331.8 L775.0 3330.6 L776.0 3328.6 L777.0 3326.6 L778.0 3324.6 L779.0 3322.6 L780.0 3320.6 L781.0 3318.6 L782.0 3316.6 L783.0 3314.6 L784.0 3312.6 L785.0 3310.6 L786.0 3307.3 L787.0 3303.9 L788.0 3300.6 L789.0 3297.3 L790.0 3293.9 L791.0 3290.6 L792.0 3287.3 L793.0 3283.9 L794.0 3280.6 L795.0 3275.7 L796.0 3270.8 L797.0 3266.0 L798.0 3261.1 L799.0 3256.2 L800.0 3251.3 L801.0 3246.5 L802.0 3241.6 L803.0 3236.0 L804.0 3230.5 L805.0 3224.9 L806.0 3219.4 L807.0 3213.8 L808.0 3208.3 L809.0 3202.7 L810.0 3197.2 L811.0 3191.6 L812.0 3186.1 L813.0 3180.5 L814.0 3175.0 L815.0 3169.4 L816.0 3163.9 L817.0 3158.3 L818.0 3152.8 L819.0 3147.2 L820.0 3141.7 L821.0 3136.1 L822.0 3130.6 L823.0 3125.0 L824.0 3119.1 L825.0 3111.5 L826.0 3104.0 L827.0 3096.4 L828.0 3088.9 L829.0 3081.4 L830.0 3073.8 L831.0 3066.3 L832.0 3058.7 L833.0 3051.2 L834.0 3043.6 L835.0 3036.1 L836.0 3028.5 L837.0 3021.0 L838.0 3013.4 L839.0 3005.9 L840.0 2998.3 L841.0 2990.8 L842.0 2983.2 L843.0 2975.7 L844.0 2968.1 L845.0 2960.6 L846.0 2947.8 L847.0 2935.0 L848.0 2922.1 L849.0 2909.3 L850.0 2896.5 L851.0 2883.7 L852.0 2870.8 L853.0 2858.0 L854.0 2845.2 L855.0 2832.4 L856.0 2819.5 L857.0 2806.7 L858.0 2793.9 L859.0 2781.1 L860.0 2768.2 L861.0 2755.4 L862.0 2742.6 L863.0 2729.7 L864.0 2716.7 L865.0 2703.7 L866.0 2690.7 L867.0 2677.6 L868.0 2664.6 L869.0 2651.6 L870.0 2638.6 L871.0 2625.6 L872.0 2619.3 L873.0 2613.1 L874.0 2606.8 L875.0 2600.6 L876.0 2599.0 L877.0 2597.4 L878.0 2595.8 L879.0 2594.2 L880.0 2592.6 L881.0 2595.3 L882.0 2598.1 L883.0 2600.8 L884.0 2603.6 L885.0 2609.1 L886.0 2614.6 L887.0 2620.1 L888.0 2625.6 L889.0 2632.1 L890.0 2638.6 L891.0 2645.1 L892.0 2651.6 L893.0 2658.1 L894.0 2664.6 L895.0 2671.1 L896.0 2677.6 L897.0 2684.1 L898.0 2690.6 L899.0 2694.7 L900.0 2698.8 L901.0 2703.0 L902.0 2707.1 L903.0 2711.2 L904.0 2715.3 L905.0 2719.5 L906.0 2723.6 L907.0 2722.0 L908.0 2720.3 L909.0 2718.7 L910.0 2717.1 L911.0 2715.5 L912.0 2713.8 L913.0 2712.2 L914.0 2710.6 L915.0 2708.5 L916.0 2706.3 L917.0 2704.2 L918.0 2702.0 L919.0 2699.9 L920.0 2697.7 L921.0 2695.6 L922.0 2697.0 L923.0 2698.3 L924.0 2699.7 L925.0 2701.1 L926.0 2702.4 L927.0 2703.8 L928.0 2710.1 L929.0 2723.8 L930.0 2737.5 L931.0 2751.1 L932.0 2764.8 L933.0 2778.5 L934.0 2792.2 L935.0 2805.9 L936.0 2819.6 L937.0 2835.3 L938.0 2850.9 L939.0 2866.6 L940.0 2882.3 L941.0 2897.9 L942.0 2913.6 L943.0 2929.3 L944.0 2944.9 L945.0 2960.6 L946.0 2974.6 L947.0 2988.6 L948.0 3002.6 L949.0 3016.6 L950.0 3030.6 L951.0 3044.6 L952.0 3058.6 L953.0 3072.6 L954.0 3086.6 L955.0 3100.6 L956.0 3110.9 L957.0 3121.1 L958.0 3131.4 L959.0 3141.6 L960.0 3151.9 L961.0 3162.1 L962.0 3172.4 L963.0 3182.6 L964.0 3192.9 L965.0 3203.1 L966.0 3213.4 L967.0 3223.6 L968.0 3233.9 L969.0 3244.1 L970.0 3254.4 L971.0 3263.9 L972.0 3270.6 L973.0 3277.3 L974.0 3283.9 L975.0 3290.6 L976.0 3297.3 L977.0 3303.9 L978.0 3310.6 L979.0 3316.4 L980.0 3322.3 L981.0 3328.1 L982.0 3333.9 L983.0 3339.8 L984.0 3345.6 L985.0 3349.8 L986.0 3354.0 L987.0 3358.2 L988.0 3362.3 L989.0 3366.5 L990.0 3370.7 L991.0 3374.9 L992.0 3379.1 L993.0 3383.3 L994.0 3387.2 L995.0 3390.1 L996.0 3393.1 L997.0 3396.0 L998.0 3398.9 L999.0 3401.9 L1000.0 3404.8 L1001.0 3407.7 L1002.0 3410.7 L1003.0 3413.6 L1004.0 3415.4 L1005.0 3417.2 L1006.0 3419.0 L1007.0 3420.8 L1008.0 3422.6 L1009.0 3424.4 L1010.0 3426.2 L1011.0 3428.0 L1012.0 3429.8 L1013.0 3431.6 L1014.0 3432.3 L1015.0 3433.0 L1016.0 3433.7 L1017.0 3434.3 L1018.0 3435.0 L1019.0 3435.7 L1020.0 3436.4 L1021.0 3437.1 L1022.0 3437.8 L1023.0 3438.4 L1024.0 3439.1 L1025.0 3439.8 L1026.0 3440.5 L1027.0 3441.2 L1028.0 3441.9 L1029.0 3442.5 L1030.0 3443.2 L1031.0 3443.9 L1032.0 3444.6 L1033.0 3444.8 L1034.0 3445.0 L1035.0 3445.1 L1037.0 3444.8 L1042.5 3447.8 L1048.0 3448.6 L1053.5 3450.8 L1059.0 3445.5 L1064.5 3448.5 L1070.0 3448.7 L1075.5 3450.9 L1081.0 3452.0 L1086.5 3444.7 L1092.0 3452.4 L1097.5 3447.6 L1103.0 3452.1 L1108.5 3448.0 L1114.0 3451.5 L1119.5 3453.6 L1125.0 3451.1 L1130.5 3452.0 L1136.0 3453.3 L1141.5 3452.2 L1147.0 3451.9 L1152.5 3455.0 L1158.0 3454.4 L1163.5 3451.9 L1169.0 3455.0 L1174.5 3450.5 L1180.0 3454.8 L1185.5 3452.5 L1191.0 3453.4 L1196.5 3454.5 L1202.0 3453.6 L1207.5 3454.5 L1213.0 3450.3 L1218.5 3450.3 L1224.0 3454.6 L1229.5 3451.5 L1235.0 3451.4 L1240.5 3450.6 L1246.0 3455.0 L1251.5 3455.0 L1257.0 3455.0 L1262.5 3451.8 L1268.0 3453.7 L1273.5 3451.5 L1279.0 3455.0" fill="none" stroke="#1a0a0a" stroke-width="3.00" stroke-linejoin="round" stroke-linecap="round" />
<text transform="translate(9.58 2535.00) scale(1.0394 1)" font-size="148.94" font-weight="bold">c</text>
<text transform="translate(69.60 3219.25) rotate(-90) scale(1.0340 1)" font-size="81.83" font-weight="bold">Intensity (a.u.)</text>
<text transform="translate(113.94 3539.00) scale(1.0644 1)" font-size="60.75" font-weight="bold">68</text>
<text transform="translate(339.07 3540.80) scale(1.0488 1)" font-size="60.68" font-weight="bold">64</text>
<text transform="translate(564.80 3537.60) scale(1.0065 1)" font-size="62.56" font-weight="bold">60</text>
<text transform="translate(791.43 3540.80) scale(1.0579 1)" font-size="60.68" font-weight="bold">56</text>
<text transform="translate(1025.00 3540.80) scale(1.0705 1)" font-size="60.68" font-weight="bold">52</text>
<text transform="translate(383.94 3615.60) scale(1.0418 1)" font-size="80.31" font-weight="bold">Binding energy (eV)</text>
<text transform="translate(868.87 2759.30) scale(1.1780 1)" font-size="40.45" stroke="#0a0a0a" stroke-width="0.60">2H</text>
<line x1="908.3" y1="2781.0" x2="924.0" y2="2877.0" stroke="#111" stroke-width="2.00" stroke-linecap="round"/>
<line x1="924.0" y1="2877.0" x2="915.1" y2="2866.2" stroke="#111" stroke-width="2.00" stroke-linecap="round"/>
<line x1="924.0" y1="2877.0" x2="929.0" y2="2863.9" stroke="#111" stroke-width="2.00" stroke-linecap="round"/>
<line x1="908.3" y1="2781.0" x2="893.0" y2="3056.0" stroke="#111" stroke-width="2.00" stroke-linecap="round"/>
<line x1="893.0" y1="3056.0" x2="886.7" y2="3043.5" stroke="#111" stroke-width="2.00" stroke-linecap="round"/>
<line x1="893.0" y1="3056.0" x2="900.7" y2="3044.3" stroke="#111" stroke-width="2.00" stroke-linecap="round"/>
<text transform="translate(965.93 3138.30) scale(1.1254 1)" font-size="41.36" stroke="#0a0a0a" stroke-width="0.60">1T</text>
<line x1="981.6" y1="3161.7" x2="921.0" y2="3293.0" stroke="#111" stroke-width="2.00" stroke-linecap="round"/>
<line x1="921.0" y1="3293.0" x2="919.6" y2="3278.1" stroke="#111" stroke-width="2.00" stroke-linecap="round"/>
<line x1="921.0" y1="3293.0" x2="933.3" y2="3284.3" stroke="#111" stroke-width="2.00" stroke-linecap="round"/>
<line x1="981.6" y1="3161.7" x2="965.6" y2="3286.5" stroke="#111" stroke-width="2.00" stroke-linecap="round"/>
<line x1="965.6" y1="3286.5" x2="960.6" y2="3274.5" stroke="#111" stroke-width="2.00" stroke-linecap="round"/>
<line x1="965.6" y1="3286.5" x2="973.5" y2="3276.2" stroke="#111" stroke-width="2.00" stroke-linecap="round"/>
</svg>
</body></html>
